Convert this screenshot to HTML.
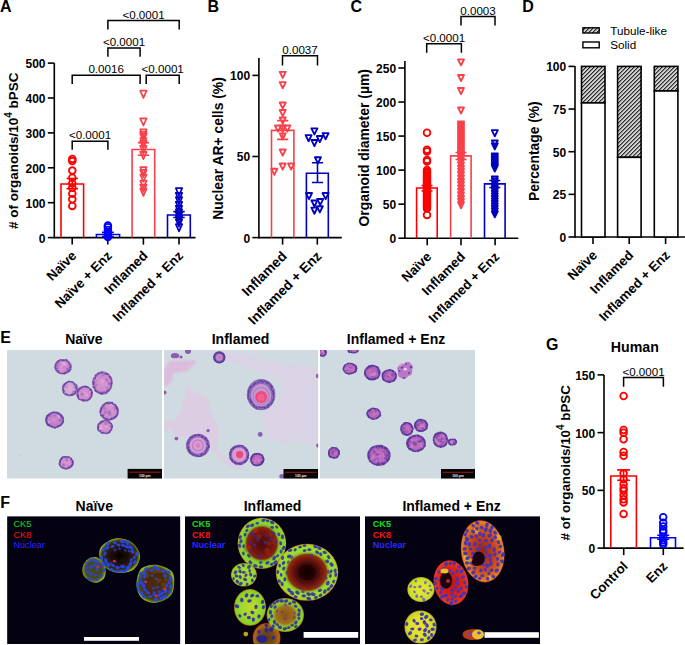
<!DOCTYPE html>
<html><head><meta charset="utf-8"><style>
html,body{margin:0;padding:0;background:#fff;}
svg{display:block;font-family:"Liberation Sans", sans-serif;}
</style></head><body>
<svg width="685" height="645" viewBox="0 0 685 645">
<rect width="685" height="645" fill="#fff"/>
<text x="0.00" y="11.80" font-size="16" font-weight="bold" text-anchor="start" fill="#000" >A</text>
<text x="207.60" y="11.80" font-size="16" font-weight="bold" text-anchor="start" fill="#000" >B</text>
<text x="350.60" y="11.80" font-size="16" font-weight="bold" text-anchor="start" fill="#000" >C</text>
<text x="522.30" y="11.80" font-size="16" font-weight="bold" text-anchor="start" fill="#000" >D</text>
<text x="0.20" y="343.10" font-size="16" font-weight="bold" text-anchor="start" fill="#000" >E</text>
<text x="0.20" y="507.90" font-size="16" font-weight="bold" text-anchor="start" fill="#000" >F</text>
<text x="546.00" y="350.20" font-size="16" font-weight="bold" text-anchor="start" fill="#000" >G</text>
<line x1="54.30" y1="63.10" x2="54.30" y2="238.40" stroke="#000" stroke-width="1.6"/>
<line x1="47.80" y1="237.60" x2="54.30" y2="237.60" stroke="#000" stroke-width="1.6"/>
<text x="45.50" y="242.50" font-size="12" font-weight="bold" text-anchor="end" fill="#000" >0</text>
<line x1="47.80" y1="202.70" x2="54.30" y2="202.70" stroke="#000" stroke-width="1.6"/>
<text x="45.50" y="207.60" font-size="12" font-weight="bold" text-anchor="end" fill="#000" >100</text>
<line x1="47.80" y1="167.80" x2="54.30" y2="167.80" stroke="#000" stroke-width="1.6"/>
<text x="45.50" y="172.70" font-size="12" font-weight="bold" text-anchor="end" fill="#000" >200</text>
<line x1="47.80" y1="132.90" x2="54.30" y2="132.90" stroke="#000" stroke-width="1.6"/>
<text x="45.50" y="137.80" font-size="12" font-weight="bold" text-anchor="end" fill="#000" >300</text>
<line x1="47.80" y1="98.00" x2="54.30" y2="98.00" stroke="#000" stroke-width="1.6"/>
<text x="45.50" y="102.90" font-size="12" font-weight="bold" text-anchor="end" fill="#000" >400</text>
<line x1="47.80" y1="63.10" x2="54.30" y2="63.10" stroke="#000" stroke-width="1.6"/>
<text x="45.50" y="68.00" font-size="12" font-weight="bold" text-anchor="end" fill="#000" >500</text>
<line x1="54.30" y1="237.60" x2="195.50" y2="237.60" stroke="#000" stroke-width="1.6"/>
<line x1="72.20" y1="237.60" x2="72.20" y2="244.60" stroke="#000" stroke-width="1.6"/>
<line x1="107.80" y1="237.60" x2="107.80" y2="244.60" stroke="#000" stroke-width="1.6"/>
<line x1="143.40" y1="237.60" x2="143.40" y2="244.60" stroke="#000" stroke-width="1.6"/>
<line x1="179.00" y1="237.60" x2="179.00" y2="244.60" stroke="#000" stroke-width="1.6"/>
<text x="17.90" y="150.80" font-size="13.45" font-weight="bold" text-anchor="middle" transform="rotate(-90 17.90 150.80)"># of organoids/10<tspan font-size="10" dy="-6.2">4</tspan><tspan dy="6.2"> bPSC</tspan></text>
<path d="M61.00 237.60V184.00H83.60V237.60" fill="none" stroke="#ff0000" stroke-width="1.6"/>
<path d="M96.40 237.60V234.50H119.60V237.60" fill="none" stroke="#0000ff" stroke-width="1.6"/>
<path d="M132.10 237.60V149.50H154.70V237.60" fill="none" stroke="#f8414a" stroke-width="1.6"/>
<path d="M167.50 237.60V215.00H190.30V237.60" fill="none" stroke="#0000bf" stroke-width="1.6"/>
<circle cx="72.30" cy="158.90" r="3.35" fill="none" stroke="#ff0000" stroke-width="1.8"/>
<circle cx="72.30" cy="161.10" r="3.35" fill="none" stroke="#ff0000" stroke-width="1.8"/>
<circle cx="72.30" cy="170.60" r="3.35" fill="none" stroke="#ff0000" stroke-width="1.8"/>
<circle cx="72.30" cy="177.70" r="3.35" fill="none" stroke="#ff0000" stroke-width="1.8"/>
<circle cx="72.30" cy="183.20" r="3.35" fill="none" stroke="#ff0000" stroke-width="1.8"/>
<circle cx="72.30" cy="187.80" r="3.35" fill="none" stroke="#ff0000" stroke-width="1.8"/>
<circle cx="72.30" cy="193.80" r="3.35" fill="none" stroke="#ff0000" stroke-width="1.8"/>
<circle cx="72.30" cy="199.30" r="3.35" fill="none" stroke="#ff0000" stroke-width="1.8"/>
<circle cx="72.30" cy="205.90" r="3.35" fill="none" stroke="#ff0000" stroke-width="1.8"/>
<path d="M66.60 178.50H78.00M72.30 178.50V188.60M66.60 188.60H78.00" fill="none" stroke="#ff0000" stroke-width="1.6"/>
<circle cx="107.90" cy="225.50" r="3.35" fill="none" stroke="#0000ff" stroke-width="1.8"/>
<circle cx="107.90" cy="227.30" r="3.35" fill="none" stroke="#0000ff" stroke-width="1.8"/>
<circle cx="107.90" cy="230.00" r="3.35" fill="none" stroke="#0000ff" stroke-width="1.8"/>
<circle cx="107.90" cy="232.70" r="3.35" fill="none" stroke="#0000ff" stroke-width="1.8"/>
<circle cx="107.90" cy="235.00" r="3.35" fill="none" stroke="#0000ff" stroke-width="1.8"/>
<circle cx="107.90" cy="236.90" r="3.35" fill="none" stroke="#0000ff" stroke-width="1.8"/>
<path d="M102.00 232.40H113.80M107.90 232.40V236.50M102.00 236.50H113.80" fill="none" stroke="#0000ff" stroke-width="1.6"/>
<path d="M140.20 90.70H146.60L143.40 97.90Z" fill="none" stroke="#f8414a" stroke-width="1.7" stroke-linejoin="round"/>
<path d="M140.20 118.30H146.60L143.40 125.50Z" fill="none" stroke="#f8414a" stroke-width="1.7" stroke-linejoin="round"/>
<path d="M140.20 129.30H146.60L143.40 136.50Z" fill="none" stroke="#f8414a" stroke-width="1.7" stroke-linejoin="round"/>
<path d="M140.20 131.90H146.60L143.40 139.10Z" fill="none" stroke="#f8414a" stroke-width="1.7" stroke-linejoin="round"/>
<path d="M140.20 133.70H146.60L143.40 140.90Z" fill="none" stroke="#f8414a" stroke-width="1.7" stroke-linejoin="round"/>
<path d="M140.20 138.00H146.60L143.40 145.20Z" fill="none" stroke="#f8414a" stroke-width="1.7" stroke-linejoin="round"/>
<path d="M140.20 140.90H146.60L143.40 148.10Z" fill="none" stroke="#f8414a" stroke-width="1.7" stroke-linejoin="round"/>
<path d="M140.20 145.90H146.60L143.40 153.10Z" fill="none" stroke="#f8414a" stroke-width="1.7" stroke-linejoin="round"/>
<path d="M140.20 151.90H146.60L143.40 159.10Z" fill="none" stroke="#f8414a" stroke-width="1.7" stroke-linejoin="round"/>
<path d="M140.20 167.20H146.60L143.40 174.40Z" fill="none" stroke="#f8414a" stroke-width="1.7" stroke-linejoin="round"/>
<path d="M140.20 169.90H146.60L143.40 177.10Z" fill="none" stroke="#f8414a" stroke-width="1.7" stroke-linejoin="round"/>
<path d="M140.20 174.50H146.60L143.40 181.70Z" fill="none" stroke="#f8414a" stroke-width="1.7" stroke-linejoin="round"/>
<path d="M140.20 180.70H146.60L143.40 187.90Z" fill="none" stroke="#f8414a" stroke-width="1.7" stroke-linejoin="round"/>
<path d="M140.20 184.60H146.60L143.40 191.80Z" fill="none" stroke="#f8414a" stroke-width="1.7" stroke-linejoin="round"/>
<path d="M140.20 188.60H146.60L143.40 195.80Z" fill="none" stroke="#f8414a" stroke-width="1.7" stroke-linejoin="round"/>
<path d="M137.80 142.60H149.00M143.40 142.60V155.30M137.80 155.30H149.00" fill="none" stroke="#f8414a" stroke-width="1.6"/>
<path d="M175.80 188.20H182.20L179.00 195.40Z" fill="none" stroke="#0000bf" stroke-width="1.7" stroke-linejoin="round"/>
<path d="M175.80 192.90H182.20L179.00 200.10Z" fill="none" stroke="#0000bf" stroke-width="1.7" stroke-linejoin="round"/>
<path d="M175.80 197.20H182.20L179.00 204.40Z" fill="none" stroke="#0000bf" stroke-width="1.7" stroke-linejoin="round"/>
<path d="M175.80 201.90H182.20L179.00 209.10Z" fill="none" stroke="#0000bf" stroke-width="1.7" stroke-linejoin="round"/>
<path d="M175.80 205.90H182.20L179.00 213.10Z" fill="none" stroke="#0000bf" stroke-width="1.7" stroke-linejoin="round"/>
<path d="M175.80 209.40H182.20L179.00 216.60Z" fill="none" stroke="#0000bf" stroke-width="1.7" stroke-linejoin="round"/>
<path d="M175.80 212.40H182.20L179.00 219.60Z" fill="none" stroke="#0000bf" stroke-width="1.7" stroke-linejoin="round"/>
<path d="M175.80 215.90H182.20L179.00 223.10Z" fill="none" stroke="#0000bf" stroke-width="1.7" stroke-linejoin="round"/>
<path d="M175.80 219.40H182.20L179.00 226.60Z" fill="none" stroke="#0000bf" stroke-width="1.7" stroke-linejoin="round"/>
<path d="M175.80 224.20H182.20L179.00 231.40Z" fill="none" stroke="#0000bf" stroke-width="1.7" stroke-linejoin="round"/>
<path d="M173.30 211.60H184.70M179.00 211.60V217.50M173.30 217.50H184.70" fill="none" stroke="#0000bf" stroke-width="1.6"/>
<path d="M72.20 149.80V141.30H107.90V149.80" fill="none" stroke="#000" stroke-width="1.5"/>
<text x="90.05" y="139.40" font-size="11.6" font-weight="normal" text-anchor="middle" fill="#000" >&lt;0.0001</text>
<path d="M72.20 84.00V75.20H140.10V84.00" fill="none" stroke="#000" stroke-width="1.5"/>
<text x="106.15" y="73.30" font-size="11.6" font-weight="normal" text-anchor="middle" fill="#000" >0.0016</text>
<path d="M146.20 84.00V75.20H179.20V84.00" fill="none" stroke="#000" stroke-width="1.5"/>
<text x="162.70" y="73.30" font-size="11.6" font-weight="normal" text-anchor="middle" fill="#000" >&lt;0.0001</text>
<path d="M107.90 56.80V48.10H140.10V56.80" fill="none" stroke="#000" stroke-width="1.5"/>
<text x="124.00" y="46.20" font-size="11.6" font-weight="normal" text-anchor="middle" fill="#000" >&lt;0.0001</text>
<path d="M107.90 29.50V20.40H179.20V29.50" fill="none" stroke="#000" stroke-width="1.5"/>
<text x="143.55" y="18.50" font-size="11.6" font-weight="normal" text-anchor="middle" fill="#000" >&lt;0.0001</text>
<text x="77.20" y="256.50" font-size="13.3" font-weight="bold" text-anchor="end" transform="rotate(-45 77.20 256.50)">Naïve</text>
<text x="112.80" y="256.50" font-size="13.3" font-weight="bold" text-anchor="end" transform="rotate(-45 112.80 256.50)">Naïve + Enz</text>
<text x="148.40" y="256.50" font-size="13.3" font-weight="bold" text-anchor="end" transform="rotate(-45 148.40 256.50)">Inflamed</text>
<text x="184.00" y="256.50" font-size="13.3" font-weight="bold" text-anchor="end" transform="rotate(-45 184.00 256.50)">Inflamed + Enz</text>
<line x1="258.90" y1="58.10" x2="258.90" y2="238.40" stroke="#000" stroke-width="1.6"/>
<line x1="252.40" y1="237.60" x2="258.90" y2="237.60" stroke="#000" stroke-width="1.6"/>
<text x="250.10" y="242.50" font-size="12" font-weight="bold" text-anchor="end" fill="#000" >0</text>
<line x1="252.40" y1="156.50" x2="258.90" y2="156.50" stroke="#000" stroke-width="1.6"/>
<text x="250.10" y="161.40" font-size="12" font-weight="bold" text-anchor="end" fill="#000" >50</text>
<line x1="252.40" y1="75.40" x2="258.90" y2="75.40" stroke="#000" stroke-width="1.6"/>
<text x="250.10" y="80.30" font-size="12" font-weight="bold" text-anchor="end" fill="#000" >100</text>
<line x1="258.90" y1="237.60" x2="341.80" y2="237.60" stroke="#000" stroke-width="1.6"/>
<line x1="282.60" y1="237.60" x2="282.60" y2="244.60" stroke="#000" stroke-width="1.6"/>
<line x1="317.30" y1="237.60" x2="317.30" y2="244.60" stroke="#000" stroke-width="1.6"/>
<text x="222.50" y="148.50" font-size="13.9" font-weight="bold" text-anchor="middle" transform="rotate(-90 222.50 148.50)">Nuclear AR+ cells (%)</text>
<path d="M271.50 237.60V130.40H293.90V237.60" fill="none" stroke="#f8414a" stroke-width="1.6"/>
<path d="M306.40 237.60V173.30H328.30V237.60" fill="none" stroke="#0000bf" stroke-width="1.6"/>
<path d="M277.10 120.60H288.30M282.70 120.60V139.40M277.10 139.40H288.30" fill="none" stroke="#f8414a" stroke-width="1.6"/>
<path d="M311.90 162.70H323.10M317.50 162.70V182.50M311.90 182.50H323.10" fill="none" stroke="#0000bf" stroke-width="1.6"/>
<path d="M279.70 71.85H285.70L282.70 77.95Z" fill="none" stroke="#f8414a" stroke-width="1.9" stroke-linejoin="round"/>
<path d="M279.70 82.15H285.70L282.70 88.25Z" fill="none" stroke="#f8414a" stroke-width="1.9" stroke-linejoin="round"/>
<path d="M279.70 102.55H285.70L282.70 108.65Z" fill="none" stroke="#f8414a" stroke-width="1.9" stroke-linejoin="round"/>
<path d="M279.70 110.05H285.70L282.70 116.15Z" fill="none" stroke="#f8414a" stroke-width="1.9" stroke-linejoin="round"/>
<path d="M279.70 117.55H285.70L282.70 123.65Z" fill="none" stroke="#f8414a" stroke-width="1.9" stroke-linejoin="round"/>
<path d="M275.00 125.55H281.00L278.00 131.65Z" fill="none" stroke="#f8414a" stroke-width="1.9" stroke-linejoin="round"/>
<path d="M279.70 125.55H285.70L282.70 131.65Z" fill="none" stroke="#f8414a" stroke-width="1.9" stroke-linejoin="round"/>
<path d="M284.30 125.55H290.30L287.30 131.65Z" fill="none" stroke="#f8414a" stroke-width="1.9" stroke-linejoin="round"/>
<path d="M279.70 133.35H285.70L282.70 139.45Z" fill="none" stroke="#f8414a" stroke-width="1.9" stroke-linejoin="round"/>
<path d="M279.70 149.55H285.70L282.70 155.65Z" fill="none" stroke="#f8414a" stroke-width="1.9" stroke-linejoin="round"/>
<path d="M279.70 163.55H285.70L282.70 169.65Z" fill="none" stroke="#f8414a" stroke-width="1.9" stroke-linejoin="round"/>
<path d="M288.10 163.55H294.10L291.10 169.65Z" fill="none" stroke="#f8414a" stroke-width="1.9" stroke-linejoin="round"/>
<path d="M271.30 168.75H277.30L274.30 174.85Z" fill="none" stroke="#f8414a" stroke-width="1.9" stroke-linejoin="round"/>
<path d="M311.40 128.35H317.40L314.40 134.45Z" fill="none" stroke="#0000bf" stroke-width="1.9" stroke-linejoin="round"/>
<path d="M305.60 135.15H311.60L308.60 141.25Z" fill="none" stroke="#0000bf" stroke-width="1.9" stroke-linejoin="round"/>
<path d="M311.40 139.95H317.40L314.40 146.05Z" fill="none" stroke="#0000bf" stroke-width="1.9" stroke-linejoin="round"/>
<path d="M316.80 136.05H322.80L319.80 142.15Z" fill="none" stroke="#0000bf" stroke-width="1.9" stroke-linejoin="round"/>
<path d="M322.60 133.15H328.60L325.60 139.25Z" fill="none" stroke="#0000bf" stroke-width="1.9" stroke-linejoin="round"/>
<path d="M314.90 157.25H320.90L317.90 163.35Z" fill="none" stroke="#0000bf" stroke-width="1.9" stroke-linejoin="round"/>
<path d="M306.00 193.05H312.00L309.00 199.15Z" fill="none" stroke="#0000bf" stroke-width="1.9" stroke-linejoin="round"/>
<path d="M322.60 193.05H328.60L325.60 199.15Z" fill="none" stroke="#0000bf" stroke-width="1.9" stroke-linejoin="round"/>
<path d="M311.40 200.45H317.40L314.40 206.55Z" fill="none" stroke="#0000bf" stroke-width="1.9" stroke-linejoin="round"/>
<path d="M317.20 198.95H323.20L320.20 205.05Z" fill="none" stroke="#0000bf" stroke-width="1.9" stroke-linejoin="round"/>
<path d="M311.40 207.65H317.40L314.40 213.75Z" fill="none" stroke="#0000bf" stroke-width="1.9" stroke-linejoin="round"/>
<path d="M316.80 206.25H322.80L319.80 212.35Z" fill="none" stroke="#0000bf" stroke-width="1.9" stroke-linejoin="round"/>
<path d="M282.50 65.50V55.80H317.50V65.50" fill="none" stroke="#000" stroke-width="1.5"/>
<text x="300.00" y="53.90" font-size="11.6" font-weight="normal" text-anchor="middle" fill="#000" >0.0037</text>
<text x="287.60" y="257.00" font-size="13.8" font-weight="bold" text-anchor="end" transform="rotate(-45 287.60 257.00)">Inflamed</text>
<text x="322.30" y="257.00" font-size="13.8" font-weight="bold" text-anchor="end" transform="rotate(-45 322.30 257.00)">Inflamed + Enz</text>
<line x1="404.90" y1="60.90" x2="404.90" y2="239.00" stroke="#000" stroke-width="1.6"/>
<line x1="398.40" y1="238.20" x2="404.90" y2="238.20" stroke="#000" stroke-width="1.6"/>
<text x="396.10" y="243.10" font-size="12" font-weight="bold" text-anchor="end" fill="#000" >0</text>
<line x1="398.40" y1="204.16" x2="404.90" y2="204.16" stroke="#000" stroke-width="1.6"/>
<text x="396.10" y="209.06" font-size="12" font-weight="bold" text-anchor="end" fill="#000" >50</text>
<line x1="398.40" y1="170.12" x2="404.90" y2="170.12" stroke="#000" stroke-width="1.6"/>
<text x="396.10" y="175.02" font-size="12" font-weight="bold" text-anchor="end" fill="#000" >100</text>
<line x1="398.40" y1="136.08" x2="404.90" y2="136.08" stroke="#000" stroke-width="1.6"/>
<text x="396.10" y="140.98" font-size="12" font-weight="bold" text-anchor="end" fill="#000" >150</text>
<line x1="398.40" y1="102.04" x2="404.90" y2="102.04" stroke="#000" stroke-width="1.6"/>
<text x="396.10" y="106.94" font-size="12" font-weight="bold" text-anchor="end" fill="#000" >200</text>
<line x1="398.40" y1="68.00" x2="404.90" y2="68.00" stroke="#000" stroke-width="1.6"/>
<text x="396.10" y="72.90" font-size="12" font-weight="bold" text-anchor="end" fill="#000" >250</text>
<line x1="404.90" y1="238.20" x2="518.30" y2="238.20" stroke="#000" stroke-width="1.6"/>
<line x1="427.20" y1="238.20" x2="427.20" y2="245.20" stroke="#000" stroke-width="1.6"/>
<line x1="461.00" y1="238.20" x2="461.00" y2="245.20" stroke="#000" stroke-width="1.6"/>
<line x1="495.10" y1="238.20" x2="495.10" y2="245.20" stroke="#000" stroke-width="1.6"/>
<text x="369.50" y="147.80" font-size="13.95" font-weight="bold" text-anchor="middle" transform="rotate(-90 369.50 147.80)">Organoid diameter (µm)</text>
<path d="M416.60 238.20V188.00H437.20V238.20" fill="none" stroke="#ff0000" stroke-width="1.6"/>
<path d="M450.60 238.20V155.90H471.10V238.20" fill="none" stroke="#f8414a" stroke-width="1.6"/>
<path d="M484.50 238.20V183.90H505.10V238.20" fill="none" stroke="#0000bf" stroke-width="1.6"/>
<circle cx="427.00" cy="132.80" r="3.35" fill="none" stroke="#ff0000" stroke-width="1.8"/>
<circle cx="427.00" cy="149.80" r="3.35" fill="none" stroke="#ff0000" stroke-width="1.8"/>
<circle cx="427.00" cy="151.40" r="3.35" fill="none" stroke="#ff0000" stroke-width="1.8"/>
<circle cx="427.00" cy="159.90" r="3.35" fill="none" stroke="#ff0000" stroke-width="1.8"/>
<circle cx="427.00" cy="161.40" r="3.35" fill="none" stroke="#ff0000" stroke-width="1.8"/>
<circle cx="427.00" cy="170.00" r="3.35" fill="none" stroke="#ff0000" stroke-width="1.8"/>
<circle cx="427.00" cy="171.42" r="3.35" fill="none" stroke="#ff0000" stroke-width="1.8"/>
<circle cx="427.00" cy="172.84" r="3.35" fill="none" stroke="#ff0000" stroke-width="1.8"/>
<circle cx="427.00" cy="174.27" r="3.35" fill="none" stroke="#ff0000" stroke-width="1.8"/>
<circle cx="427.00" cy="175.69" r="3.35" fill="none" stroke="#ff0000" stroke-width="1.8"/>
<circle cx="427.00" cy="177.11" r="3.35" fill="none" stroke="#ff0000" stroke-width="1.8"/>
<circle cx="427.00" cy="178.53" r="3.35" fill="none" stroke="#ff0000" stroke-width="1.8"/>
<circle cx="427.00" cy="179.96" r="3.35" fill="none" stroke="#ff0000" stroke-width="1.8"/>
<circle cx="427.00" cy="181.38" r="3.35" fill="none" stroke="#ff0000" stroke-width="1.8"/>
<circle cx="427.00" cy="182.80" r="3.35" fill="none" stroke="#ff0000" stroke-width="1.8"/>
<circle cx="427.00" cy="184.22" r="3.35" fill="none" stroke="#ff0000" stroke-width="1.8"/>
<circle cx="427.00" cy="185.64" r="3.35" fill="none" stroke="#ff0000" stroke-width="1.8"/>
<circle cx="427.00" cy="187.07" r="3.35" fill="none" stroke="#ff0000" stroke-width="1.8"/>
<circle cx="427.00" cy="188.49" r="3.35" fill="none" stroke="#ff0000" stroke-width="1.8"/>
<circle cx="427.00" cy="189.91" r="3.35" fill="none" stroke="#ff0000" stroke-width="1.8"/>
<circle cx="427.00" cy="191.33" r="3.35" fill="none" stroke="#ff0000" stroke-width="1.8"/>
<circle cx="427.00" cy="192.76" r="3.35" fill="none" stroke="#ff0000" stroke-width="1.8"/>
<circle cx="427.00" cy="194.18" r="3.35" fill="none" stroke="#ff0000" stroke-width="1.8"/>
<circle cx="427.00" cy="195.60" r="3.35" fill="none" stroke="#ff0000" stroke-width="1.8"/>
<circle cx="427.00" cy="197.02" r="3.35" fill="none" stroke="#ff0000" stroke-width="1.8"/>
<circle cx="427.00" cy="198.44" r="3.35" fill="none" stroke="#ff0000" stroke-width="1.8"/>
<circle cx="427.00" cy="199.87" r="3.35" fill="none" stroke="#ff0000" stroke-width="1.8"/>
<circle cx="427.00" cy="201.29" r="3.35" fill="none" stroke="#ff0000" stroke-width="1.8"/>
<circle cx="427.00" cy="202.71" r="3.35" fill="none" stroke="#ff0000" stroke-width="1.8"/>
<circle cx="427.00" cy="204.13" r="3.35" fill="none" stroke="#ff0000" stroke-width="1.8"/>
<circle cx="427.00" cy="205.56" r="3.35" fill="none" stroke="#ff0000" stroke-width="1.8"/>
<circle cx="427.00" cy="206.98" r="3.35" fill="none" stroke="#ff0000" stroke-width="1.8"/>
<circle cx="427.00" cy="208.40" r="3.35" fill="none" stroke="#ff0000" stroke-width="1.8"/>
<circle cx="427.00" cy="214.90" r="3.35" fill="none" stroke="#ff0000" stroke-width="1.8"/>
<path d="M421.50 185.50H432.50M427.00 185.50V191.00M421.50 191.00H432.50" fill="none" stroke="#ff0000" stroke-width="1.6"/>
<path d="M458.00 59.35H464.00L461.00 65.45Z" fill="none" stroke="#f8414a" stroke-width="1.9" stroke-linejoin="round"/>
<path d="M458.00 74.95H464.00L461.00 81.05Z" fill="none" stroke="#f8414a" stroke-width="1.9" stroke-linejoin="round"/>
<path d="M458.00 87.95H464.00L461.00 94.05Z" fill="none" stroke="#f8414a" stroke-width="1.9" stroke-linejoin="round"/>
<path d="M458.00 107.45H464.00L461.00 113.55Z" fill="none" stroke="#f8414a" stroke-width="1.9" stroke-linejoin="round"/>
<path d="M458.00 121.45H464.00L461.00 127.55Z" fill="none" stroke="#f8414a" stroke-width="1.9" stroke-linejoin="round"/>
<path d="M458.00 123.05H464.00L461.00 129.15Z" fill="none" stroke="#f8414a" stroke-width="1.9" stroke-linejoin="round"/>
<path d="M458.00 124.65H464.00L461.00 130.75Z" fill="none" stroke="#f8414a" stroke-width="1.9" stroke-linejoin="round"/>
<path d="M458.00 126.25H464.00L461.00 132.35Z" fill="none" stroke="#f8414a" stroke-width="1.9" stroke-linejoin="round"/>
<path d="M458.00 127.85H464.00L461.00 133.95Z" fill="none" stroke="#f8414a" stroke-width="1.9" stroke-linejoin="round"/>
<path d="M458.00 129.45H464.00L461.00 135.55Z" fill="none" stroke="#f8414a" stroke-width="1.9" stroke-linejoin="round"/>
<path d="M458.00 131.05H464.00L461.00 137.15Z" fill="none" stroke="#f8414a" stroke-width="1.9" stroke-linejoin="round"/>
<path d="M458.00 132.65H464.00L461.00 138.75Z" fill="none" stroke="#f8414a" stroke-width="1.9" stroke-linejoin="round"/>
<path d="M458.00 134.25H464.00L461.00 140.35Z" fill="none" stroke="#f8414a" stroke-width="1.9" stroke-linejoin="round"/>
<path d="M458.00 135.85H464.00L461.00 141.95Z" fill="none" stroke="#f8414a" stroke-width="1.9" stroke-linejoin="round"/>
<path d="M458.00 137.45H464.00L461.00 143.55Z" fill="none" stroke="#f8414a" stroke-width="1.9" stroke-linejoin="round"/>
<path d="M458.00 139.05H464.00L461.00 145.15Z" fill="none" stroke="#f8414a" stroke-width="1.9" stroke-linejoin="round"/>
<path d="M458.00 140.65H464.00L461.00 146.75Z" fill="none" stroke="#f8414a" stroke-width="1.9" stroke-linejoin="round"/>
<path d="M458.00 142.25H464.00L461.00 148.35Z" fill="none" stroke="#f8414a" stroke-width="1.9" stroke-linejoin="round"/>
<path d="M458.00 143.85H464.00L461.00 149.95Z" fill="none" stroke="#f8414a" stroke-width="1.9" stroke-linejoin="round"/>
<path d="M458.00 145.45H464.00L461.00 151.55Z" fill="none" stroke="#f8414a" stroke-width="1.9" stroke-linejoin="round"/>
<path d="M458.00 147.05H464.00L461.00 153.15Z" fill="none" stroke="#f8414a" stroke-width="1.9" stroke-linejoin="round"/>
<path d="M458.00 148.65H464.00L461.00 154.75Z" fill="none" stroke="#f8414a" stroke-width="1.9" stroke-linejoin="round"/>
<path d="M458.00 150.25H464.00L461.00 156.35Z" fill="none" stroke="#f8414a" stroke-width="1.9" stroke-linejoin="round"/>
<path d="M458.00 151.85H464.00L461.00 157.95Z" fill="none" stroke="#f8414a" stroke-width="1.9" stroke-linejoin="round"/>
<path d="M458.00 153.45H464.00L461.00 159.55Z" fill="none" stroke="#f8414a" stroke-width="1.9" stroke-linejoin="round"/>
<path d="M458.00 155.05H464.00L461.00 161.15Z" fill="none" stroke="#f8414a" stroke-width="1.9" stroke-linejoin="round"/>
<path d="M458.00 156.65H464.00L461.00 162.75Z" fill="none" stroke="#f8414a" stroke-width="1.9" stroke-linejoin="round"/>
<path d="M458.00 158.95H464.00L461.00 165.05Z" fill="none" stroke="#f8414a" stroke-width="1.9" stroke-linejoin="round"/>
<path d="M458.00 162.45H464.00L461.00 168.55Z" fill="none" stroke="#f8414a" stroke-width="1.9" stroke-linejoin="round"/>
<path d="M458.00 165.95H464.00L461.00 172.05Z" fill="none" stroke="#f8414a" stroke-width="1.9" stroke-linejoin="round"/>
<path d="M458.00 168.95H464.00L461.00 175.05Z" fill="none" stroke="#f8414a" stroke-width="1.9" stroke-linejoin="round"/>
<path d="M458.00 171.95H464.00L461.00 178.05Z" fill="none" stroke="#f8414a" stroke-width="1.9" stroke-linejoin="round"/>
<path d="M458.00 175.45H464.00L461.00 181.55Z" fill="none" stroke="#f8414a" stroke-width="1.9" stroke-linejoin="round"/>
<path d="M458.00 178.95H464.00L461.00 185.05Z" fill="none" stroke="#f8414a" stroke-width="1.9" stroke-linejoin="round"/>
<path d="M458.00 181.95H464.00L461.00 188.05Z" fill="none" stroke="#f8414a" stroke-width="1.9" stroke-linejoin="round"/>
<path d="M458.00 185.45H464.00L461.00 191.55Z" fill="none" stroke="#f8414a" stroke-width="1.9" stroke-linejoin="round"/>
<path d="M458.00 188.95H464.00L461.00 195.05Z" fill="none" stroke="#f8414a" stroke-width="1.9" stroke-linejoin="round"/>
<path d="M458.00 192.45H464.00L461.00 198.55Z" fill="none" stroke="#f8414a" stroke-width="1.9" stroke-linejoin="round"/>
<path d="M458.00 195.95H464.00L461.00 202.05Z" fill="none" stroke="#f8414a" stroke-width="1.9" stroke-linejoin="round"/>
<path d="M458.00 198.95H464.00L461.00 205.05Z" fill="none" stroke="#f8414a" stroke-width="1.9" stroke-linejoin="round"/>
<path d="M458.00 202.15H464.00L461.00 208.25Z" fill="none" stroke="#f8414a" stroke-width="1.9" stroke-linejoin="round"/>
<path d="M455.50 152.50H466.50M461.00 152.50V159.50M455.50 159.50H466.50" fill="none" stroke="#f8414a" stroke-width="1.6"/>
<path d="M491.80 130.15H497.80L494.80 136.25Z" fill="none" stroke="#0000bf" stroke-width="1.9" stroke-linejoin="round"/>
<path d="M491.80 140.45H497.80L494.80 146.55Z" fill="none" stroke="#0000bf" stroke-width="1.9" stroke-linejoin="round"/>
<path d="M491.80 143.35H497.80L494.80 149.45Z" fill="none" stroke="#0000bf" stroke-width="1.9" stroke-linejoin="round"/>
<path d="M491.80 153.45H497.80L494.80 159.55Z" fill="none" stroke="#0000bf" stroke-width="1.9" stroke-linejoin="round"/>
<path d="M491.80 154.95H497.80L494.80 161.05Z" fill="none" stroke="#0000bf" stroke-width="1.9" stroke-linejoin="round"/>
<path d="M491.80 156.45H497.80L494.80 162.55Z" fill="none" stroke="#0000bf" stroke-width="1.9" stroke-linejoin="round"/>
<path d="M491.80 157.95H497.80L494.80 164.05Z" fill="none" stroke="#0000bf" stroke-width="1.9" stroke-linejoin="round"/>
<path d="M491.80 159.45H497.80L494.80 165.55Z" fill="none" stroke="#0000bf" stroke-width="1.9" stroke-linejoin="round"/>
<path d="M491.80 160.95H497.80L494.80 167.05Z" fill="none" stroke="#0000bf" stroke-width="1.9" stroke-linejoin="round"/>
<path d="M491.80 162.45H497.80L494.80 168.55Z" fill="none" stroke="#0000bf" stroke-width="1.9" stroke-linejoin="round"/>
<path d="M491.80 163.95H497.80L494.80 170.05Z" fill="none" stroke="#0000bf" stroke-width="1.9" stroke-linejoin="round"/>
<path d="M491.80 165.45H497.80L494.80 171.55Z" fill="none" stroke="#0000bf" stroke-width="1.9" stroke-linejoin="round"/>
<path d="M491.80 176.45H497.80L494.80 182.55Z" fill="none" stroke="#0000bf" stroke-width="1.9" stroke-linejoin="round"/>
<path d="M491.80 178.45H497.80L494.80 184.55Z" fill="none" stroke="#0000bf" stroke-width="1.9" stroke-linejoin="round"/>
<path d="M491.80 180.95H497.80L494.80 187.05Z" fill="none" stroke="#0000bf" stroke-width="1.9" stroke-linejoin="round"/>
<path d="M491.80 183.45H497.80L494.80 189.55Z" fill="none" stroke="#0000bf" stroke-width="1.9" stroke-linejoin="round"/>
<path d="M491.80 185.95H497.80L494.80 192.05Z" fill="none" stroke="#0000bf" stroke-width="1.9" stroke-linejoin="round"/>
<path d="M491.80 188.45H497.80L494.80 194.55Z" fill="none" stroke="#0000bf" stroke-width="1.9" stroke-linejoin="round"/>
<path d="M491.80 190.95H497.80L494.80 197.05Z" fill="none" stroke="#0000bf" stroke-width="1.9" stroke-linejoin="round"/>
<path d="M491.80 193.45H497.80L494.80 199.55Z" fill="none" stroke="#0000bf" stroke-width="1.9" stroke-linejoin="round"/>
<path d="M491.80 195.95H497.80L494.80 202.05Z" fill="none" stroke="#0000bf" stroke-width="1.9" stroke-linejoin="round"/>
<path d="M491.80 198.45H497.80L494.80 204.55Z" fill="none" stroke="#0000bf" stroke-width="1.9" stroke-linejoin="round"/>
<path d="M491.80 200.95H497.80L494.80 207.05Z" fill="none" stroke="#0000bf" stroke-width="1.9" stroke-linejoin="round"/>
<path d="M491.80 203.45H497.80L494.80 209.55Z" fill="none" stroke="#0000bf" stroke-width="1.9" stroke-linejoin="round"/>
<path d="M491.80 205.95H497.80L494.80 212.05Z" fill="none" stroke="#0000bf" stroke-width="1.9" stroke-linejoin="round"/>
<path d="M491.80 208.45H497.80L494.80 214.55Z" fill="none" stroke="#0000bf" stroke-width="1.9" stroke-linejoin="round"/>
<path d="M491.80 211.25H497.80L494.80 217.35Z" fill="none" stroke="#0000bf" stroke-width="1.9" stroke-linejoin="round"/>
<path d="M489.30 180.50H500.30M494.80 180.50V187.50M489.30 187.50H500.30" fill="none" stroke="#0000bf" stroke-width="1.6"/>
<path d="M426.70 52.80V43.80H461.40V52.80" fill="none" stroke="#000" stroke-width="1.5"/>
<text x="444.05" y="41.90" font-size="11.6" font-weight="normal" text-anchor="middle" fill="#000" >&lt;0.0001</text>
<path d="M461.00 25.50V16.50H495.00V25.50" fill="none" stroke="#000" stroke-width="1.5"/>
<text x="478.00" y="14.60" font-size="11.6" font-weight="normal" text-anchor="middle" fill="#000" >0.0003</text>
<text x="432.20" y="257.60" font-size="13.3" font-weight="bold" text-anchor="end" transform="rotate(-45 432.20 257.60)">Naïve</text>
<text x="466.00" y="257.60" font-size="13.3" font-weight="bold" text-anchor="end" transform="rotate(-45 466.00 257.60)">Inflamed</text>
<text x="500.10" y="257.60" font-size="13.3" font-weight="bold" text-anchor="end" transform="rotate(-45 500.10 257.60)">Inflamed + Enz</text>
<line x1="575.00" y1="66.00" x2="575.00" y2="237.80" stroke="#000" stroke-width="1.6"/>
<line x1="568.50" y1="237.00" x2="575.00" y2="237.00" stroke="#000" stroke-width="1.6"/>
<text x="566.20" y="241.90" font-size="12" font-weight="bold" text-anchor="end" fill="#000" >0</text>
<line x1="568.50" y1="194.35" x2="575.00" y2="194.35" stroke="#000" stroke-width="1.6"/>
<text x="566.20" y="199.25" font-size="12" font-weight="bold" text-anchor="end" fill="#000" >25</text>
<line x1="568.50" y1="151.70" x2="575.00" y2="151.70" stroke="#000" stroke-width="1.6"/>
<text x="566.20" y="156.60" font-size="12" font-weight="bold" text-anchor="end" fill="#000" >50</text>
<line x1="568.50" y1="109.05" x2="575.00" y2="109.05" stroke="#000" stroke-width="1.6"/>
<text x="566.20" y="113.95" font-size="12" font-weight="bold" text-anchor="end" fill="#000" >75</text>
<line x1="568.50" y1="66.40" x2="575.00" y2="66.40" stroke="#000" stroke-width="1.6"/>
<text x="566.20" y="71.30" font-size="12" font-weight="bold" text-anchor="end" fill="#000" >100</text>
<line x1="575.00" y1="237.00" x2="685.50" y2="237.00" stroke="#000" stroke-width="1.6"/>
<line x1="593.00" y1="237.00" x2="593.00" y2="244.00" stroke="#000" stroke-width="1.6"/>
<line x1="629.20" y1="237.00" x2="629.20" y2="244.00" stroke="#000" stroke-width="1.6"/>
<line x1="665.60" y1="237.00" x2="665.60" y2="244.00" stroke="#000" stroke-width="1.6"/>
<text x="539.00" y="151.20" font-size="13.8" font-weight="bold" text-anchor="middle" transform="rotate(-90 539.00 151.20)">Percentage (%)</text>
<defs><pattern id="hatch" patternUnits="userSpaceOnUse" width="2.83" height="4" patternTransform="rotate(45)"><rect width="2.83" height="4" fill="#fff"/><line x1="0.7" y1="0" x2="0.7" y2="4" stroke="#000" stroke-width="1.15"/></pattern></defs>
<rect x="581.5" y="66.40" width="23.50" height="36.51" fill="url(#hatch)" stroke="#000" stroke-width="1.6"/>
<rect x="581.5" y="102.91" width="23.50" height="134.09" fill="#fff" stroke="#000" stroke-width="1.6"/>
<rect x="617.6" y="66.40" width="23.50" height="90.93" fill="url(#hatch)" stroke="#000" stroke-width="1.6"/>
<rect x="617.6" y="157.33" width="23.50" height="79.67" fill="#fff" stroke="#000" stroke-width="1.6"/>
<rect x="654.3" y="66.40" width="23.60" height="24.57" fill="url(#hatch)" stroke="#000" stroke-width="1.6"/>
<rect x="654.3" y="90.97" width="23.60" height="146.03" fill="#fff" stroke="#000" stroke-width="1.6"/>
<rect x="582.9" y="27.8" width="16.3" height="5.2" fill="url(#hatch)" stroke="#000" stroke-width="1.4"/>
<rect x="582.9" y="42.0" width="16.3" height="5.8" fill="#fff" stroke="#000" stroke-width="1.4"/>
<text x="610.20" y="34.80" font-size="11.7" font-weight="normal" text-anchor="start" fill="#000" >Tubule-like</text>
<text x="610.20" y="49.10" font-size="11.7" font-weight="normal" text-anchor="start" fill="#000" >Solid</text>
<text x="598.00" y="256.00" font-size="13.3" font-weight="bold" text-anchor="end" transform="rotate(-45 598.00 256.00)">Naïve</text>
<text x="634.20" y="256.00" font-size="13.3" font-weight="bold" text-anchor="end" transform="rotate(-45 634.20 256.00)">Inflamed</text>
<text x="670.60" y="256.00" font-size="13.3" font-weight="bold" text-anchor="end" transform="rotate(-45 670.60 256.00)">Inflamed + Enz</text>
<line x1="604.00" y1="375.10" x2="604.00" y2="548.90" stroke="#000" stroke-width="1.6"/>
<line x1="597.50" y1="548.10" x2="604.00" y2="548.10" stroke="#000" stroke-width="1.6"/>
<text x="595.20" y="553.00" font-size="12" font-weight="bold" text-anchor="end" fill="#000" >0</text>
<line x1="597.50" y1="490.37" x2="604.00" y2="490.37" stroke="#000" stroke-width="1.6"/>
<text x="595.20" y="495.26" font-size="12" font-weight="bold" text-anchor="end" fill="#000" >50</text>
<line x1="597.50" y1="432.63" x2="604.00" y2="432.63" stroke="#000" stroke-width="1.6"/>
<text x="595.20" y="437.53" font-size="12" font-weight="bold" text-anchor="end" fill="#000" >100</text>
<line x1="597.50" y1="374.89" x2="604.00" y2="374.89" stroke="#000" stroke-width="1.6"/>
<text x="595.20" y="379.79" font-size="12" font-weight="bold" text-anchor="end" fill="#000" >150</text>
<line x1="604.00" y1="548.10" x2="683.60" y2="548.10" stroke="#000" stroke-width="1.6"/>
<line x1="623.70" y1="548.10" x2="623.70" y2="555.10" stroke="#000" stroke-width="1.6"/>
<line x1="663.30" y1="548.10" x2="663.30" y2="555.10" stroke="#000" stroke-width="1.6"/>
<text x="570.00" y="462.80" font-size="13.35" font-weight="bold" text-anchor="middle" transform="rotate(-90 570.00 462.80)"># of organoids/10<tspan font-size="10" dy="-6.2">4</tspan><tspan dy="6.2"> bPSC</tspan></text>
<text x="634.80" y="352.20" font-size="14.2" font-weight="bold" text-anchor="middle" fill="#000" >Human</text>
<path d="M610.80 548.10V476.00H636.40V548.10" fill="none" stroke="#ff0000" stroke-width="1.6"/>
<path d="M650.50 548.10V537.70H675.50V548.10" fill="none" stroke="#0000ff" stroke-width="1.6"/>
<circle cx="623.60" cy="396.00" r="3.35" fill="none" stroke="#ff0000" stroke-width="1.8"/>
<circle cx="623.60" cy="430.00" r="3.35" fill="none" stroke="#ff0000" stroke-width="1.8"/>
<circle cx="623.60" cy="432.80" r="3.35" fill="none" stroke="#ff0000" stroke-width="1.8"/>
<circle cx="623.60" cy="439.30" r="3.35" fill="none" stroke="#ff0000" stroke-width="1.8"/>
<circle cx="623.60" cy="451.90" r="3.35" fill="none" stroke="#ff0000" stroke-width="1.8"/>
<circle cx="623.60" cy="455.80" r="3.35" fill="none" stroke="#ff0000" stroke-width="1.8"/>
<circle cx="623.60" cy="473.60" r="3.35" fill="none" stroke="#ff0000" stroke-width="1.8"/>
<circle cx="623.60" cy="479.20" r="3.35" fill="none" stroke="#ff0000" stroke-width="1.8"/>
<circle cx="623.60" cy="484.20" r="3.35" fill="none" stroke="#ff0000" stroke-width="1.8"/>
<circle cx="623.60" cy="488.20" r="3.35" fill="none" stroke="#ff0000" stroke-width="1.8"/>
<circle cx="623.60" cy="490.80" r="3.35" fill="none" stroke="#ff0000" stroke-width="1.8"/>
<circle cx="623.60" cy="495.30" r="3.35" fill="none" stroke="#ff0000" stroke-width="1.8"/>
<circle cx="623.60" cy="499.30" r="3.35" fill="none" stroke="#ff0000" stroke-width="1.8"/>
<circle cx="623.60" cy="502.40" r="3.35" fill="none" stroke="#ff0000" stroke-width="1.8"/>
<circle cx="623.60" cy="513.90" r="3.35" fill="none" stroke="#ff0000" stroke-width="1.8"/>
<path d="M617.20 469.90H630.00M623.60 469.90V480.20M617.20 480.20H630.00" fill="none" stroke="#ff0000" stroke-width="1.6"/>
<circle cx="663.20" cy="517.20" r="3.35" fill="none" stroke="#0000ff" stroke-width="1.8"/>
<circle cx="663.20" cy="522.80" r="3.35" fill="none" stroke="#0000ff" stroke-width="1.8"/>
<circle cx="663.20" cy="526.50" r="3.35" fill="none" stroke="#0000ff" stroke-width="1.8"/>
<circle cx="663.20" cy="530.30" r="3.35" fill="none" stroke="#0000ff" stroke-width="1.8"/>
<circle cx="663.20" cy="532.20" r="3.35" fill="none" stroke="#0000ff" stroke-width="1.8"/>
<circle cx="663.20" cy="536.80" r="3.35" fill="none" stroke="#0000ff" stroke-width="1.8"/>
<circle cx="663.20" cy="540.00" r="3.35" fill="none" stroke="#0000ff" stroke-width="1.8"/>
<circle cx="663.20" cy="542.40" r="3.35" fill="none" stroke="#0000ff" stroke-width="1.8"/>
<circle cx="663.20" cy="544.30" r="3.35" fill="none" stroke="#0000ff" stroke-width="1.8"/>
<path d="M657.20 535.20H669.20M663.20 535.20V539.20M657.20 539.20H669.20" fill="none" stroke="#0000ff" stroke-width="1.6"/>
<path d="M623.60 386.70V377.60H663.40V386.70" fill="none" stroke="#000" stroke-width="1.5"/>
<text x="643.50" y="375.70" font-size="11.6" font-weight="normal" text-anchor="middle" fill="#000" >&lt;0.0001</text>
<text x="628.70" y="567.00" font-size="13.3" font-weight="bold" text-anchor="end" transform="rotate(-45 628.70 567.00)">Control</text>
<text x="668.30" y="567.00" font-size="13.3" font-weight="bold" text-anchor="end" transform="rotate(-45 668.30 567.00)">Enz</text>
<text x="83.85" y="343.80" font-size="14" font-weight="bold" text-anchor="middle" fill="#000" >Naïve</text>
<text x="240.50" y="343.80" font-size="14" font-weight="bold" text-anchor="middle" fill="#000" >Inflamed</text>
<text x="396.00" y="343.80" font-size="14" font-weight="bold" text-anchor="middle" fill="#000" >Inflamed + Enz</text>
<text x="94.25" y="510.80" font-size="14" font-weight="bold" text-anchor="middle" fill="#000" >Naïve</text>
<text x="272.50" y="510.80" font-size="14" font-weight="bold" text-anchor="middle" fill="#000" >Inflamed</text>
<text x="451.60" y="510.80" font-size="14" font-weight="bold" text-anchor="middle" fill="#000" >Inflamed + Enz</text>
<defs>
<radialGradient id="heP" cx="50%" cy="50%" r="50%"><stop offset="0" stop-color="#d896d2"/><stop offset="0.7" stop-color="#cc8ccc"/><stop offset="1" stop-color="#a876c0"/></radialGradient>
<radialGradient id="heP2" cx="50%" cy="50%" r="50%"><stop offset="0" stop-color="#d28ccf"/><stop offset="0.65" stop-color="#bd7ec8"/><stop offset="1" stop-color="#8c63b6"/></radialGradient>
<radialGradient id="heD" cx="50%" cy="50%" r="50%"><stop offset="0" stop-color="#cc74c4"/><stop offset="0.6" stop-color="#b866bc"/><stop offset="1" stop-color="#7c52ae"/></radialGradient>
<radialGradient id="heL" cx="50%" cy="50%" r="50%"><stop offset="0" stop-color="#dcb0dc"/><stop offset="0.7" stop-color="#d0a2d4"/><stop offset="1" stop-color="#a888c4"/></radialGradient>
<filter id="blur1" x="-10%" y="-10%" width="120%" height="120%"><feGaussianBlur stdDeviation="0.45"/></filter>
<filter id="blur2" x="-10%" y="-10%" width="120%" height="120%"><feGaussianBlur stdDeviation="0.6"/></filter>
<filter id="blurM" x="-10%" y="-10%" width="120%" height="120%"><feGaussianBlur stdDeviation="1.0"/></filter>
<clipPath id="cE1"><rect x="7" y="350" width="155" height="128.7"/></clipPath>
<clipPath id="cE2"><rect x="164" y="350" width="154.2" height="128.7"/></clipPath>
<clipPath id="cE3"><rect x="320" y="350" width="155" height="128.7"/></clipPath>
<clipPath id="cF1"><rect x="7.1" y="516.2" width="173.3" height="127.8"/></clipPath>
<clipPath id="cF2"><rect x="185" y="516.2" width="175.1" height="127.8"/></clipPath>
<clipPath id="cF3"><rect x="365" y="516.2" width="175" height="127.8"/></clipPath>
</defs>
<g clip-path="url(#cE1)">
<rect x="7" y="350" width="155" height="128.7" fill="#cfdbe1"/>
<g filter="url(#blur1)">
<ellipse cx="63.00" cy="366.70" rx="8.90" ry="7.80" fill="url(#heP)"/>
<circle cx="57.91" cy="368.08" r="1.34" fill="#8c60b0" opacity="0.5"/>
<circle cx="64.90" cy="364.55" r="1.37" fill="#eab8e4" opacity="0.5"/>
<circle cx="60.68" cy="364.93" r="1.16" fill="#8c60b0" opacity="0.5"/>
<circle cx="68.39" cy="369.73" r="1.56" fill="#7a52a8" opacity="0.5"/>
<circle cx="59.30" cy="364.48" r="1.58" fill="#8c60b0" opacity="0.5"/>
<circle cx="60.89" cy="365.06" r="1.80" fill="#e6aade" opacity="0.5"/>
<circle cx="64.24" cy="367.16" r="1.52" fill="#b27ac6" opacity="0.5"/>
<circle cx="63.71" cy="363.19" r="1.81" fill="#eab8e4" opacity="0.5"/>
<circle cx="57.34" cy="366.10" r="0.81" fill="#8c60b0" opacity="0.5"/>
<circle cx="67.96" cy="369.27" r="2.00" fill="#8c60b0" opacity="0.5"/>
<circle cx="69.52" cy="366.54" r="1.10" fill="#7a52a8" opacity="0.5"/>
<ellipse cx="70.75" cy="366.98" rx="1.01" ry="0.91" transform="rotate(92 70.75 366.98)" fill="#5e409e" opacity="0.66"/>
<ellipse cx="70.37" cy="367.81" rx="1.03" ry="0.67" transform="rotate(100 70.37 367.81)" fill="#5e409e" opacity="0.81"/>
<ellipse cx="70.56" cy="369.65" rx="1.02" ry="0.83" transform="rotate(114 70.56 369.65)" fill="#5e409e" opacity="0.82"/>
<ellipse cx="69.06" cy="371.04" rx="1.12" ry="0.96" transform="rotate(129 69.06 371.04)" fill="#5e409e" opacity="0.72"/>
<ellipse cx="67.43" cy="371.60" rx="1.26" ry="1.07" transform="rotate(142 67.43 371.60)" fill="#5e409e" opacity="0.67"/>
<ellipse cx="65.61" cy="372.52" rx="1.30" ry="0.87" transform="rotate(159 65.61 372.52)" fill="#5e409e" opacity="0.81"/>
<ellipse cx="64.73" cy="373.33" rx="1.64" ry="1.00" transform="rotate(167 64.73 373.33)" fill="#5e409e" opacity="0.74"/>
<ellipse cx="62.70" cy="373.37" rx="1.64" ry="0.66" transform="rotate(182 62.70 373.37)" fill="#5e409e" opacity="0.86"/>
<ellipse cx="60.18" cy="373.13" rx="1.65" ry="0.67" transform="rotate(201 60.18 373.13)" fill="#5e409e" opacity="0.68"/>
<ellipse cx="58.54" cy="372.38" rx="1.37" ry="0.68" transform="rotate(215 58.54 372.38)" fill="#5e409e" opacity="0.67"/>
<ellipse cx="58.15" cy="371.29" rx="1.39" ry="1.03" transform="rotate(223 58.15 371.29)" fill="#5e409e" opacity="0.73"/>
<ellipse cx="57.12" cy="370.61" rx="1.41" ry="0.67" transform="rotate(233 57.12 370.61)" fill="#5e409e" opacity="0.73"/>
<ellipse cx="56.11" cy="368.76" rx="1.38" ry="1.03" transform="rotate(251 56.11 368.76)" fill="#5e409e" opacity="0.67"/>
<ellipse cx="55.17" cy="367.63" rx="1.20" ry="0.76" transform="rotate(262 55.17 367.63)" fill="#5e409e" opacity="0.79"/>
<ellipse cx="55.77" cy="365.73" rx="1.41" ry="0.90" transform="rotate(279 55.77 365.73)" fill="#5e409e" opacity="0.82"/>
<ellipse cx="55.70" cy="364.50" rx="1.04" ry="0.68" transform="rotate(289 55.70 364.50)" fill="#5e409e" opacity="0.66"/>
<ellipse cx="56.79" cy="363.11" rx="1.48" ry="0.83" transform="rotate(303 56.79 363.11)" fill="#5e409e" opacity="0.74"/>
<ellipse cx="58.07" cy="361.48" rx="1.33" ry="1.07" transform="rotate(320 58.07 361.48)" fill="#5e409e" opacity="0.89"/>
<ellipse cx="58.75" cy="361.06" rx="1.42" ry="0.93" transform="rotate(327 58.75 361.06)" fill="#5e409e" opacity="0.65"/>
<ellipse cx="60.27" cy="359.87" rx="1.48" ry="0.69" transform="rotate(341 60.27 359.87)" fill="#5e409e" opacity="0.74"/>
<ellipse cx="62.29" cy="360.44" rx="1.18" ry="0.89" transform="rotate(354 62.29 360.44)" fill="#5e409e" opacity="0.89"/>
<ellipse cx="63.79" cy="360.35" rx="1.29" ry="0.81" transform="rotate(366 63.79 360.35)" fill="#5e409e" opacity="0.83"/>
<ellipse cx="66.31" cy="360.03" rx="1.38" ry="1.07" transform="rotate(384 66.31 360.03)" fill="#5e409e" opacity="0.76"/>
<ellipse cx="67.34" cy="361.33" rx="1.01" ry="0.92" transform="rotate(395 67.34 361.33)" fill="#5e409e" opacity="0.65"/>
<ellipse cx="68.40" cy="362.13" rx="1.08" ry="0.69" transform="rotate(406 68.40 362.13)" fill="#5e409e" opacity="0.75"/>
<ellipse cx="69.34" cy="363.76" rx="1.61" ry="0.98" transform="rotate(422 69.34 363.76)" fill="#5e409e" opacity="0.66"/>
<ellipse cx="70.45" cy="365.65" rx="1.05" ry="0.87" transform="rotate(441 70.45 365.65)" fill="#5e409e" opacity="0.65"/>
<ellipse cx="69.80" cy="388.70" rx="8.00" ry="7.70" fill="url(#heL)"/>
<circle cx="73.68" cy="384.02" r="1.84" fill="#e6aade" opacity="0.5"/>
<circle cx="65.26" cy="386.55" r="1.26" fill="#8c60b0" opacity="0.5"/>
<circle cx="71.52" cy="388.83" r="1.57" fill="#e6aade" opacity="0.5"/>
<circle cx="75.80" cy="388.46" r="1.20" fill="#7a52a8" opacity="0.5"/>
<circle cx="74.68" cy="386.64" r="1.33" fill="#8c60b0" opacity="0.5"/>
<circle cx="70.78" cy="387.18" r="0.84" fill="#eab8e4" opacity="0.5"/>
<circle cx="66.23" cy="386.16" r="1.95" fill="#b27ac6" opacity="0.5"/>
<circle cx="74.09" cy="392.24" r="1.90" fill="#7a52a8" opacity="0.5"/>
<circle cx="69.78" cy="389.35" r="0.97" fill="#dc9ad6" opacity="0.5"/>
<circle cx="66.28" cy="385.84" r="1.59" fill="#dc9ad6" opacity="0.5"/>
<ellipse cx="77.20" cy="388.63" rx="1.21" ry="0.95" transform="rotate(89 77.20 388.63)" fill="#5e409e" opacity="0.68"/>
<ellipse cx="76.89" cy="390.37" rx="1.59" ry="1.05" transform="rotate(104 76.89 390.37)" fill="#5e409e" opacity="0.73"/>
<ellipse cx="75.68" cy="391.91" rx="1.08" ry="0.88" transform="rotate(120 75.68 391.91)" fill="#5e409e" opacity="0.86"/>
<ellipse cx="74.76" cy="393.72" rx="1.62" ry="0.78" transform="rotate(136 74.76 393.72)" fill="#5e409e" opacity="0.68"/>
<ellipse cx="73.44" cy="394.12" rx="1.13" ry="0.84" transform="rotate(147 73.44 394.12)" fill="#5e409e" opacity="0.80"/>
<ellipse cx="71.89" cy="394.88" rx="1.54" ry="1.09" transform="rotate(162 71.89 394.88)" fill="#5e409e" opacity="0.75"/>
<ellipse cx="70.64" cy="394.84" rx="1.57" ry="0.68" transform="rotate(172 70.64 394.84)" fill="#5e409e" opacity="0.82"/>
<ellipse cx="68.46" cy="395.06" rx="1.51" ry="0.67" transform="rotate(191 68.46 395.06)" fill="#5e409e" opacity="0.67"/>
<ellipse cx="67.11" cy="394.32" rx="1.54" ry="0.76" transform="rotate(205 67.11 394.32)" fill="#5e409e" opacity="0.67"/>
<ellipse cx="65.68" cy="394.27" rx="1.28" ry="0.94" transform="rotate(215 65.68 394.27)" fill="#5e409e" opacity="0.81"/>
<ellipse cx="63.55" cy="392.64" rx="1.44" ry="0.75" transform="rotate(237 63.55 392.64)" fill="#5e409e" opacity="0.76"/>
<ellipse cx="63.97" cy="391.26" rx="1.30" ry="0.97" transform="rotate(245 63.97 391.26)" fill="#5e409e" opacity="0.68"/>
<ellipse cx="63.10" cy="389.75" rx="1.45" ry="0.89" transform="rotate(261 63.10 389.75)" fill="#5e409e" opacity="0.80"/>
<ellipse cx="63.05" cy="387.61" rx="1.51" ry="1.06" transform="rotate(280 63.05 387.61)" fill="#5e409e" opacity="0.65"/>
<ellipse cx="63.30" cy="385.71" rx="1.08" ry="0.86" transform="rotate(296 63.30 385.71)" fill="#5e409e" opacity="0.80"/>
<ellipse cx="64.56" cy="384.50" rx="1.37" ry="1.05" transform="rotate(310 64.56 384.50)" fill="#5e409e" opacity="0.85"/>
<ellipse cx="65.78" cy="383.28" rx="1.42" ry="0.75" transform="rotate(324 65.78 383.28)" fill="#5e409e" opacity="0.82"/>
<ellipse cx="67.10" cy="382.36" rx="1.46" ry="0.75" transform="rotate(338 67.10 382.36)" fill="#5e409e" opacity="0.87"/>
<ellipse cx="68.96" cy="381.53" rx="1.34" ry="1.01" transform="rotate(354 68.96 381.53)" fill="#5e409e" opacity="0.72"/>
<ellipse cx="70.74" cy="381.68" rx="1.22" ry="0.70" transform="rotate(367 70.74 381.68)" fill="#5e409e" opacity="0.75"/>
<ellipse cx="72.10" cy="382.07" rx="1.31" ry="0.67" transform="rotate(378 72.10 382.07)" fill="#5e409e" opacity="0.85"/>
<ellipse cx="73.27" cy="382.52" rx="1.10" ry="0.81" transform="rotate(388 73.27 382.52)" fill="#5e409e" opacity="0.84"/>
<ellipse cx="74.32" cy="384.12" rx="1.33" ry="0.98" transform="rotate(403 74.32 384.12)" fill="#5e409e" opacity="0.86"/>
<ellipse cx="76.44" cy="385.43" rx="1.32" ry="1.08" transform="rotate(423 76.44 385.43)" fill="#5e409e" opacity="0.65"/>
<ellipse cx="76.49" cy="386.74" rx="1.18" ry="0.98" transform="rotate(433 76.49 386.74)" fill="#5e409e" opacity="0.80"/>
<ellipse cx="84.50" cy="393.70" rx="8.50" ry="7.90" fill="url(#heP)"/>
<circle cx="78.32" cy="392.87" r="1.11" fill="#eab8e4" opacity="0.5"/>
<circle cx="81.35" cy="388.26" r="1.05" fill="#eab8e4" opacity="0.5"/>
<circle cx="88.46" cy="388.69" r="1.13" fill="#eab8e4" opacity="0.5"/>
<circle cx="80.14" cy="393.76" r="1.40" fill="#e6aade" opacity="0.5"/>
<circle cx="83.61" cy="393.05" r="1.42" fill="#e6aade" opacity="0.5"/>
<circle cx="79.56" cy="397.01" r="0.95" fill="#eab8e4" opacity="0.5"/>
<circle cx="86.81" cy="395.13" r="1.35" fill="#eab8e4" opacity="0.5"/>
<circle cx="89.84" cy="391.00" r="1.12" fill="#8c60b0" opacity="0.5"/>
<circle cx="82.11" cy="394.08" r="1.88" fill="#8c60b0" opacity="0.5"/>
<circle cx="90.50" cy="391.32" r="1.18" fill="#eab8e4" opacity="0.5"/>
<circle cx="86.42" cy="398.34" r="0.96" fill="#dc9ad6" opacity="0.5"/>
<ellipse cx="91.32" cy="393.98" rx="1.12" ry="0.76" transform="rotate(93 91.32 393.98)" fill="#5e409e" opacity="0.82"/>
<ellipse cx="91.57" cy="395.06" rx="1.40" ry="0.71" transform="rotate(102 91.57 395.06)" fill="#5e409e" opacity="0.83"/>
<ellipse cx="91.31" cy="396.41" rx="1.16" ry="0.75" transform="rotate(113 91.31 396.41)" fill="#5e409e" opacity="0.77"/>
<ellipse cx="90.10" cy="397.98" rx="1.26" ry="0.89" transform="rotate(129 90.10 397.98)" fill="#5e409e" opacity="0.67"/>
<ellipse cx="89.29" cy="399.12" rx="1.41" ry="0.89" transform="rotate(141 89.29 399.12)" fill="#5e409e" opacity="0.86"/>
<ellipse cx="87.47" cy="400.42" rx="1.14" ry="0.99" transform="rotate(158 87.47 400.42)" fill="#5e409e" opacity="0.85"/>
<ellipse cx="85.29" cy="400.33" rx="1.20" ry="1.07" transform="rotate(174 85.29 400.33)" fill="#5e409e" opacity="0.69"/>
<ellipse cx="83.42" cy="400.93" rx="1.08" ry="0.77" transform="rotate(188 83.42 400.93)" fill="#5e409e" opacity="0.83"/>
<ellipse cx="82.77" cy="399.92" rx="1.54" ry="0.85" transform="rotate(194 82.77 399.92)" fill="#5e409e" opacity="0.84"/>
<ellipse cx="81.24" cy="399.75" rx="1.44" ry="0.67" transform="rotate(207 81.24 399.75)" fill="#5e409e" opacity="0.68"/>
<ellipse cx="78.92" cy="398.88" rx="1.63" ry="0.71" transform="rotate(225 78.92 398.88)" fill="#5e409e" opacity="0.77"/>
<ellipse cx="78.16" cy="397.24" rx="1.44" ry="0.74" transform="rotate(239 78.16 397.24)" fill="#5e409e" opacity="0.65"/>
<ellipse cx="78.23" cy="396.25" rx="1.35" ry="0.89" transform="rotate(246 78.23 396.25)" fill="#5e409e" opacity="0.78"/>
<ellipse cx="77.59" cy="394.82" rx="1.12" ry="1.03" transform="rotate(260 77.59 394.82)" fill="#5e409e" opacity="0.90"/>
<ellipse cx="77.70" cy="392.52" rx="1.03" ry="1.08" transform="rotate(281 77.70 392.52)" fill="#5e409e" opacity="0.75"/>
<ellipse cx="77.85" cy="391.15" rx="1.30" ry="0.89" transform="rotate(292 77.85 391.15)" fill="#5e409e" opacity="0.75"/>
<ellipse cx="78.87" cy="390.13" rx="1.45" ry="1.03" transform="rotate(304 78.87 390.13)" fill="#5e409e" opacity="0.68"/>
<ellipse cx="79.19" cy="388.55" rx="1.26" ry="0.75" transform="rotate(316 79.19 388.55)" fill="#5e409e" opacity="0.67"/>
<ellipse cx="81.10" cy="388.21" rx="1.58" ry="1.01" transform="rotate(330 81.10 388.21)" fill="#5e409e" opacity="0.82"/>
<ellipse cx="82.75" cy="386.87" rx="1.26" ry="0.92" transform="rotate(347 82.75 386.87)" fill="#5e409e" opacity="0.77"/>
<ellipse cx="84.65" cy="386.49" rx="1.16" ry="1.06" transform="rotate(361 84.65 386.49)" fill="#5e409e" opacity="0.83"/>
<ellipse cx="86.19" cy="386.65" rx="1.26" ry="1.05" transform="rotate(373 86.19 386.65)" fill="#5e409e" opacity="0.87"/>
<ellipse cx="87.77" cy="387.21" rx="1.50" ry="0.84" transform="rotate(385 87.77 387.21)" fill="#5e409e" opacity="0.83"/>
<ellipse cx="88.40" cy="388.06" rx="1.30" ry="0.66" transform="rotate(393 88.40 388.06)" fill="#5e409e" opacity="0.73"/>
<ellipse cx="90.38" cy="389.31" rx="1.14" ry="1.08" transform="rotate(411 90.38 389.31)" fill="#5e409e" opacity="0.81"/>
<ellipse cx="91.19" cy="390.37" rx="1.37" ry="0.89" transform="rotate(422 91.19 390.37)" fill="#5e409e" opacity="0.74"/>
<ellipse cx="91.98" cy="392.63" rx="1.45" ry="1.00" transform="rotate(441 91.98 392.63)" fill="#5e409e" opacity="0.89"/>
<ellipse cx="102.40" cy="383.00" rx="10.30" ry="11.80" fill="url(#heP)"/>
<circle cx="108.80" cy="384.06" r="1.08" fill="#7a52a8" opacity="0.5"/>
<circle cx="96.91" cy="385.33" r="1.58" fill="#b27ac6" opacity="0.5"/>
<circle cx="106.58" cy="383.32" r="1.89" fill="#dc9ad6" opacity="0.5"/>
<circle cx="96.82" cy="380.92" r="1.48" fill="#eab8e4" opacity="0.5"/>
<circle cx="108.98" cy="382.77" r="0.89" fill="#7a52a8" opacity="0.5"/>
<circle cx="96.53" cy="378.27" r="1.26" fill="#e6aade" opacity="0.5"/>
<circle cx="107.14" cy="380.79" r="1.83" fill="#b27ac6" opacity="0.5"/>
<circle cx="96.26" cy="381.10" r="1.93" fill="#8c60b0" opacity="0.5"/>
<circle cx="97.15" cy="386.27" r="1.17" fill="#eab8e4" opacity="0.5"/>
<circle cx="96.78" cy="381.75" r="1.47" fill="#dc9ad6" opacity="0.5"/>
<circle cx="100.94" cy="390.81" r="0.83" fill="#dc9ad6" opacity="0.5"/>
<circle cx="103.29" cy="375.85" r="0.99" fill="#7a52a8" opacity="0.5"/>
<circle cx="102.55" cy="377.11" r="1.70" fill="#dc9ad6" opacity="0.5"/>
<circle cx="110.19" cy="385.91" r="0.89" fill="#dc9ad6" opacity="0.5"/>
<circle cx="106.88" cy="379.54" r="1.10" fill="#8c60b0" opacity="0.5"/>
<circle cx="102.46" cy="380.99" r="1.92" fill="#e6aade" opacity="0.5"/>
<circle cx="101.44" cy="376.63" r="1.52" fill="#b27ac6" opacity="0.5"/>
<circle cx="107.28" cy="387.94" r="0.94" fill="#8c60b0" opacity="0.5"/>
<circle cx="105.56" cy="378.68" r="0.95" fill="#b27ac6" opacity="0.5"/>
<circle cx="96.10" cy="385.71" r="1.52" fill="#8c60b0" opacity="0.5"/>
<ellipse cx="111.62" cy="383.24" rx="1.23" ry="0.99" transform="rotate(91 111.62 383.24)" fill="#5e409e" opacity="0.85"/>
<ellipse cx="111.00" cy="384.15" rx="1.08" ry="0.87" transform="rotate(97 111.00 384.15)" fill="#5e409e" opacity="0.77"/>
<ellipse cx="110.92" cy="386.22" rx="1.55" ry="0.78" transform="rotate(108 110.92 386.22)" fill="#5e409e" opacity="0.79"/>
<ellipse cx="110.24" cy="388.62" rx="1.12" ry="0.78" transform="rotate(122 110.24 388.62)" fill="#5e409e" opacity="0.69"/>
<ellipse cx="108.83" cy="390.15" rx="1.42" ry="0.75" transform="rotate(134 108.83 390.15)" fill="#5e409e" opacity="0.81"/>
<ellipse cx="107.57" cy="390.37" rx="1.16" ry="0.67" transform="rotate(141 107.57 390.37)" fill="#5e409e" opacity="0.64"/>
<ellipse cx="107.05" cy="391.35" rx="1.49" ry="1.06" transform="rotate(147 107.05 391.35)" fill="#5e409e" opacity="0.67"/>
<ellipse cx="106.08" cy="393.22" rx="1.31" ry="0.82" transform="rotate(158 106.08 393.22)" fill="#5e409e" opacity="0.72"/>
<ellipse cx="103.87" cy="392.51" rx="1.56" ry="1.01" transform="rotate(170 103.87 392.51)" fill="#5e409e" opacity="0.75"/>
<ellipse cx="101.91" cy="393.81" rx="1.50" ry="0.86" transform="rotate(183 101.91 393.81)" fill="#5e409e" opacity="0.83"/>
<ellipse cx="101.08" cy="392.57" rx="1.09" ry="1.03" transform="rotate(189 101.08 392.57)" fill="#5e409e" opacity="0.79"/>
<ellipse cx="99.50" cy="393.17" rx="1.54" ry="0.74" transform="rotate(198 99.50 393.17)" fill="#5e409e" opacity="0.81"/>
<ellipse cx="97.85" cy="391.77" rx="1.20" ry="0.90" transform="rotate(211 97.85 391.77)" fill="#5e409e" opacity="0.75"/>
<ellipse cx="96.27" cy="391.19" rx="1.30" ry="1.02" transform="rotate(221 96.27 391.19)" fill="#5e409e" opacity="0.63"/>
<ellipse cx="95.27" cy="390.29" rx="1.39" ry="0.97" transform="rotate(228 95.27 390.29)" fill="#5e409e" opacity="0.76"/>
<ellipse cx="94.68" cy="387.62" rx="1.57" ry="0.76" transform="rotate(242 94.68 387.62)" fill="#5e409e" opacity="0.81"/>
<ellipse cx="93.52" cy="387.02" rx="1.20" ry="0.85" transform="rotate(248 93.52 387.02)" fill="#5e409e" opacity="0.79"/>
<ellipse cx="93.23" cy="384.16" rx="1.17" ry="0.89" transform="rotate(264 93.23 384.16)" fill="#5e409e" opacity="0.90"/>
<ellipse cx="93.84" cy="383.07" rx="1.63" ry="0.98" transform="rotate(270 93.84 383.07)" fill="#5e409e" opacity="0.77"/>
<ellipse cx="93.02" cy="381.84" rx="1.01" ry="0.96" transform="rotate(276 93.02 381.84)" fill="#5e409e" opacity="0.79"/>
<ellipse cx="93.82" cy="378.88" rx="1.23" ry="0.83" transform="rotate(293 93.82 378.88)" fill="#5e409e" opacity="0.67"/>
<ellipse cx="95.10" cy="378.01" rx="1.05" ry="0.86" transform="rotate(301 95.10 378.01)" fill="#5e409e" opacity="0.86"/>
<ellipse cx="96.13" cy="376.33" rx="1.03" ry="0.73" transform="rotate(313 96.13 376.33)" fill="#5e409e" opacity="0.71"/>
<ellipse cx="95.79" cy="375.26" rx="1.27" ry="0.92" transform="rotate(316 95.79 375.26)" fill="#5e409e" opacity="0.71"/>
<ellipse cx="98.09" cy="374.31" rx="1.17" ry="0.71" transform="rotate(330 98.09 374.31)" fill="#5e409e" opacity="0.71"/>
<ellipse cx="98.61" cy="373.42" rx="1.05" ry="1.02" transform="rotate(336 98.61 373.42)" fill="#5e409e" opacity="0.74"/>
<ellipse cx="101.15" cy="372.85" rx="1.59" ry="0.81" transform="rotate(352 101.15 372.85)" fill="#5e409e" opacity="0.75"/>
<ellipse cx="102.17" cy="372.23" rx="1.21" ry="0.72" transform="rotate(359 102.17 372.23)" fill="#5e409e" opacity="0.76"/>
<ellipse cx="104.25" cy="373.68" rx="1.40" ry="0.68" transform="rotate(373 104.25 373.68)" fill="#5e409e" opacity="0.83"/>
<ellipse cx="106.02" cy="373.88" rx="0.99" ry="0.83" transform="rotate(384 106.02 373.88)" fill="#5e409e" opacity="0.65"/>
<ellipse cx="106.86" cy="374.02" rx="1.01" ry="0.82" transform="rotate(390 106.86 374.02)" fill="#5e409e" opacity="0.63"/>
<ellipse cx="108.08" cy="374.18" rx="1.59" ry="0.77" transform="rotate(396 108.08 374.18)" fill="#5e409e" opacity="0.67"/>
<ellipse cx="109.59" cy="376.38" rx="1.20" ry="0.83" transform="rotate(411 109.59 376.38)" fill="#5e409e" opacity="0.77"/>
<ellipse cx="110.46" cy="377.21" rx="1.30" ry="0.98" transform="rotate(418 110.46 377.21)" fill="#5e409e" opacity="0.71"/>
<ellipse cx="111.19" cy="378.69" rx="1.59" ry="0.99" transform="rotate(427 111.19 378.69)" fill="#5e409e" opacity="0.63"/>
<ellipse cx="111.65" cy="381.10" rx="1.20" ry="0.75" transform="rotate(440 111.65 381.10)" fill="#5e409e" opacity="0.73"/>
<ellipse cx="109.20" cy="411.20" rx="9.80" ry="9.60" fill="url(#heP)"/>
<circle cx="104.04" cy="408.07" r="1.51" fill="#8c60b0" opacity="0.5"/>
<circle cx="109.75" cy="414.46" r="1.28" fill="#dc9ad6" opacity="0.5"/>
<circle cx="115.63" cy="407.24" r="1.46" fill="#7a52a8" opacity="0.5"/>
<circle cx="111.42" cy="406.35" r="1.38" fill="#dc9ad6" opacity="0.5"/>
<circle cx="102.93" cy="415.51" r="1.46" fill="#7a52a8" opacity="0.5"/>
<circle cx="114.45" cy="409.78" r="1.28" fill="#b27ac6" opacity="0.5"/>
<circle cx="109.78" cy="413.96" r="1.97" fill="#8c60b0" opacity="0.5"/>
<circle cx="111.11" cy="404.71" r="1.59" fill="#e6aade" opacity="0.5"/>
<circle cx="109.26" cy="412.00" r="1.89" fill="#8c60b0" opacity="0.5"/>
<circle cx="105.50" cy="412.38" r="1.53" fill="#8c60b0" opacity="0.5"/>
<circle cx="110.91" cy="413.74" r="0.97" fill="#dc9ad6" opacity="0.5"/>
<circle cx="115.11" cy="407.43" r="1.56" fill="#b27ac6" opacity="0.5"/>
<circle cx="113.24" cy="411.03" r="0.86" fill="#eab8e4" opacity="0.5"/>
<circle cx="106.22" cy="409.79" r="1.79" fill="#b27ac6" opacity="0.5"/>
<circle cx="113.24" cy="405.47" r="1.22" fill="#e6aade" opacity="0.5"/>
<ellipse cx="117.76" cy="411.35" rx="1.58" ry="0.97" transform="rotate(91 117.76 411.35)" fill="#5e409e" opacity="0.65"/>
<ellipse cx="117.55" cy="413.17" rx="1.32" ry="0.67" transform="rotate(104 117.55 413.17)" fill="#5e409e" opacity="0.68"/>
<ellipse cx="117.46" cy="414.10" rx="1.51" ry="0.85" transform="rotate(110 117.46 414.10)" fill="#5e409e" opacity="0.64"/>
<ellipse cx="116.35" cy="415.74" rx="1.61" ry="1.08" transform="rotate(123 116.35 415.74)" fill="#5e409e" opacity="0.72"/>
<ellipse cx="115.37" cy="417.07" rx="1.65" ry="0.95" transform="rotate(134 115.37 417.07)" fill="#5e409e" opacity="0.65"/>
<ellipse cx="114.11" cy="417.43" rx="1.43" ry="0.96" transform="rotate(142 114.11 417.43)" fill="#5e409e" opacity="0.83"/>
<ellipse cx="111.92" cy="418.58" rx="1.28" ry="1.04" transform="rotate(160 111.92 418.58)" fill="#5e409e" opacity="0.82"/>
<ellipse cx="110.84" cy="419.11" rx="1.06" ry="1.00" transform="rotate(169 110.84 419.11)" fill="#5e409e" opacity="0.86"/>
<ellipse cx="108.71" cy="419.83" rx="1.59" ry="0.73" transform="rotate(183 108.71 419.83)" fill="#5e409e" opacity="0.80"/>
<ellipse cx="106.87" cy="419.58" rx="1.62" ry="0.99" transform="rotate(195 106.87 419.58)" fill="#5e409e" opacity="0.78"/>
<ellipse cx="106.60" cy="418.71" rx="1.24" ry="0.71" transform="rotate(199 106.60 418.71)" fill="#5e409e" opacity="0.71"/>
<ellipse cx="104.75" cy="418.27" rx="1.41" ry="0.86" transform="rotate(212 104.75 418.27)" fill="#5e409e" opacity="0.73"/>
<ellipse cx="103.46" cy="417.59" rx="1.08" ry="0.94" transform="rotate(221 103.46 417.59)" fill="#5e409e" opacity="0.68"/>
<ellipse cx="102.86" cy="415.80" rx="1.30" ry="0.97" transform="rotate(233 102.86 415.80)" fill="#5e409e" opacity="0.66"/>
<ellipse cx="100.99" cy="415.26" rx="1.28" ry="1.00" transform="rotate(243 100.99 415.26)" fill="#5e409e" opacity="0.72"/>
<ellipse cx="100.18" cy="412.49" rx="1.08" ry="0.75" transform="rotate(262 100.18 412.49)" fill="#5e409e" opacity="0.67"/>
<ellipse cx="100.70" cy="410.95" rx="1.60" ry="0.93" transform="rotate(272 100.70 410.95)" fill="#5e409e" opacity="0.83"/>
<ellipse cx="101.11" cy="409.48" rx="1.51" ry="0.77" transform="rotate(282 101.11 409.48)" fill="#5e409e" opacity="0.90"/>
<ellipse cx="101.64" cy="408.09" rx="1.11" ry="0.79" transform="rotate(293 101.64 408.09)" fill="#5e409e" opacity="0.75"/>
<ellipse cx="102.49" cy="406.72" rx="1.21" ry="0.79" transform="rotate(304 102.49 406.72)" fill="#5e409e" opacity="0.66"/>
<ellipse cx="103.61" cy="405.34" rx="1.35" ry="0.79" transform="rotate(317 103.61 405.34)" fill="#5e409e" opacity="0.69"/>
<ellipse cx="104.58" cy="404.16" rx="1.37" ry="0.75" transform="rotate(327 104.58 404.16)" fill="#5e409e" opacity="0.88"/>
<ellipse cx="106.49" cy="402.99" rx="1.61" ry="0.91" transform="rotate(342 106.49 402.99)" fill="#5e409e" opacity="0.64"/>
<ellipse cx="107.68" cy="402.60" rx="1.08" ry="0.87" transform="rotate(350 107.68 402.60)" fill="#5e409e" opacity="0.74"/>
<ellipse cx="108.99" cy="403.40" rx="1.57" ry="0.78" transform="rotate(358 108.99 403.40)" fill="#5e409e" opacity="0.87"/>
<ellipse cx="110.86" cy="402.69" rx="1.15" ry="0.91" transform="rotate(371 110.86 402.69)" fill="#5e409e" opacity="0.78"/>
<ellipse cx="112.08" cy="402.75" rx="1.10" ry="0.99" transform="rotate(378 112.08 402.75)" fill="#5e409e" opacity="0.87"/>
<ellipse cx="113.49" cy="404.54" rx="1.61" ry="0.66" transform="rotate(392 113.49 404.54)" fill="#5e409e" opacity="0.81"/>
<ellipse cx="115.34" cy="404.92" rx="1.23" ry="0.73" transform="rotate(404 115.34 404.92)" fill="#5e409e" opacity="0.79"/>
<ellipse cx="116.46" cy="406.94" rx="1.26" ry="1.00" transform="rotate(419 116.46 406.94)" fill="#5e409e" opacity="0.88"/>
<ellipse cx="116.84" cy="408.78" rx="1.49" ry="1.03" transform="rotate(432 116.84 408.78)" fill="#5e409e" opacity="0.87"/>
<ellipse cx="117.78" cy="409.69" rx="1.49" ry="0.73" transform="rotate(440 117.78 409.69)" fill="#5e409e" opacity="0.74"/>
<ellipse cx="105.00" cy="427.00" rx="7.90" ry="7.20" fill="url(#heP)"/>
<circle cx="109.49" cy="427.86" r="1.48" fill="#e6aade" opacity="0.5"/>
<circle cx="107.10" cy="430.68" r="1.09" fill="#dc9ad6" opacity="0.5"/>
<circle cx="106.33" cy="426.45" r="1.67" fill="#e6aade" opacity="0.5"/>
<circle cx="105.94" cy="423.44" r="1.52" fill="#8c60b0" opacity="0.5"/>
<circle cx="101.02" cy="427.69" r="1.90" fill="#eab8e4" opacity="0.5"/>
<circle cx="101.30" cy="425.55" r="1.38" fill="#dc9ad6" opacity="0.5"/>
<circle cx="110.78" cy="426.82" r="1.29" fill="#7a52a8" opacity="0.5"/>
<circle cx="100.65" cy="428.75" r="1.20" fill="#eab8e4" opacity="0.5"/>
<circle cx="100.94" cy="426.52" r="1.18" fill="#e6aade" opacity="0.5"/>
<ellipse cx="112.10" cy="426.54" rx="1.58" ry="0.98" transform="rotate(86 112.10 426.54)" fill="#5e409e" opacity="0.79"/>
<ellipse cx="111.36" cy="428.81" rx="1.38" ry="0.69" transform="rotate(107 111.36 428.81)" fill="#5e409e" opacity="0.66"/>
<ellipse cx="110.98" cy="430.09" rx="1.25" ry="0.68" transform="rotate(120 110.98 430.09)" fill="#5e409e" opacity="0.82"/>
<ellipse cx="109.64" cy="431.26" rx="1.19" ry="0.83" transform="rotate(135 109.64 431.26)" fill="#5e409e" opacity="0.69"/>
<ellipse cx="109.09" cy="432.54" rx="1.63" ry="0.95" transform="rotate(146 109.09 432.54)" fill="#5e409e" opacity="0.86"/>
<ellipse cx="106.95" cy="433.33" rx="1.14" ry="0.99" transform="rotate(164 106.95 433.33)" fill="#5e409e" opacity="0.78"/>
<ellipse cx="104.59" cy="432.85" rx="1.51" ry="0.71" transform="rotate(184 104.59 432.85)" fill="#5e409e" opacity="0.78"/>
<ellipse cx="102.93" cy="432.44" rx="1.15" ry="0.79" transform="rotate(199 102.93 432.44)" fill="#5e409e" opacity="0.72"/>
<ellipse cx="101.80" cy="432.99" rx="1.53" ry="0.83" transform="rotate(206 101.80 432.99)" fill="#5e409e" opacity="0.73"/>
<ellipse cx="100.43" cy="431.05" rx="1.01" ry="1.06" transform="rotate(226 100.43 431.05)" fill="#5e409e" opacity="0.71"/>
<ellipse cx="98.63" cy="430.35" rx="1.64" ry="0.87" transform="rotate(240 98.63 430.35)" fill="#5e409e" opacity="0.69"/>
<ellipse cx="97.98" cy="428.94" rx="1.58" ry="0.75" transform="rotate(253 97.98 428.94)" fill="#5e409e" opacity="0.86"/>
<ellipse cx="98.16" cy="427.15" rx="1.10" ry="1.05" transform="rotate(269 98.16 427.15)" fill="#5e409e" opacity="0.90"/>
<ellipse cx="98.14" cy="425.64" rx="1.12" ry="1.05" transform="rotate(282 98.14 425.64)" fill="#5e409e" opacity="0.64"/>
<ellipse cx="98.62" cy="424.12" rx="1.20" ry="1.06" transform="rotate(296 98.62 424.12)" fill="#5e409e" opacity="0.86"/>
<ellipse cx="100.58" cy="422.69" rx="1.45" ry="1.07" transform="rotate(317 100.58 422.69)" fill="#5e409e" opacity="0.75"/>
<ellipse cx="101.34" cy="422.03" rx="1.19" ry="0.97" transform="rotate(326 101.34 422.03)" fill="#5e409e" opacity="0.68"/>
<ellipse cx="102.97" cy="421.29" rx="1.43" ry="1.01" transform="rotate(342 102.97 421.29)" fill="#5e409e" opacity="0.73"/>
<ellipse cx="105.19" cy="420.35" rx="1.38" ry="0.76" transform="rotate(361 105.19 420.35)" fill="#5e409e" opacity="0.71"/>
<ellipse cx="107.29" cy="420.91" rx="1.17" ry="0.94" transform="rotate(379 107.29 420.91)" fill="#5e409e" opacity="0.65"/>
<ellipse cx="108.85" cy="421.88" rx="1.34" ry="0.89" transform="rotate(394 108.85 421.88)" fill="#5e409e" opacity="0.64"/>
<ellipse cx="109.76" cy="422.79" rx="1.16" ry="1.01" transform="rotate(406 109.76 422.79)" fill="#5e409e" opacity="0.65"/>
<ellipse cx="111.07" cy="423.55" rx="1.15" ry="0.78" transform="rotate(418 111.07 423.55)" fill="#5e409e" opacity="0.78"/>
<ellipse cx="111.96" cy="424.95" rx="1.64" ry="0.67" transform="rotate(432 111.96 424.95)" fill="#5e409e" opacity="0.75"/>
<ellipse cx="54.60" cy="419.90" rx="9.60" ry="8.40" fill="url(#heP2)"/>
<circle cx="54.62" cy="415.73" r="0.87" fill="#8c60b0" opacity="0.5"/>
<circle cx="60.83" cy="422.22" r="1.18" fill="#dc9ad6" opacity="0.5"/>
<circle cx="53.23" cy="420.02" r="1.41" fill="#dc9ad6" opacity="0.5"/>
<circle cx="58.18" cy="415.31" r="1.69" fill="#eab8e4" opacity="0.5"/>
<circle cx="48.80" cy="418.88" r="0.93" fill="#b27ac6" opacity="0.5"/>
<circle cx="48.83" cy="422.06" r="1.73" fill="#eab8e4" opacity="0.5"/>
<circle cx="56.15" cy="414.08" r="1.11" fill="#b27ac6" opacity="0.5"/>
<circle cx="47.78" cy="418.20" r="1.40" fill="#eab8e4" opacity="0.5"/>
<circle cx="60.39" cy="421.04" r="0.86" fill="#7a52a8" opacity="0.5"/>
<circle cx="47.77" cy="421.91" r="0.98" fill="#dc9ad6" opacity="0.5"/>
<circle cx="59.98" cy="420.43" r="1.40" fill="#8c60b0" opacity="0.5"/>
<circle cx="53.41" cy="413.77" r="0.89" fill="#e6aade" opacity="0.5"/>
<circle cx="59.44" cy="417.11" r="1.50" fill="#eab8e4" opacity="0.5"/>
<ellipse cx="63.11" cy="420.16" rx="1.03" ry="0.85" transform="rotate(92 63.11 420.16)" fill="#5e409e" opacity="0.82"/>
<ellipse cx="62.96" cy="421.91" rx="1.51" ry="1.00" transform="rotate(105 62.96 421.91)" fill="#5e409e" opacity="0.76"/>
<ellipse cx="62.11" cy="423.13" rx="1.24" ry="0.77" transform="rotate(116 62.11 423.13)" fill="#5e409e" opacity="0.76"/>
<ellipse cx="61.22" cy="424.54" rx="1.29" ry="0.80" transform="rotate(129 61.22 424.54)" fill="#5e409e" opacity="0.76"/>
<ellipse cx="59.97" cy="425.80" rx="1.62" ry="0.72" transform="rotate(141 59.97 425.80)" fill="#5e409e" opacity="0.83"/>
<ellipse cx="58.17" cy="426.03" rx="1.48" ry="0.89" transform="rotate(153 58.17 426.03)" fill="#5e409e" opacity="0.90"/>
<ellipse cx="57.42" cy="426.66" rx="1.34" ry="0.70" transform="rotate(160 57.42 426.66)" fill="#5e409e" opacity="0.78"/>
<ellipse cx="55.12" cy="427.71" rx="1.63" ry="0.96" transform="rotate(177 55.12 427.71)" fill="#5e409e" opacity="0.82"/>
<ellipse cx="52.59" cy="427.13" rx="1.19" ry="0.71" transform="rotate(194 52.59 427.13)" fill="#5e409e" opacity="0.86"/>
<ellipse cx="51.81" cy="426.27" rx="1.14" ry="0.80" transform="rotate(201 51.81 426.27)" fill="#5e409e" opacity="0.89"/>
<ellipse cx="49.69" cy="425.40" rx="1.10" ry="0.92" transform="rotate(218 49.69 425.40)" fill="#5e409e" opacity="0.90"/>
<ellipse cx="48.26" cy="424.77" rx="1.59" ry="1.05" transform="rotate(229 48.26 424.77)" fill="#5e409e" opacity="0.88"/>
<ellipse cx="47.27" cy="424.22" rx="1.61" ry="0.75" transform="rotate(236 47.27 424.22)" fill="#5e409e" opacity="0.73"/>
<ellipse cx="47.00" cy="422.69" rx="1.15" ry="1.01" transform="rotate(247 47.00 422.69)" fill="#5e409e" opacity="0.85"/>
<ellipse cx="46.43" cy="420.70" rx="1.38" ry="0.99" transform="rotate(264 46.43 420.70)" fill="#5e409e" opacity="0.76"/>
<ellipse cx="46.13" cy="419.11" rx="1.11" ry="0.87" transform="rotate(276 46.13 419.11)" fill="#5e409e" opacity="0.78"/>
<ellipse cx="47.23" cy="417.82" rx="1.17" ry="1.08" transform="rotate(288 47.23 417.82)" fill="#5e409e" opacity="0.80"/>
<ellipse cx="47.18" cy="415.97" rx="1.33" ry="0.91" transform="rotate(301 47.18 415.97)" fill="#5e409e" opacity="0.81"/>
<ellipse cx="48.69" cy="415.42" rx="1.03" ry="0.98" transform="rotate(311 48.69 415.42)" fill="#5e409e" opacity="0.84"/>
<ellipse cx="49.73" cy="414.34" rx="1.54" ry="0.71" transform="rotate(323 49.73 414.34)" fill="#5e409e" opacity="0.90"/>
<ellipse cx="51.95" cy="413.03" rx="1.55" ry="0.83" transform="rotate(341 51.95 413.03)" fill="#5e409e" opacity="0.70"/>
<ellipse cx="53.73" cy="412.43" rx="1.19" ry="0.93" transform="rotate(354 53.73 412.43)" fill="#5e409e" opacity="0.76"/>
<ellipse cx="54.63" cy="412.58" rx="1.07" ry="0.75" transform="rotate(360 54.63 412.58)" fill="#5e409e" opacity="0.74"/>
<ellipse cx="56.87" cy="412.63" rx="1.33" ry="0.90" transform="rotate(375 56.87 412.63)" fill="#5e409e" opacity="0.71"/>
<ellipse cx="58.38" cy="413.54" rx="1.57" ry="1.03" transform="rotate(387 58.38 413.54)" fill="#5e409e" opacity="0.77"/>
<ellipse cx="59.64" cy="414.62" rx="1.33" ry="0.82" transform="rotate(400 59.64 414.62)" fill="#5e409e" opacity="0.66"/>
<ellipse cx="61.26" cy="415.28" rx="1.08" ry="1.03" transform="rotate(412 61.26 415.28)" fill="#5e409e" opacity="0.83"/>
<ellipse cx="61.57" cy="417.05" rx="1.49" ry="0.99" transform="rotate(425 61.57 417.05)" fill="#5e409e" opacity="0.81"/>
<ellipse cx="63.07" cy="417.72" rx="1.36" ry="0.82" transform="rotate(434 63.07 417.72)" fill="#5e409e" opacity="0.66"/>
<ellipse cx="66.20" cy="462.70" rx="7.60" ry="6.80" fill="url(#heP)"/>
<circle cx="66.78" cy="459.41" r="1.11" fill="#7a52a8" opacity="0.5"/>
<circle cx="66.84" cy="460.91" r="0.87" fill="#8c60b0" opacity="0.5"/>
<circle cx="63.61" cy="464.79" r="1.64" fill="#8c60b0" opacity="0.5"/>
<circle cx="67.24" cy="467.85" r="1.37" fill="#b27ac6" opacity="0.5"/>
<circle cx="68.68" cy="466.54" r="1.42" fill="#b27ac6" opacity="0.5"/>
<circle cx="65.94" cy="457.52" r="1.37" fill="#b27ac6" opacity="0.5"/>
<circle cx="65.95" cy="467.72" r="1.64" fill="#dc9ad6" opacity="0.5"/>
<circle cx="69.96" cy="463.19" r="1.89" fill="#dc9ad6" opacity="0.5"/>
<ellipse cx="72.56" cy="463.08" rx="1.24" ry="1.03" transform="rotate(94 72.56 463.08)" fill="#5e409e" opacity="0.71"/>
<ellipse cx="72.89" cy="464.61" rx="1.04" ry="0.68" transform="rotate(108 72.89 464.61)" fill="#5e409e" opacity="0.72"/>
<ellipse cx="71.73" cy="465.57" rx="1.53" ry="1.05" transform="rotate(120 71.73 465.57)" fill="#5e409e" opacity="0.80"/>
<ellipse cx="70.68" cy="466.84" rx="1.58" ry="0.67" transform="rotate(136 70.68 466.84)" fill="#5e409e" opacity="0.82"/>
<ellipse cx="69.28" cy="467.47" rx="1.02" ry="0.90" transform="rotate(150 69.28 467.47)" fill="#5e409e" opacity="0.80"/>
<ellipse cx="67.87" cy="468.00" rx="1.30" ry="0.86" transform="rotate(164 67.87 468.00)" fill="#5e409e" opacity="0.89"/>
<ellipse cx="65.85" cy="468.90" rx="1.44" ry="0.78" transform="rotate(183 65.85 468.90)" fill="#5e409e" opacity="0.76"/>
<ellipse cx="64.18" cy="467.85" rx="1.39" ry="0.78" transform="rotate(199 64.18 467.85)" fill="#5e409e" opacity="0.70"/>
<ellipse cx="62.62" cy="467.70" rx="1.60" ry="1.09" transform="rotate(213 62.62 467.70)" fill="#5e409e" opacity="0.63"/>
<ellipse cx="60.75" cy="466.61" rx="1.50" ry="0.69" transform="rotate(231 60.75 466.61)" fill="#5e409e" opacity="0.85"/>
<ellipse cx="59.79" cy="464.78" rx="1.52" ry="0.78" transform="rotate(250 59.79 464.78)" fill="#5e409e" opacity="0.66"/>
<ellipse cx="59.42" cy="464.02" rx="1.13" ry="0.83" transform="rotate(258 59.42 464.02)" fill="#5e409e" opacity="0.67"/>
<ellipse cx="59.97" cy="462.21" rx="1.21" ry="0.96" transform="rotate(275 59.97 462.21)" fill="#5e409e" opacity="0.85"/>
<ellipse cx="60.14" cy="460.55" rx="1.23" ry="0.95" transform="rotate(292 60.14 460.55)" fill="#5e409e" opacity="0.76"/>
<ellipse cx="61.28" cy="458.95" rx="1.46" ry="1.06" transform="rotate(310 61.28 458.95)" fill="#5e409e" opacity="0.83"/>
<ellipse cx="62.45" cy="457.27" rx="1.53" ry="1.05" transform="rotate(328 62.45 457.27)" fill="#5e409e" opacity="0.71"/>
<ellipse cx="64.33" cy="457.01" rx="1.44" ry="0.68" transform="rotate(344 64.33 457.01)" fill="#5e409e" opacity="0.80"/>
<ellipse cx="65.66" cy="456.82" rx="1.22" ry="0.83" transform="rotate(355 65.66 456.82)" fill="#5e409e" opacity="0.83"/>
<ellipse cx="67.68" cy="457.18" rx="1.41" ry="0.82" transform="rotate(374 67.68 457.18)" fill="#5e409e" opacity="0.81"/>
<ellipse cx="69.10" cy="457.01" rx="1.13" ry="0.91" transform="rotate(384 69.10 457.01)" fill="#5e409e" opacity="0.66"/>
<ellipse cx="71.18" cy="458.61" rx="1.07" ry="0.99" transform="rotate(407 71.18 458.61)" fill="#5e409e" opacity="0.70"/>
<ellipse cx="71.39" cy="459.52" rx="1.40" ry="0.79" transform="rotate(416 71.39 459.52)" fill="#5e409e" opacity="0.81"/>
<ellipse cx="72.65" cy="461.54" rx="1.45" ry="1.01" transform="rotate(439 72.65 461.54)" fill="#5e409e" opacity="0.88"/>
<circle cx="20" cy="455" r="0.8" fill="#d8b0d8"/>
</g>
<rect x="127.6" y="468.9" width="34.40" height="9.80" fill="#050505"/>
<rect x="129.10" y="471.70" width="31.40" height="1.0" fill="#a01818"/>
<text x="144.80" y="476.90" font-size="3.4" font-weight="bold" fill="#eee" text-anchor="middle">100 µm</text>
</g>
<g clip-path="url(#cE2)">
<rect x="164" y="350" width="154.2" height="128.7" fill="#cfdbe1"/>
<g filter="url(#blurM)">
<path d="M204 352 L240 353 L262 359 L290 364 L318.2 368 L318.2 447 L300 440 L282 444.5 L266 437.6 L261.5 415 L268 410 L276 404 L281 396 L282.5 386 L277 378 L262 373 L246 367 L226 361 L208 356Z" fill="#d9d3e5"/>
<path d="M187 380 L190.5 389.5 L203.5 396 L207 398.5 L213.5 419.5 L219.5 430 L216 446.7 L222.8 455.7 L229.6 460.3 L244 467.5 L236 469.5 L225 463 L214 452 L208 441 L197 437 L186 436.5 L177.6 437.6 L171 429 L167 431 L164 431 L164 422 L175 420 L180.1 412 L185 394.7Z" fill="#dccde2"/>
<path d="M164 370.5 L169 361.2 L182 360.5 L195 360.3 L196.5 362.5 L187 371.4 L173.3 373 L171.4 382.3 L164 387.5Z" fill="#dcbcdc"/>
</g>
<g filter="url(#blur1)">
<ellipse cx="261.1" cy="394.6" rx="14.3" ry="15.7" fill="#9068b8"/>
<ellipse cx="261.1" cy="395.3" rx="10.2" ry="11.2" fill="#c498cf"/>
<ellipse cx="261.1" cy="396" rx="8" ry="8.6" fill="none" stroke="#b07cc0" stroke-width="1.4" opacity="0.8"/>
<circle cx="261.2" cy="397.1" r="6" fill="#ec4c82"/>
<circle cx="261.2" cy="397.6" r="3.5" fill="#f46a96" opacity="0.7"/>
<ellipse cx="197.9" cy="445.5" rx="12" ry="11.7" fill="#8d67b8"/>
<ellipse cx="197.9" cy="445.5" rx="8.4" ry="8.2" fill="#d39ed6"/>
<ellipse cx="197.9" cy="445.5" rx="5.5" ry="5.3" fill="none" stroke="#c27bc8" stroke-width="1.3"/>
<circle cx="197.9" cy="445.5" r="2.2" fill="#e27ab8"/>
<ellipse cx="239.1" cy="454.8" rx="10.2" ry="10.4" fill="#8d67b8"/>
<ellipse cx="239.1" cy="454.8" rx="7.2" ry="7.4" fill="#d59cd2"/>
<circle cx="239.6" cy="454.6" r="3.6" fill="#ec4a80"/>
<ellipse cx="273.07" cy="394.11" rx="1.00" ry="0.80" transform="rotate(88 273.07 394.11)" fill="#553a96" opacity="0.85"/>
<ellipse cx="273.81" cy="396.22" rx="0.96" ry="0.65" transform="rotate(97 273.81 396.22)" fill="#553a96" opacity="0.85"/>
<ellipse cx="273.50" cy="399.52" rx="0.98" ry="0.71" transform="rotate(110 273.50 399.52)" fill="#553a96" opacity="0.85"/>
<ellipse cx="273.08" cy="400.27" rx="1.06" ry="0.87" transform="rotate(113 273.08 400.27)" fill="#553a96" opacity="0.85"/>
<ellipse cx="272.04" cy="402.61" rx="0.97" ry="0.62" transform="rotate(124 272.04 402.61)" fill="#553a96" opacity="0.85"/>
<ellipse cx="271.52" cy="403.46" rx="1.16" ry="0.67" transform="rotate(128 271.52 403.46)" fill="#553a96" opacity="0.85"/>
<ellipse cx="269.30" cy="404.60" rx="0.96" ry="0.77" transform="rotate(138 269.30 404.60)" fill="#553a96" opacity="0.85"/>
<ellipse cx="267.87" cy="405.31" rx="1.01" ry="0.86" transform="rotate(145 267.87 405.31)" fill="#553a96" opacity="0.85"/>
<ellipse cx="267.51" cy="407.16" rx="1.12" ry="0.87" transform="rotate(151 267.51 407.16)" fill="#553a96" opacity="0.85"/>
<ellipse cx="264.82" cy="407.48" rx="0.96" ry="0.87" transform="rotate(162 264.82 407.48)" fill="#553a96" opacity="0.85"/>
<ellipse cx="264.46" cy="407.91" rx="1.01" ry="0.72" transform="rotate(164 264.46 407.91)" fill="#553a96" opacity="0.85"/>
<ellipse cx="262.59" cy="407.23" rx="0.98" ry="0.77" transform="rotate(173 262.59 407.23)" fill="#553a96" opacity="0.85"/>
<ellipse cx="260.60" cy="407.48" rx="0.90" ry="0.83" transform="rotate(182 260.60 407.48)" fill="#553a96" opacity="0.85"/>
<ellipse cx="258.89" cy="406.93" rx="1.03" ry="0.64" transform="rotate(191 258.89 406.93)" fill="#553a96" opacity="0.85"/>
<ellipse cx="256.53" cy="408.46" rx="1.06" ry="0.61" transform="rotate(200 256.53 408.46)" fill="#553a96" opacity="0.85"/>
<ellipse cx="256.09" cy="407.24" rx="1.12" ry="0.66" transform="rotate(204 256.09 407.24)" fill="#553a96" opacity="0.85"/>
<ellipse cx="253.85" cy="406.57" rx="1.00" ry="0.66" transform="rotate(214 253.85 406.57)" fill="#553a96" opacity="0.85"/>
<ellipse cx="253.70" cy="404.89" rx="1.22" ry="0.77" transform="rotate(218 253.70 404.89)" fill="#553a96" opacity="0.85"/>
<ellipse cx="252.02" cy="402.41" rx="1.24" ry="0.88" transform="rotate(232 252.02 402.41)" fill="#553a96" opacity="0.85"/>
<ellipse cx="250.51" cy="402.48" rx="1.01" ry="0.61" transform="rotate(236 250.51 402.48)" fill="#553a96" opacity="0.85"/>
<ellipse cx="250.73" cy="400.23" rx="1.09" ry="0.87" transform="rotate(244 250.73 400.23)" fill="#553a96" opacity="0.85"/>
<ellipse cx="249.91" cy="399.85" rx="1.21" ry="0.68" transform="rotate(247 249.91 399.85)" fill="#553a96" opacity="0.85"/>
<ellipse cx="248.19" cy="398.09" rx="1.10" ry="0.69" transform="rotate(256 248.19 398.09)" fill="#553a96" opacity="0.85"/>
<ellipse cx="248.35" cy="395.47" rx="1.22" ry="0.83" transform="rotate(266 248.35 395.47)" fill="#553a96" opacity="0.85"/>
<ellipse cx="248.81" cy="392.75" rx="1.24" ry="0.72" transform="rotate(278 248.81 392.75)" fill="#553a96" opacity="0.85"/>
<ellipse cx="248.85" cy="390.96" rx="0.90" ry="0.64" transform="rotate(285 248.85 390.96)" fill="#553a96" opacity="0.85"/>
<ellipse cx="248.81" cy="390.34" rx="1.10" ry="0.68" transform="rotate(288 248.81 390.34)" fill="#553a96" opacity="0.85"/>
<ellipse cx="250.25" cy="387.36" rx="1.08" ry="0.69" transform="rotate(301 250.25 387.36)" fill="#553a96" opacity="0.85"/>
<ellipse cx="250.11" cy="387.50" rx="1.14" ry="0.68" transform="rotate(300 250.11 387.50)" fill="#553a96" opacity="0.85"/>
<ellipse cx="251.99" cy="386.36" rx="0.92" ry="0.64" transform="rotate(309 251.99 386.36)" fill="#553a96" opacity="0.85"/>
<ellipse cx="253.17" cy="384.93" rx="1.04" ry="0.65" transform="rotate(318 253.17 384.93)" fill="#553a96" opacity="0.85"/>
<ellipse cx="254.55" cy="383.82" rx="0.91" ry="0.72" transform="rotate(326 254.55 383.82)" fill="#553a96" opacity="0.85"/>
<ellipse cx="255.46" cy="383.43" rx="1.28" ry="0.85" transform="rotate(331 255.46 383.43)" fill="#553a96" opacity="0.85"/>
<ellipse cx="258.16" cy="382.41" rx="0.97" ry="0.62" transform="rotate(345 258.16 382.41)" fill="#553a96" opacity="0.85"/>
<ellipse cx="259.18" cy="380.93" rx="1.03" ry="0.74" transform="rotate(351 259.18 380.93)" fill="#553a96" opacity="0.85"/>
<ellipse cx="261.56" cy="380.95" rx="1.21" ry="0.87" transform="rotate(362 261.56 380.95)" fill="#553a96" opacity="0.85"/>
<ellipse cx="262.83" cy="382.03" rx="1.06" ry="0.88" transform="rotate(369 262.83 382.03)" fill="#553a96" opacity="0.85"/>
<ellipse cx="264.88" cy="380.95" rx="1.11" ry="0.60" transform="rotate(377 264.88 380.95)" fill="#553a96" opacity="0.85"/>
<ellipse cx="266.12" cy="381.71" rx="1.26" ry="0.62" transform="rotate(383 266.12 381.71)" fill="#553a96" opacity="0.85"/>
<ellipse cx="267.12" cy="383.04" rx="1.08" ry="0.81" transform="rotate(390 267.12 383.04)" fill="#553a96" opacity="0.85"/>
<ellipse cx="268.90" cy="382.67" rx="1.27" ry="0.64" transform="rotate(396 268.90 382.67)" fill="#553a96" opacity="0.85"/>
<ellipse cx="270.44" cy="384.78" rx="1.07" ry="0.74" transform="rotate(406 270.44 384.78)" fill="#553a96" opacity="0.85"/>
<ellipse cx="271.27" cy="386.72" rx="1.05" ry="0.76" transform="rotate(415 271.27 386.72)" fill="#553a96" opacity="0.85"/>
<ellipse cx="272.00" cy="386.27" rx="1.11" ry="0.74" transform="rotate(415 272.00 386.27)" fill="#553a96" opacity="0.85"/>
<ellipse cx="271.55" cy="389.26" rx="0.92" ry="0.70" transform="rotate(425 271.55 389.26)" fill="#553a96" opacity="0.85"/>
<ellipse cx="272.79" cy="391.16" rx="1.00" ry="0.79" transform="rotate(435 272.79 391.16)" fill="#553a96" opacity="0.85"/>
<ellipse cx="273.27" cy="392.12" rx="1.12" ry="0.62" transform="rotate(439 273.27 392.12)" fill="#553a96" opacity="0.85"/>
<ellipse cx="208.73" cy="446.29" rx="1.26" ry="0.63" transform="rotate(94 208.73 446.29)" fill="#553a96" opacity="0.85"/>
<ellipse cx="208.97" cy="446.80" rx="1.22" ry="0.64" transform="rotate(97 208.97 446.80)" fill="#553a96" opacity="0.85"/>
<ellipse cx="207.30" cy="448.12" rx="1.00" ry="0.68" transform="rotate(106 207.30 448.12)" fill="#553a96" opacity="0.85"/>
<ellipse cx="206.56" cy="449.67" rx="1.04" ry="0.76" transform="rotate(116 206.56 449.67)" fill="#553a96" opacity="0.85"/>
<ellipse cx="205.79" cy="451.41" rx="0.91" ry="0.73" transform="rotate(128 205.79 451.41)" fill="#553a96" opacity="0.85"/>
<ellipse cx="205.32" cy="453.70" rx="1.00" ry="0.63" transform="rotate(139 205.32 453.70)" fill="#553a96" opacity="0.85"/>
<ellipse cx="203.69" cy="454.47" rx="1.25" ry="0.62" transform="rotate(148 203.69 454.47)" fill="#553a96" opacity="0.85"/>
<ellipse cx="201.52" cy="454.27" rx="1.25" ry="0.89" transform="rotate(158 201.52 454.27)" fill="#553a96" opacity="0.85"/>
<ellipse cx="201.01" cy="455.97" rx="1.22" ry="0.65" transform="rotate(164 201.01 455.97)" fill="#553a96" opacity="0.85"/>
<ellipse cx="198.67" cy="456.36" rx="1.28" ry="0.67" transform="rotate(176 198.67 456.36)" fill="#553a96" opacity="0.85"/>
<ellipse cx="196.94" cy="455.50" rx="1.15" ry="0.61" transform="rotate(185 196.94 455.50)" fill="#553a96" opacity="0.85"/>
<ellipse cx="194.57" cy="455.09" rx="1.10" ry="0.63" transform="rotate(199 194.57 455.09)" fill="#553a96" opacity="0.85"/>
<ellipse cx="192.95" cy="454.52" rx="1.03" ry="0.89" transform="rotate(208 192.95 454.52)" fill="#553a96" opacity="0.85"/>
<ellipse cx="191.01" cy="453.28" rx="1.30" ry="0.71" transform="rotate(221 191.01 453.28)" fill="#553a96" opacity="0.85"/>
<ellipse cx="189.75" cy="452.38" rx="1.24" ry="0.88" transform="rotate(229 189.75 452.38)" fill="#553a96" opacity="0.85"/>
<ellipse cx="189.52" cy="450.73" rx="0.98" ry="0.83" transform="rotate(237 189.52 450.73)" fill="#553a96" opacity="0.85"/>
<ellipse cx="188.51" cy="450.24" rx="0.92" ry="0.68" transform="rotate(243 188.51 450.24)" fill="#553a96" opacity="0.85"/>
<ellipse cx="188.16" cy="448.37" rx="1.15" ry="0.69" transform="rotate(253 188.16 448.37)" fill="#553a96" opacity="0.85"/>
<ellipse cx="188.31" cy="447.04" rx="0.98" ry="0.82" transform="rotate(261 188.31 447.04)" fill="#553a96" opacity="0.85"/>
<ellipse cx="187.12" cy="443.97" rx="0.98" ry="0.62" transform="rotate(278 187.12 443.97)" fill="#553a96" opacity="0.85"/>
<ellipse cx="187.91" cy="443.35" rx="1.15" ry="0.68" transform="rotate(282 187.91 443.35)" fill="#553a96" opacity="0.85"/>
<ellipse cx="188.74" cy="442.08" rx="0.94" ry="0.75" transform="rotate(291 188.74 442.08)" fill="#553a96" opacity="0.85"/>
<ellipse cx="189.18" cy="439.92" rx="0.95" ry="0.64" transform="rotate(303 189.18 439.92)" fill="#553a96" opacity="0.85"/>
<ellipse cx="190.30" cy="437.48" rx="0.93" ry="0.79" transform="rotate(317 190.30 437.48)" fill="#553a96" opacity="0.85"/>
<ellipse cx="191.35" cy="437.62" rx="0.98" ry="0.72" transform="rotate(321 191.35 437.62)" fill="#553a96" opacity="0.85"/>
<ellipse cx="192.67" cy="436.43" rx="1.05" ry="0.70" transform="rotate(331 192.67 436.43)" fill="#553a96" opacity="0.85"/>
<ellipse cx="194.90" cy="435.48" rx="1.01" ry="0.80" transform="rotate(344 194.90 435.48)" fill="#553a96" opacity="0.85"/>
<ellipse cx="195.73" cy="435.36" rx="0.91" ry="0.71" transform="rotate(348 195.73 435.36)" fill="#553a96" opacity="0.85"/>
<ellipse cx="198.53" cy="434.74" rx="1.06" ry="0.68" transform="rotate(363 198.53 434.74)" fill="#553a96" opacity="0.85"/>
<ellipse cx="199.54" cy="434.82" rx="1.21" ry="0.63" transform="rotate(369 199.54 434.82)" fill="#553a96" opacity="0.85"/>
<ellipse cx="202.00" cy="436.22" rx="0.98" ry="0.84" transform="rotate(383 202.00 436.22)" fill="#553a96" opacity="0.85"/>
<ellipse cx="202.31" cy="437.13" rx="1.14" ry="0.81" transform="rotate(387 202.31 437.13)" fill="#553a96" opacity="0.85"/>
<ellipse cx="205.77" cy="438.05" rx="1.25" ry="0.80" transform="rotate(406 205.77 438.05)" fill="#553a96" opacity="0.85"/>
<ellipse cx="205.12" cy="439.15" rx="0.97" ry="0.75" transform="rotate(408 205.12 439.15)" fill="#553a96" opacity="0.85"/>
<ellipse cx="207.22" cy="440.38" rx="0.92" ry="0.67" transform="rotate(421 207.22 440.38)" fill="#553a96" opacity="0.85"/>
<ellipse cx="207.89" cy="441.19" rx="1.07" ry="0.67" transform="rotate(426 207.89 441.19)" fill="#553a96" opacity="0.85"/>
<ellipse cx="207.55" cy="443.95" rx="0.92" ry="0.90" transform="rotate(441 207.55 443.95)" fill="#553a96" opacity="0.85"/>
<ellipse cx="248.39" cy="455.04" rx="1.27" ry="0.76" transform="rotate(91 248.39 455.04)" fill="#553a96" opacity="0.85"/>
<ellipse cx="247.78" cy="456.68" rx="1.23" ry="0.75" transform="rotate(102 247.78 456.68)" fill="#553a96" opacity="0.85"/>
<ellipse cx="247.90" cy="457.85" rx="0.90" ry="0.89" transform="rotate(109 247.90 457.85)" fill="#553a96" opacity="0.85"/>
<ellipse cx="246.65" cy="460.30" rx="1.26" ry="0.80" transform="rotate(126 246.65 460.30)" fill="#553a96" opacity="0.85"/>
<ellipse cx="244.86" cy="461.63" rx="1.25" ry="0.73" transform="rotate(139 244.86 461.63)" fill="#553a96" opacity="0.85"/>
<ellipse cx="244.32" cy="461.88" rx="1.05" ry="0.85" transform="rotate(143 244.32 461.88)" fill="#553a96" opacity="0.85"/>
<ellipse cx="241.81" cy="462.82" rx="1.07" ry="0.77" transform="rotate(161 241.81 462.82)" fill="#553a96" opacity="0.85"/>
<ellipse cx="240.21" cy="464.18" rx="0.94" ry="0.90" transform="rotate(173 240.21 464.18)" fill="#553a96" opacity="0.85"/>
<ellipse cx="239.02" cy="463.22" rx="1.00" ry="0.80" transform="rotate(181 239.02 463.22)" fill="#553a96" opacity="0.85"/>
<ellipse cx="237.41" cy="463.40" rx="1.04" ry="0.67" transform="rotate(191 237.41 463.40)" fill="#553a96" opacity="0.85"/>
<ellipse cx="235.60" cy="463.06" rx="1.30" ry="0.78" transform="rotate(203 235.60 463.06)" fill="#553a96" opacity="0.85"/>
<ellipse cx="234.85" cy="462.08" rx="0.96" ry="0.87" transform="rotate(211 234.85 462.08)" fill="#553a96" opacity="0.85"/>
<ellipse cx="232.52" cy="460.88" rx="0.96" ry="0.77" transform="rotate(228 232.52 460.88)" fill="#553a96" opacity="0.85"/>
<ellipse cx="231.85" cy="460.32" rx="1.29" ry="0.81" transform="rotate(233 231.85 460.32)" fill="#553a96" opacity="0.85"/>
<ellipse cx="230.71" cy="458.97" rx="0.99" ry="0.84" transform="rotate(244 230.71 458.97)" fill="#553a96" opacity="0.85"/>
<ellipse cx="230.19" cy="457.21" rx="1.05" ry="0.69" transform="rotate(255 230.19 457.21)" fill="#553a96" opacity="0.85"/>
<ellipse cx="230.36" cy="454.63" rx="1.10" ry="0.87" transform="rotate(271 230.36 454.63)" fill="#553a96" opacity="0.85"/>
<ellipse cx="230.04" cy="452.90" rx="1.21" ry="0.72" transform="rotate(282 230.04 452.90)" fill="#553a96" opacity="0.85"/>
<ellipse cx="231.18" cy="451.75" rx="1.11" ry="0.80" transform="rotate(291 231.18 451.75)" fill="#553a96" opacity="0.85"/>
<ellipse cx="231.18" cy="449.56" rx="0.98" ry="0.90" transform="rotate(303 231.18 449.56)" fill="#553a96" opacity="0.85"/>
<ellipse cx="233.25" cy="448.72" rx="1.29" ry="0.88" transform="rotate(316 233.25 448.72)" fill="#553a96" opacity="0.85"/>
<ellipse cx="233.59" cy="447.47" rx="1.01" ry="0.78" transform="rotate(323 233.59 447.47)" fill="#553a96" opacity="0.85"/>
<ellipse cx="235.59" cy="447.15" rx="1.22" ry="0.72" transform="rotate(335 235.59 447.15)" fill="#553a96" opacity="0.85"/>
<ellipse cx="237.62" cy="446.12" rx="0.95" ry="0.69" transform="rotate(350 237.62 446.12)" fill="#553a96" opacity="0.85"/>
<ellipse cx="239.14" cy="446.24" rx="1.05" ry="0.70" transform="rotate(360 239.14 446.24)" fill="#553a96" opacity="0.85"/>
<ellipse cx="241.33" cy="445.78" rx="1.19" ry="0.61" transform="rotate(374 241.33 445.78)" fill="#553a96" opacity="0.85"/>
<ellipse cx="242.54" cy="445.75" rx="1.11" ry="0.76" transform="rotate(381 242.54 445.75)" fill="#553a96" opacity="0.85"/>
<ellipse cx="244.19" cy="447.62" rx="1.14" ry="0.63" transform="rotate(396 244.19 447.62)" fill="#553a96" opacity="0.85"/>
<ellipse cx="245.41" cy="448.74" rx="1.00" ry="0.89" transform="rotate(407 245.41 448.74)" fill="#553a96" opacity="0.85"/>
<ellipse cx="247.04" cy="449.75" rx="0.98" ry="0.83" transform="rotate(418 247.04 449.75)" fill="#553a96" opacity="0.85"/>
<ellipse cx="246.63" cy="450.96" rx="0.95" ry="0.83" transform="rotate(423 246.63 450.96)" fill="#553a96" opacity="0.85"/>
<ellipse cx="248.25" cy="452.70" rx="0.99" ry="0.78" transform="rotate(437 248.25 452.70)" fill="#553a96" opacity="0.85"/>
<ellipse cx="257.20" cy="459.50" rx="7.20" ry="6.80" fill="url(#heD)"/>
<circle cx="259.18" cy="454.56" r="1.83" fill="#c070c0" opacity="0.5"/>
<circle cx="254.68" cy="461.18" r="0.92" fill="#c070c0" opacity="0.5"/>
<circle cx="255.02" cy="461.06" r="1.19" fill="#d890d4" opacity="0.5"/>
<circle cx="255.06" cy="463.99" r="1.57" fill="#d890d4" opacity="0.5"/>
<circle cx="261.92" cy="461.16" r="1.27" fill="#6a44a0" opacity="0.5"/>
<circle cx="259.05" cy="460.52" r="1.57" fill="#d890d4" opacity="0.5"/>
<circle cx="262.71" cy="460.24" r="1.50" fill="#6a44a0" opacity="0.5"/>
<circle cx="262.14" cy="459.66" r="1.20" fill="#d890d4" opacity="0.5"/>
<circle cx="253.32" cy="455.81" r="1.01" fill="#6a44a0" opacity="0.5"/>
<ellipse cx="263.64" cy="459.09" rx="0.98" ry="0.90" transform="rotate(86 263.64 459.09)" fill="#4e3494" opacity="0.86"/>
<ellipse cx="263.09" cy="461.35" rx="1.44" ry="0.89" transform="rotate(108 263.09 461.35)" fill="#4e3494" opacity="0.90"/>
<ellipse cx="262.18" cy="462.85" rx="1.40" ry="0.88" transform="rotate(125 262.18 462.85)" fill="#4e3494" opacity="0.87"/>
<ellipse cx="261.68" cy="463.89" rx="1.29" ry="0.65" transform="rotate(136 261.68 463.89)" fill="#4e3494" opacity="0.91"/>
<ellipse cx="260.34" cy="464.42" rx="0.98" ry="0.98" transform="rotate(149 260.34 464.42)" fill="#4e3494" opacity="0.71"/>
<ellipse cx="258.67" cy="465.16" rx="1.44" ry="0.97" transform="rotate(166 258.67 465.16)" fill="#4e3494" opacity="0.72"/>
<ellipse cx="256.57" cy="465.38" rx="1.16" ry="0.92" transform="rotate(186 256.57 465.38)" fill="#4e3494" opacity="0.81"/>
<ellipse cx="255.10" cy="465.12" rx="1.41" ry="0.91" transform="rotate(199 255.10 465.12)" fill="#4e3494" opacity="0.76"/>
<ellipse cx="253.83" cy="464.85" rx="1.29" ry="0.75" transform="rotate(211 253.83 464.85)" fill="#4e3494" opacity="0.89"/>
<ellipse cx="252.26" cy="463.07" rx="1.25" ry="0.78" transform="rotate(233 252.26 463.07)" fill="#4e3494" opacity="0.88"/>
<ellipse cx="251.42" cy="462.25" rx="1.14" ry="0.64" transform="rotate(243 251.42 462.25)" fill="#4e3494" opacity="0.80"/>
<ellipse cx="251.13" cy="460.17" rx="1.15" ry="0.62" transform="rotate(263 251.13 460.17)" fill="#4e3494" opacity="0.93"/>
<ellipse cx="251.29" cy="458.46" rx="1.05" ry="0.69" transform="rotate(281 251.29 458.46)" fill="#4e3494" opacity="0.92"/>
<ellipse cx="251.60" cy="457.63" rx="1.15" ry="0.81" transform="rotate(289 251.60 457.63)" fill="#4e3494" opacity="0.78"/>
<ellipse cx="252.36" cy="456.23" rx="1.27" ry="0.87" transform="rotate(306 252.36 456.23)" fill="#4e3494" opacity="0.81"/>
<ellipse cx="253.00" cy="454.50" rx="1.11" ry="0.66" transform="rotate(322 253.00 454.50)" fill="#4e3494" opacity="0.80"/>
<ellipse cx="255.11" cy="453.98" rx="1.48" ry="0.74" transform="rotate(340 255.11 453.98)" fill="#4e3494" opacity="0.75"/>
<ellipse cx="256.56" cy="453.94" rx="1.49" ry="0.94" transform="rotate(354 256.56 453.94)" fill="#4e3494" opacity="0.88"/>
<ellipse cx="258.26" cy="453.99" rx="1.01" ry="0.67" transform="rotate(370 258.26 453.99)" fill="#4e3494" opacity="0.95"/>
<ellipse cx="259.89" cy="454.34" rx="0.97" ry="0.92" transform="rotate(386 259.89 454.34)" fill="#4e3494" opacity="0.89"/>
<ellipse cx="261.79" cy="455.02" rx="1.49" ry="0.64" transform="rotate(404 261.79 455.02)" fill="#4e3494" opacity="0.77"/>
<ellipse cx="262.70" cy="455.96" rx="1.30" ry="0.71" transform="rotate(416 262.70 455.96)" fill="#4e3494" opacity="0.82"/>
<ellipse cx="262.76" cy="457.81" rx="0.92" ry="0.92" transform="rotate(432 262.76 457.81)" fill="#4e3494" opacity="0.93"/>
<circle cx="219.3" cy="357.4" r="6.2" fill="#7a58b0"/>
<circle cx="219.3" cy="357.4" r="3.4" fill="#c08ccc"/>
<circle cx="219.3" cy="357.4" r="1.5" fill="#d870b0"/>
<circle cx="224.50" cy="357.40" r="0.9" fill="#4a3090" opacity="0.8"/>
<circle cx="224.10" cy="359.39" r="0.9" fill="#4a3090" opacity="0.8"/>
<circle cx="222.98" cy="361.08" r="0.9" fill="#4a3090" opacity="0.8"/>
<circle cx="221.29" cy="362.20" r="0.9" fill="#4a3090" opacity="0.8"/>
<circle cx="219.30" cy="362.60" r="0.9" fill="#4a3090" opacity="0.8"/>
<circle cx="217.31" cy="362.20" r="0.9" fill="#4a3090" opacity="0.8"/>
<circle cx="215.62" cy="361.08" r="0.9" fill="#4a3090" opacity="0.8"/>
<circle cx="214.50" cy="359.39" r="0.9" fill="#4a3090" opacity="0.8"/>
<circle cx="214.10" cy="357.40" r="0.9" fill="#4a3090" opacity="0.8"/>
<circle cx="214.50" cy="355.41" r="0.9" fill="#4a3090" opacity="0.8"/>
<circle cx="215.62" cy="353.72" r="0.9" fill="#4a3090" opacity="0.8"/>
<circle cx="217.31" cy="352.60" r="0.9" fill="#4a3090" opacity="0.8"/>
<circle cx="219.30" cy="352.20" r="0.9" fill="#4a3090" opacity="0.8"/>
<circle cx="221.29" cy="352.60" r="0.9" fill="#4a3090" opacity="0.8"/>
<circle cx="222.98" cy="353.72" r="0.9" fill="#4a3090" opacity="0.8"/>
<circle cx="224.10" cy="355.41" r="0.9" fill="#4a3090" opacity="0.8"/>
<ellipse cx="175" cy="355.7" rx="4.2" ry="2.6" fill="#8a5cb4"/>
<circle cx="260.2" cy="434.4" r="2.4" fill="#8a5cb4"/>
<circle cx="208.1" cy="430.6" r="1.7" fill="#8a5cb4"/>
<circle cx="176.4" cy="438.6" r="1.9" fill="#8a5cb4"/>
<circle cx="281.7" cy="476.4" r="2.4" fill="#8a5cb4"/>
<circle cx="181" cy="357" r="1.6" fill="#8a5cb4"/>
<circle cx="188" cy="351" r="3" fill="#8a5cb4"/>
<circle cx="318" cy="376" r="2.2" fill="#8a5cb4"/>
<circle cx="318" cy="445.5" r="2" fill="#8a5cb4"/>
<circle cx="164.5" cy="392.5" r="2" fill="#8a5cb4"/>
</g>
<rect x="283.5" y="469" width="34.70" height="9.70" fill="#050505"/>
<rect x="285.00" y="471.80" width="31.70" height="1.0" fill="#a01818"/>
<text x="300.85" y="476.90" font-size="3.4" font-weight="bold" fill="#eee" text-anchor="middle">100 µm</text>
</g>
<g clip-path="url(#cE3)">
<rect x="320" y="350" width="155" height="128.7" fill="#cfdbe1"/>
<g filter="url(#blur1)">
<ellipse cx="350.00" cy="368.60" rx="7.40" ry="5.90" fill="url(#heD)"/>
<circle cx="352.13" cy="371.01" r="1.83" fill="#c070c0" opacity="0.5"/>
<circle cx="346.63" cy="366.39" r="1.44" fill="#7a4cac" opacity="0.5"/>
<circle cx="346.96" cy="364.78" r="1.17" fill="#d890d4" opacity="0.5"/>
<circle cx="345.31" cy="370.44" r="1.08" fill="#c070c0" opacity="0.5"/>
<circle cx="346.55" cy="369.44" r="1.93" fill="#7a4cac" opacity="0.5"/>
<circle cx="345.55" cy="368.47" r="1.86" fill="#d890d4" opacity="0.5"/>
<circle cx="353.91" cy="370.20" r="1.93" fill="#c070c0" opacity="0.5"/>
<circle cx="349.13" cy="367.54" r="0.92" fill="#6a44a0" opacity="0.5"/>
<circle cx="348.12" cy="367.95" r="1.17" fill="#d890d4" opacity="0.5"/>
<circle cx="351.02" cy="367.76" r="0.97" fill="#6a44a0" opacity="0.5"/>
<ellipse cx="356.07" cy="368.53" rx="1.44" ry="0.99" transform="rotate(89 356.07 368.53)" fill="#4e3494" opacity="0.94"/>
<ellipse cx="356.05" cy="370.45" rx="1.16" ry="0.87" transform="rotate(111 356.05 370.45)" fill="#4e3494" opacity="0.69"/>
<ellipse cx="355.30" cy="371.68" rx="1.46" ry="0.95" transform="rotate(126 355.30 371.68)" fill="#4e3494" opacity="0.69"/>
<ellipse cx="354.09" cy="372.23" rx="1.32" ry="0.61" transform="rotate(138 354.09 372.23)" fill="#4e3494" opacity="0.93"/>
<ellipse cx="351.84" cy="373.16" rx="1.44" ry="0.70" transform="rotate(162 351.84 373.16)" fill="#4e3494" opacity="0.73"/>
<ellipse cx="350.67" cy="373.41" rx="1.22" ry="0.95" transform="rotate(174 350.67 373.41)" fill="#4e3494" opacity="0.71"/>
<ellipse cx="348.58" cy="373.85" rx="1.27" ry="0.92" transform="rotate(192 348.58 373.85)" fill="#4e3494" opacity="0.95"/>
<ellipse cx="346.51" cy="373.30" rx="1.09" ry="0.67" transform="rotate(211 346.51 373.30)" fill="#4e3494" opacity="0.88"/>
<ellipse cx="345.23" cy="372.54" rx="0.97" ry="0.72" transform="rotate(224 345.23 372.54)" fill="#4e3494" opacity="0.75"/>
<ellipse cx="344.08" cy="370.43" rx="0.99" ry="0.67" transform="rotate(249 344.08 370.43)" fill="#4e3494" opacity="0.84"/>
<ellipse cx="343.32" cy="369.10" rx="1.30" ry="0.63" transform="rotate(265 343.32 369.10)" fill="#4e3494" opacity="0.77"/>
<ellipse cx="344.01" cy="367.52" rx="1.14" ry="0.69" transform="rotate(283 344.01 367.52)" fill="#4e3494" opacity="0.76"/>
<ellipse cx="344.18" cy="366.62" rx="1.44" ry="0.70" transform="rotate(293 344.18 366.62)" fill="#4e3494" opacity="0.68"/>
<ellipse cx="345.02" cy="365.07" rx="1.21" ry="0.74" transform="rotate(312 345.02 365.07)" fill="#4e3494" opacity="0.85"/>
<ellipse cx="347.21" cy="364.05" rx="1.02" ry="0.68" transform="rotate(334 347.21 364.05)" fill="#4e3494" opacity="0.79"/>
<ellipse cx="348.17" cy="363.32" rx="1.01" ry="0.87" transform="rotate(345 348.17 363.32)" fill="#4e3494" opacity="0.84"/>
<ellipse cx="350.59" cy="363.43" rx="1.24" ry="0.61" transform="rotate(365 350.59 363.43)" fill="#4e3494" opacity="0.75"/>
<ellipse cx="351.93" cy="363.70" rx="1.34" ry="0.68" transform="rotate(377 351.93 363.70)" fill="#4e3494" opacity="0.67"/>
<ellipse cx="353.56" cy="364.73" rx="1.31" ry="0.80" transform="rotate(396 353.56 364.73)" fill="#4e3494" opacity="0.79"/>
<ellipse cx="355.09" cy="365.38" rx="0.98" ry="0.87" transform="rotate(412 355.09 365.38)" fill="#4e3494" opacity="0.68"/>
<ellipse cx="356.33" cy="366.66" rx="1.50" ry="0.77" transform="rotate(429 356.33 366.66)" fill="#4e3494" opacity="0.86"/>
<ellipse cx="372.30" cy="372.60" rx="8.30" ry="7.90" fill="url(#heD)"/>
<circle cx="373.03" cy="378.86" r="1.26" fill="#7a4cac" opacity="0.5"/>
<circle cx="371.12" cy="377.34" r="1.37" fill="#6a44a0" opacity="0.5"/>
<circle cx="372.63" cy="371.92" r="0.84" fill="#5a3c98" opacity="0.5"/>
<circle cx="376.45" cy="371.43" r="0.97" fill="#7a4cac" opacity="0.5"/>
<circle cx="374.01" cy="378.29" r="1.92" fill="#7a4cac" opacity="0.5"/>
<circle cx="368.80" cy="377.71" r="1.76" fill="#7a4cac" opacity="0.5"/>
<circle cx="371.72" cy="373.78" r="0.96" fill="#7a4cac" opacity="0.5"/>
<circle cx="369.58" cy="367.26" r="1.24" fill="#5a3c98" opacity="0.5"/>
<circle cx="371.37" cy="366.59" r="1.93" fill="#7a4cac" opacity="0.5"/>
<circle cx="374.87" cy="373.78" r="1.61" fill="#d890d4" opacity="0.5"/>
<circle cx="374.99" cy="375.10" r="0.95" fill="#c070c0" opacity="0.5"/>
<circle cx="367.49" cy="371.82" r="1.33" fill="#c070c0" opacity="0.5"/>
<circle cx="373.42" cy="369.55" r="0.90" fill="#6a44a0" opacity="0.5"/>
<circle cx="372.61" cy="374.32" r="1.97" fill="#d890d4" opacity="0.5"/>
<circle cx="377.30" cy="370.51" r="0.99" fill="#7a4cac" opacity="0.5"/>
<circle cx="369.88" cy="376.77" r="1.38" fill="#d890d4" opacity="0.5"/>
<ellipse cx="379.62" cy="373.04" rx="1.11" ry="1.00" transform="rotate(94 379.62 373.04)" fill="#4e3494" opacity="0.80"/>
<ellipse cx="379.02" cy="373.68" rx="1.18" ry="0.87" transform="rotate(100 379.02 373.68)" fill="#4e3494" opacity="0.79"/>
<ellipse cx="378.69" cy="375.90" rx="1.07" ry="0.62" transform="rotate(118 378.69 375.90)" fill="#4e3494" opacity="0.78"/>
<ellipse cx="377.83" cy="377.77" rx="0.91" ry="0.77" transform="rotate(134 377.83 377.77)" fill="#4e3494" opacity="0.94"/>
<ellipse cx="376.01" cy="377.92" rx="0.91" ry="0.74" transform="rotate(146 376.01 377.92)" fill="#4e3494" opacity="0.71"/>
<ellipse cx="374.29" cy="379.02" rx="1.41" ry="0.82" transform="rotate(164 374.29 379.02)" fill="#4e3494" opacity="0.86"/>
<ellipse cx="373.50" cy="379.65" rx="1.00" ry="0.66" transform="rotate(171 373.50 379.65)" fill="#4e3494" opacity="0.83"/>
<ellipse cx="371.31" cy="379.33" rx="1.25" ry="0.70" transform="rotate(188 371.31 379.33)" fill="#4e3494" opacity="0.94"/>
<ellipse cx="369.68" cy="379.21" rx="1.27" ry="0.96" transform="rotate(201 369.68 379.21)" fill="#4e3494" opacity="0.85"/>
<ellipse cx="368.19" cy="378.33" rx="1.45" ry="0.91" transform="rotate(214 368.19 378.33)" fill="#4e3494" opacity="0.93"/>
<ellipse cx="366.99" cy="377.35" rx="1.14" ry="0.88" transform="rotate(227 366.99 377.35)" fill="#4e3494" opacity="0.76"/>
<ellipse cx="365.69" cy="375.72" rx="0.90" ry="0.79" transform="rotate(244 365.69 375.72)" fill="#4e3494" opacity="0.70"/>
<ellipse cx="364.88" cy="374.05" rx="1.29" ry="0.87" transform="rotate(258 364.88 374.05)" fill="#4e3494" opacity="0.85"/>
<ellipse cx="365.08" cy="372.71" rx="1.41" ry="0.83" transform="rotate(269 365.08 372.71)" fill="#4e3494" opacity="0.68"/>
<ellipse cx="365.08" cy="371.12" rx="0.94" ry="0.66" transform="rotate(282 365.08 371.12)" fill="#4e3494" opacity="0.67"/>
<ellipse cx="366.39" cy="369.60" rx="1.07" ry="0.62" transform="rotate(298 366.39 369.60)" fill="#4e3494" opacity="0.83"/>
<ellipse cx="367.22" cy="368.46" rx="1.02" ry="0.85" transform="rotate(311 367.22 368.46)" fill="#4e3494" opacity="0.69"/>
<ellipse cx="368.36" cy="367.43" rx="0.94" ry="0.94" transform="rotate(324 368.36 367.43)" fill="#4e3494" opacity="0.71"/>
<ellipse cx="369.47" cy="366.08" rx="1.20" ry="0.97" transform="rotate(338 369.47 366.08)" fill="#4e3494" opacity="0.85"/>
<ellipse cx="371.65" cy="365.81" rx="1.08" ry="0.87" transform="rotate(355 371.65 365.81)" fill="#4e3494" opacity="0.70"/>
<ellipse cx="372.90" cy="365.50" rx="1.06" ry="0.72" transform="rotate(365 372.90 365.50)" fill="#4e3494" opacity="0.92"/>
<ellipse cx="374.43" cy="366.06" rx="1.33" ry="0.62" transform="rotate(377 374.43 366.06)" fill="#4e3494" opacity="0.90"/>
<ellipse cx="376.94" cy="367.11" rx="1.18" ry="0.86" transform="rotate(399 376.94 367.11)" fill="#4e3494" opacity="0.86"/>
<ellipse cx="378.00" cy="367.63" rx="1.42" ry="0.99" transform="rotate(408 378.00 367.63)" fill="#4e3494" opacity="0.71"/>
<ellipse cx="378.35" cy="369.29" rx="1.13" ry="0.70" transform="rotate(420 378.35 369.29)" fill="#4e3494" opacity="0.84"/>
<ellipse cx="379.11" cy="371.30" rx="1.32" ry="0.86" transform="rotate(439 379.11 371.30)" fill="#4e3494" opacity="0.88"/>
<ellipse cx="389.30" cy="376.00" rx="7.70" ry="6.80" fill="url(#heD)"/>
<circle cx="387.32" cy="372.86" r="1.72" fill="#5a3c98" opacity="0.5"/>
<circle cx="390.57" cy="371.04" r="1.12" fill="#c070c0" opacity="0.5"/>
<circle cx="383.38" cy="376.21" r="1.26" fill="#7a4cac" opacity="0.5"/>
<circle cx="388.74" cy="376.66" r="1.40" fill="#7a4cac" opacity="0.5"/>
<circle cx="392.23" cy="375.66" r="1.73" fill="#c070c0" opacity="0.5"/>
<circle cx="387.79" cy="372.33" r="1.36" fill="#d890d4" opacity="0.5"/>
<circle cx="388.93" cy="375.17" r="1.62" fill="#d890d4" opacity="0.5"/>
<circle cx="392.61" cy="374.89" r="1.89" fill="#6a44a0" opacity="0.5"/>
<circle cx="387.79" cy="381.14" r="1.16" fill="#c070c0" opacity="0.5"/>
<circle cx="387.87" cy="376.29" r="1.14" fill="#6a44a0" opacity="0.5"/>
<circle cx="385.04" cy="375.46" r="0.92" fill="#6a44a0" opacity="0.5"/>
<circle cx="388.92" cy="374.83" r="1.10" fill="#c070c0" opacity="0.5"/>
<circle cx="390.77" cy="379.94" r="1.32" fill="#7a4cac" opacity="0.5"/>
<ellipse cx="395.83" cy="375.91" rx="1.48" ry="0.72" transform="rotate(89 395.83 375.91)" fill="#4e3494" opacity="0.91"/>
<ellipse cx="395.67" cy="377.93" rx="1.03" ry="0.97" transform="rotate(109 395.67 377.93)" fill="#4e3494" opacity="0.89"/>
<ellipse cx="394.41" cy="379.17" rx="1.16" ry="0.79" transform="rotate(125 394.41 379.17)" fill="#4e3494" opacity="0.78"/>
<ellipse cx="393.99" cy="380.62" rx="1.45" ry="0.80" transform="rotate(138 393.99 380.62)" fill="#4e3494" opacity="0.94"/>
<ellipse cx="392.26" cy="381.22" rx="0.91" ry="0.63" transform="rotate(153 392.26 381.22)" fill="#4e3494" opacity="0.72"/>
<ellipse cx="390.16" cy="381.98" rx="1.01" ry="0.99" transform="rotate(173 390.16 381.98)" fill="#4e3494" opacity="0.89"/>
<ellipse cx="388.71" cy="382.31" rx="1.06" ry="0.92" transform="rotate(185 388.71 382.31)" fill="#4e3494" opacity="0.68"/>
<ellipse cx="387.64" cy="381.30" rx="1.49" ry="0.98" transform="rotate(196 387.64 381.30)" fill="#4e3494" opacity="0.72"/>
<ellipse cx="385.42" cy="381.29" rx="1.23" ry="0.60" transform="rotate(213 385.42 381.29)" fill="#4e3494" opacity="0.80"/>
<ellipse cx="383.71" cy="379.87" rx="1.50" ry="0.80" transform="rotate(232 383.71 379.87)" fill="#4e3494" opacity="0.89"/>
<ellipse cx="382.96" cy="378.71" rx="1.04" ry="0.95" transform="rotate(244 382.96 378.71)" fill="#4e3494" opacity="0.78"/>
<ellipse cx="382.67" cy="377.20" rx="1.05" ry="0.83" transform="rotate(258 382.67 377.20)" fill="#4e3494" opacity="0.78"/>
<ellipse cx="382.39" cy="375.28" rx="1.34" ry="0.85" transform="rotate(277 382.39 375.28)" fill="#4e3494" opacity="0.72"/>
<ellipse cx="382.81" cy="373.78" rx="1.49" ry="0.95" transform="rotate(291 382.81 373.78)" fill="#4e3494" opacity="0.93"/>
<ellipse cx="384.33" cy="372.27" rx="0.91" ry="0.93" transform="rotate(310 384.33 372.27)" fill="#4e3494" opacity="0.87"/>
<ellipse cx="385.36" cy="370.94" rx="1.42" ry="0.68" transform="rotate(325 385.36 370.94)" fill="#4e3494" opacity="0.67"/>
<ellipse cx="386.75" cy="370.77" rx="1.02" ry="0.87" transform="rotate(337 386.75 370.77)" fill="#4e3494" opacity="0.72"/>
<ellipse cx="388.80" cy="370.38" rx="0.91" ry="0.95" transform="rotate(355 388.80 370.38)" fill="#4e3494" opacity="0.84"/>
<ellipse cx="390.26" cy="369.92" rx="1.28" ry="0.82" transform="rotate(368 390.26 369.92)" fill="#4e3494" opacity="0.85"/>
<ellipse cx="392.55" cy="370.82" rx="1.38" ry="0.97" transform="rotate(389 392.55 370.82)" fill="#4e3494" opacity="0.92"/>
<ellipse cx="393.34" cy="371.61" rx="1.04" ry="0.84" transform="rotate(399 393.34 371.61)" fill="#4e3494" opacity="0.84"/>
<ellipse cx="395.24" cy="373.36" rx="1.03" ry="0.72" transform="rotate(423 395.24 373.36)" fill="#4e3494" opacity="0.84"/>
<ellipse cx="395.70" cy="374.00" rx="1.34" ry="0.83" transform="rotate(431 395.70 374.00)" fill="#4e3494" opacity="0.78"/>
<ellipse cx="373.80" cy="413.70" rx="7.30" ry="6.00" fill="url(#heD)"/>
<circle cx="375.63" cy="411.32" r="1.11" fill="#5a3c98" opacity="0.5"/>
<circle cx="371.72" cy="412.22" r="1.16" fill="#5a3c98" opacity="0.5"/>
<circle cx="378.66" cy="412.56" r="0.87" fill="#5a3c98" opacity="0.5"/>
<circle cx="369.21" cy="411.53" r="0.88" fill="#5a3c98" opacity="0.5"/>
<circle cx="378.68" cy="413.13" r="1.70" fill="#d890d4" opacity="0.5"/>
<circle cx="371.22" cy="412.55" r="1.29" fill="#c070c0" opacity="0.5"/>
<circle cx="374.31" cy="414.34" r="1.19" fill="#c070c0" opacity="0.5"/>
<circle cx="372.96" cy="409.07" r="1.71" fill="#d890d4" opacity="0.5"/>
<circle cx="370.65" cy="417.61" r="1.00" fill="#d890d4" opacity="0.5"/>
<circle cx="369.91" cy="410.48" r="1.15" fill="#5a3c98" opacity="0.5"/>
<ellipse cx="380.06" cy="413.95" rx="0.99" ry="0.84" transform="rotate(93 380.06 413.95)" fill="#4e3494" opacity="0.80"/>
<ellipse cx="380.34" cy="415.39" rx="1.24" ry="0.98" transform="rotate(107 380.34 415.39)" fill="#4e3494" opacity="0.77"/>
<ellipse cx="378.55" cy="416.60" rx="1.08" ry="0.88" transform="rotate(127 378.55 416.60)" fill="#4e3494" opacity="0.86"/>
<ellipse cx="377.42" cy="417.86" rx="1.06" ry="0.74" transform="rotate(144 377.42 417.86)" fill="#4e3494" opacity="0.82"/>
<ellipse cx="376.51" cy="418.31" rx="1.29" ry="0.66" transform="rotate(154 376.51 418.31)" fill="#4e3494" opacity="0.75"/>
<ellipse cx="373.90" cy="419.28" rx="1.05" ry="0.67" transform="rotate(179 373.90 419.28)" fill="#4e3494" opacity="0.70"/>
<ellipse cx="372.75" cy="419.10" rx="1.34" ry="0.71" transform="rotate(189 372.75 419.10)" fill="#4e3494" opacity="0.80"/>
<ellipse cx="370.71" cy="417.80" rx="1.39" ry="0.94" transform="rotate(212 370.71 417.80)" fill="#4e3494" opacity="0.73"/>
<ellipse cx="368.85" cy="417.23" rx="1.10" ry="0.95" transform="rotate(229 368.85 417.23)" fill="#4e3494" opacity="0.73"/>
<ellipse cx="368.26" cy="415.92" rx="1.17" ry="0.92" transform="rotate(244 368.26 415.92)" fill="#4e3494" opacity="0.83"/>
<ellipse cx="367.01" cy="414.44" rx="1.03" ry="0.69" transform="rotate(262 367.01 414.44)" fill="#4e3494" opacity="0.84"/>
<ellipse cx="367.00" cy="413.18" rx="1.10" ry="0.78" transform="rotate(275 367.00 413.18)" fill="#4e3494" opacity="0.79"/>
<ellipse cx="367.86" cy="411.02" rx="1.31" ry="0.67" transform="rotate(299 367.86 411.02)" fill="#4e3494" opacity="0.77"/>
<ellipse cx="369.50" cy="410.19" rx="1.43" ry="0.95" transform="rotate(315 369.50 410.19)" fill="#4e3494" opacity="0.73"/>
<ellipse cx="370.65" cy="409.43" rx="1.33" ry="0.62" transform="rotate(329 370.65 409.43)" fill="#4e3494" opacity="0.86"/>
<ellipse cx="371.86" cy="408.43" rx="1.23" ry="0.83" transform="rotate(343 371.86 408.43)" fill="#4e3494" opacity="0.69"/>
<ellipse cx="373.81" cy="408.60" rx="1.49" ry="0.84" transform="rotate(360 373.81 408.60)" fill="#4e3494" opacity="0.91"/>
<ellipse cx="375.58" cy="409.04" rx="0.91" ry="0.88" transform="rotate(377 375.58 409.04)" fill="#4e3494" opacity="0.72"/>
<ellipse cx="377.68" cy="409.39" rx="1.32" ry="0.73" transform="rotate(396 377.68 409.39)" fill="#4e3494" opacity="0.80"/>
<ellipse cx="378.97" cy="410.58" rx="1.11" ry="0.74" transform="rotate(414 378.97 410.58)" fill="#4e3494" opacity="0.74"/>
<ellipse cx="379.57" cy="412.06" rx="0.91" ry="0.72" transform="rotate(431 379.57 412.06)" fill="#4e3494" opacity="0.83"/>
<ellipse cx="406.90" cy="429.00" rx="6.60" ry="7.00" fill="url(#heD)"/>
<circle cx="406.69" cy="430.87" r="1.36" fill="#6a44a0" opacity="0.5"/>
<circle cx="403.96" cy="428.77" r="1.76" fill="#c070c0" opacity="0.5"/>
<circle cx="402.70" cy="430.63" r="1.30" fill="#7a4cac" opacity="0.5"/>
<circle cx="404.01" cy="431.53" r="1.33" fill="#5a3c98" opacity="0.5"/>
<circle cx="402.21" cy="426.45" r="1.14" fill="#7a4cac" opacity="0.5"/>
<circle cx="405.95" cy="432.36" r="1.54" fill="#6a44a0" opacity="0.5"/>
<circle cx="406.39" cy="431.39" r="1.62" fill="#c070c0" opacity="0.5"/>
<circle cx="405.27" cy="424.49" r="0.91" fill="#5a3c98" opacity="0.5"/>
<circle cx="404.39" cy="428.98" r="1.99" fill="#c070c0" opacity="0.5"/>
<circle cx="411.08" cy="426.45" r="0.93" fill="#6a44a0" opacity="0.5"/>
<circle cx="403.91" cy="428.31" r="1.42" fill="#5a3c98" opacity="0.5"/>
<ellipse cx="412.97" cy="428.80" rx="1.21" ry="1.00" transform="rotate(88 412.97 428.80)" fill="#4e3494" opacity="0.69"/>
<ellipse cx="411.84" cy="431.00" rx="0.99" ry="0.76" transform="rotate(111 411.84 431.00)" fill="#4e3494" opacity="0.85"/>
<ellipse cx="411.96" cy="432.00" rx="1.46" ry="0.77" transform="rotate(119 411.96 432.00)" fill="#4e3494" opacity="0.88"/>
<ellipse cx="410.65" cy="433.72" rx="1.00" ry="0.79" transform="rotate(140 410.65 433.72)" fill="#4e3494" opacity="0.92"/>
<ellipse cx="409.04" cy="434.35" rx="1.17" ry="0.82" transform="rotate(157 409.04 434.35)" fill="#4e3494" opacity="0.76"/>
<ellipse cx="407.66" cy="435.17" rx="0.91" ry="0.69" transform="rotate(173 407.66 435.17)" fill="#4e3494" opacity="0.85"/>
<ellipse cx="406.38" cy="434.64" rx="1.36" ry="0.73" transform="rotate(186 406.38 434.64)" fill="#4e3494" opacity="0.94"/>
<ellipse cx="404.62" cy="434.16" rx="1.28" ry="0.70" transform="rotate(205 404.62 434.16)" fill="#4e3494" opacity="0.90"/>
<ellipse cx="402.82" cy="433.64" rx="0.93" ry="0.61" transform="rotate(223 402.82 433.64)" fill="#4e3494" opacity="0.89"/>
<ellipse cx="402.48" cy="432.41" rx="0.92" ry="0.67" transform="rotate(234 402.48 432.41)" fill="#4e3494" opacity="0.80"/>
<ellipse cx="401.45" cy="430.25" rx="1.06" ry="0.93" transform="rotate(258 401.45 430.25)" fill="#4e3494" opacity="0.72"/>
<ellipse cx="401.05" cy="428.87" rx="1.46" ry="0.62" transform="rotate(271 401.05 428.87)" fill="#4e3494" opacity="0.83"/>
<ellipse cx="401.07" cy="427.31" rx="1.05" ry="0.89" transform="rotate(285 401.07 427.31)" fill="#4e3494" opacity="0.72"/>
<ellipse cx="401.70" cy="425.46" rx="1.04" ry="0.71" transform="rotate(303 401.70 425.46)" fill="#4e3494" opacity="0.93"/>
<ellipse cx="403.52" cy="424.62" rx="1.01" ry="0.69" transform="rotate(321 403.52 424.62)" fill="#4e3494" opacity="0.75"/>
<ellipse cx="404.74" cy="423.15" rx="1.49" ry="0.87" transform="rotate(339 404.74 423.15)" fill="#4e3494" opacity="0.84"/>
<ellipse cx="405.94" cy="422.78" rx="1.20" ry="0.62" transform="rotate(351 405.94 422.78)" fill="#4e3494" opacity="0.81"/>
<ellipse cx="407.61" cy="422.93" rx="0.93" ry="0.61" transform="rotate(367 407.61 422.93)" fill="#4e3494" opacity="0.95"/>
<ellipse cx="409.11" cy="423.56" rx="0.99" ry="0.84" transform="rotate(383 409.11 423.56)" fill="#4e3494" opacity="0.93"/>
<ellipse cx="410.43" cy="424.20" rx="1.20" ry="0.91" transform="rotate(398 410.43 424.20)" fill="#4e3494" opacity="0.83"/>
<ellipse cx="411.36" cy="425.67" rx="1.33" ry="0.63" transform="rotate(415 411.36 425.67)" fill="#4e3494" opacity="0.91"/>
<ellipse cx="412.00" cy="426.96" rx="1.18" ry="0.94" transform="rotate(429 412.00 426.96)" fill="#4e3494" opacity="0.84"/>
<ellipse cx="421.00" cy="425.40" rx="7.10" ry="6.50" fill="url(#heD)"/>
<circle cx="420.87" cy="420.87" r="1.22" fill="#6a44a0" opacity="0.5"/>
<circle cx="423.73" cy="426.52" r="0.85" fill="#c070c0" opacity="0.5"/>
<circle cx="426.23" cy="426.26" r="0.97" fill="#5a3c98" opacity="0.5"/>
<circle cx="420.52" cy="423.51" r="1.52" fill="#d890d4" opacity="0.5"/>
<circle cx="421.95" cy="424.90" r="1.08" fill="#6a44a0" opacity="0.5"/>
<circle cx="422.62" cy="428.56" r="1.04" fill="#5a3c98" opacity="0.5"/>
<circle cx="419.52" cy="423.75" r="1.79" fill="#7a4cac" opacity="0.5"/>
<circle cx="421.94" cy="422.18" r="1.48" fill="#5a3c98" opacity="0.5"/>
<circle cx="417.47" cy="425.24" r="1.17" fill="#5a3c98" opacity="0.5"/>
<circle cx="421.95" cy="425.33" r="1.92" fill="#d890d4" opacity="0.5"/>
<circle cx="416.54" cy="427.55" r="1.15" fill="#5a3c98" opacity="0.5"/>
<ellipse cx="427.34" cy="425.20" rx="1.00" ry="0.92" transform="rotate(88 427.34 425.20)" fill="#4e3494" opacity="0.92"/>
<ellipse cx="426.43" cy="427.23" rx="1.29" ry="0.71" transform="rotate(110 426.43 427.23)" fill="#4e3494" opacity="0.75"/>
<ellipse cx="426.75" cy="428.49" rx="0.96" ry="0.89" transform="rotate(120 426.75 428.49)" fill="#4e3494" opacity="0.85"/>
<ellipse cx="425.18" cy="430.00" rx="1.11" ry="0.70" transform="rotate(140 425.18 430.00)" fill="#4e3494" opacity="0.82"/>
<ellipse cx="423.86" cy="430.32" rx="1.31" ry="0.84" transform="rotate(152 423.86 430.32)" fill="#4e3494" opacity="0.86"/>
<ellipse cx="421.85" cy="431.35" rx="1.43" ry="0.71" transform="rotate(173 421.85 431.35)" fill="#4e3494" opacity="0.73"/>
<ellipse cx="420.17" cy="430.79" rx="1.24" ry="0.70" transform="rotate(188 420.17 430.79)" fill="#4e3494" opacity="0.81"/>
<ellipse cx="418.71" cy="430.92" rx="1.29" ry="0.77" transform="rotate(201 418.71 430.92)" fill="#4e3494" opacity="0.83"/>
<ellipse cx="416.90" cy="430.17" rx="1.13" ry="0.71" transform="rotate(218 416.90 430.17)" fill="#4e3494" opacity="0.86"/>
<ellipse cx="416.03" cy="427.97" rx="1.01" ry="0.80" transform="rotate(241 416.03 427.97)" fill="#4e3494" opacity="0.84"/>
<ellipse cx="415.29" cy="426.90" rx="1.13" ry="0.84" transform="rotate(254 415.29 426.90)" fill="#4e3494" opacity="0.87"/>
<ellipse cx="414.65" cy="425.76" rx="1.28" ry="0.86" transform="rotate(266 414.65 425.76)" fill="#4e3494" opacity="0.80"/>
<ellipse cx="415.53" cy="423.92" rx="1.16" ry="0.97" transform="rotate(286 415.53 423.92)" fill="#4e3494" opacity="0.89"/>
<ellipse cx="415.67" cy="422.61" rx="1.18" ry="0.87" transform="rotate(300 415.67 422.61)" fill="#4e3494" opacity="0.74"/>
<ellipse cx="417.17" cy="421.27" rx="1.33" ry="0.91" transform="rotate(320 417.17 421.27)" fill="#4e3494" opacity="0.82"/>
<ellipse cx="418.38" cy="419.87" rx="1.29" ry="0.98" transform="rotate(337 418.38 419.87)" fill="#4e3494" opacity="0.70"/>
<ellipse cx="420.19" cy="419.62" rx="1.15" ry="0.94" transform="rotate(353 420.19 419.62)" fill="#4e3494" opacity="0.82"/>
<ellipse cx="421.59" cy="419.61" rx="1.12" ry="0.86" transform="rotate(365 421.59 419.61)" fill="#4e3494" opacity="0.77"/>
<ellipse cx="423.78" cy="420.72" rx="1.31" ry="0.70" transform="rotate(389 423.78 420.72)" fill="#4e3494" opacity="0.74"/>
<ellipse cx="425.23" cy="420.87" rx="1.46" ry="0.62" transform="rotate(400 425.23 420.87)" fill="#4e3494" opacity="0.85"/>
<ellipse cx="425.85" cy="422.52" rx="1.25" ry="0.94" transform="rotate(417 425.85 422.52)" fill="#4e3494" opacity="0.71"/>
<ellipse cx="426.50" cy="423.79" rx="1.32" ry="0.94" transform="rotate(432 426.50 423.79)" fill="#4e3494" opacity="0.93"/>
<ellipse cx="416.00" cy="443.30" rx="10.00" ry="8.90" fill="url(#heD)"/>
<circle cx="411.50" cy="447.41" r="1.86" fill="#d890d4" opacity="0.5"/>
<circle cx="410.25" cy="441.49" r="1.61" fill="#6a44a0" opacity="0.5"/>
<circle cx="420.23" cy="442.70" r="1.56" fill="#d890d4" opacity="0.5"/>
<circle cx="415.19" cy="443.45" r="1.82" fill="#5a3c98" opacity="0.5"/>
<circle cx="408.42" cy="444.06" r="1.41" fill="#7a4cac" opacity="0.5"/>
<circle cx="418.71" cy="444.23" r="1.24" fill="#c070c0" opacity="0.5"/>
<circle cx="422.43" cy="447.29" r="0.89" fill="#d890d4" opacity="0.5"/>
<circle cx="411.97" cy="440.39" r="1.27" fill="#d890d4" opacity="0.5"/>
<circle cx="420.89" cy="440.93" r="1.62" fill="#5a3c98" opacity="0.5"/>
<circle cx="417.39" cy="441.70" r="0.86" fill="#6a44a0" opacity="0.5"/>
<circle cx="414.18" cy="444.48" r="1.33" fill="#7a4cac" opacity="0.5"/>
<circle cx="413.72" cy="442.37" r="1.72" fill="#7a4cac" opacity="0.5"/>
<circle cx="411.92" cy="444.62" r="1.26" fill="#d890d4" opacity="0.5"/>
<circle cx="421.81" cy="440.10" r="1.86" fill="#6a44a0" opacity="0.5"/>
<circle cx="413.11" cy="443.58" r="0.94" fill="#7a4cac" opacity="0.5"/>
<circle cx="420.91" cy="439.04" r="1.61" fill="#c070c0" opacity="0.5"/>
<circle cx="417.20" cy="447.93" r="1.98" fill="#c070c0" opacity="0.5"/>
<circle cx="415.66" cy="444.84" r="1.31" fill="#7a4cac" opacity="0.5"/>
<circle cx="421.30" cy="445.71" r="1.36" fill="#d890d4" opacity="0.5"/>
<circle cx="421.77" cy="439.60" r="1.79" fill="#7a4cac" opacity="0.5"/>
<circle cx="418.87" cy="441.71" r="1.16" fill="#5a3c98" opacity="0.5"/>
<circle cx="419.17" cy="441.68" r="1.30" fill="#6a44a0" opacity="0.5"/>
<ellipse cx="424.63" cy="442.88" rx="1.01" ry="0.62" transform="rotate(87 424.63 442.88)" fill="#4e3494" opacity="0.78"/>
<ellipse cx="425.02" cy="445.54" rx="1.39" ry="0.70" transform="rotate(106 425.02 445.54)" fill="#4e3494" opacity="0.91"/>
<ellipse cx="424.05" cy="446.39" rx="1.07" ry="0.67" transform="rotate(113 424.05 446.39)" fill="#4e3494" opacity="0.81"/>
<ellipse cx="422.93" cy="448.17" rx="1.06" ry="0.70" transform="rotate(128 422.93 448.17)" fill="#4e3494" opacity="0.86"/>
<ellipse cx="422.01" cy="449.63" rx="1.03" ry="0.63" transform="rotate(140 422.01 449.63)" fill="#4e3494" opacity="0.81"/>
<ellipse cx="420.71" cy="449.42" rx="1.15" ry="0.94" transform="rotate(146 420.71 449.42)" fill="#4e3494" opacity="0.80"/>
<ellipse cx="419.18" cy="449.94" rx="1.04" ry="0.84" transform="rotate(157 419.18 449.94)" fill="#4e3494" opacity="0.74"/>
<ellipse cx="417.88" cy="450.87" rx="1.21" ry="0.99" transform="rotate(168 417.88 450.87)" fill="#4e3494" opacity="0.90"/>
<ellipse cx="415.11" cy="451.36" rx="1.16" ry="0.69" transform="rotate(186 415.11 451.36)" fill="#4e3494" opacity="0.94"/>
<ellipse cx="413.15" cy="450.99" rx="0.97" ry="0.70" transform="rotate(198 413.15 450.99)" fill="#4e3494" opacity="0.80"/>
<ellipse cx="412.24" cy="449.96" rx="1.31" ry="0.66" transform="rotate(207 412.24 449.96)" fill="#4e3494" opacity="0.75"/>
<ellipse cx="410.88" cy="448.84" rx="1.13" ry="0.83" transform="rotate(219 410.88 448.84)" fill="#4e3494" opacity="0.94"/>
<ellipse cx="409.29" cy="449.00" rx="1.25" ry="0.85" transform="rotate(226 409.29 449.00)" fill="#4e3494" opacity="0.86"/>
<ellipse cx="408.05" cy="446.54" rx="1.28" ry="0.81" transform="rotate(245 408.05 446.54)" fill="#4e3494" opacity="0.89"/>
<ellipse cx="408.25" cy="445.48" rx="0.94" ry="0.88" transform="rotate(252 408.25 445.48)" fill="#4e3494" opacity="0.93"/>
<ellipse cx="406.71" cy="443.74" rx="1.38" ry="0.72" transform="rotate(267 406.71 443.74)" fill="#4e3494" opacity="0.80"/>
<ellipse cx="407.22" cy="442.87" rx="1.37" ry="0.80" transform="rotate(273 407.22 442.87)" fill="#4e3494" opacity="0.67"/>
<ellipse cx="408.23" cy="441.23" rx="1.35" ry="0.82" transform="rotate(287 408.23 441.23)" fill="#4e3494" opacity="0.73"/>
<ellipse cx="408.39" cy="439.59" rx="1.09" ry="0.81" transform="rotate(299 408.39 439.59)" fill="#4e3494" opacity="0.79"/>
<ellipse cx="409.59" cy="438.77" rx="1.27" ry="0.90" transform="rotate(308 409.59 438.77)" fill="#4e3494" opacity="0.86"/>
<ellipse cx="410.42" cy="437.62" rx="1.28" ry="0.67" transform="rotate(319 410.42 437.62)" fill="#4e3494" opacity="0.85"/>
<ellipse cx="412.37" cy="436.71" rx="1.27" ry="0.72" transform="rotate(334 412.37 436.71)" fill="#4e3494" opacity="0.76"/>
<ellipse cx="413.63" cy="436.12" rx="0.95" ry="0.78" transform="rotate(344 413.63 436.12)" fill="#4e3494" opacity="0.68"/>
<ellipse cx="415.08" cy="435.84" rx="0.97" ry="0.81" transform="rotate(354 415.08 435.84)" fill="#4e3494" opacity="0.91"/>
<ellipse cx="417.80" cy="435.41" rx="1.44" ry="0.84" transform="rotate(372 417.80 435.41)" fill="#4e3494" opacity="0.90"/>
<ellipse cx="419.33" cy="436.22" rx="1.39" ry="0.90" transform="rotate(383 419.33 436.22)" fill="#4e3494" opacity="0.91"/>
<ellipse cx="421.36" cy="436.77" rx="0.97" ry="0.66" transform="rotate(396 421.36 436.77)" fill="#4e3494" opacity="0.71"/>
<ellipse cx="422.19" cy="437.64" rx="1.27" ry="0.64" transform="rotate(404 422.19 437.64)" fill="#4e3494" opacity="0.76"/>
<ellipse cx="423.07" cy="438.80" rx="1.13" ry="0.96" transform="rotate(414 423.07 438.80)" fill="#4e3494" opacity="0.73"/>
<ellipse cx="424.10" cy="440.00" rx="1.30" ry="0.90" transform="rotate(425 424.10 440.00)" fill="#4e3494" opacity="0.72"/>
<ellipse cx="424.68" cy="441.49" rx="1.16" ry="0.62" transform="rotate(437 424.68 441.49)" fill="#4e3494" opacity="0.68"/>
<ellipse cx="440.40" cy="439.70" rx="7.70" ry="8.10" fill="url(#heD)"/>
<circle cx="435.95" cy="440.72" r="1.04" fill="#c070c0" opacity="0.5"/>
<circle cx="435.80" cy="438.69" r="1.95" fill="#6a44a0" opacity="0.5"/>
<circle cx="441.52" cy="444.79" r="1.37" fill="#7a4cac" opacity="0.5"/>
<circle cx="438.22" cy="436.07" r="1.92" fill="#5a3c98" opacity="0.5"/>
<circle cx="440.95" cy="441.87" r="1.31" fill="#7a4cac" opacity="0.5"/>
<circle cx="441.97" cy="438.66" r="1.37" fill="#6a44a0" opacity="0.5"/>
<circle cx="442.95" cy="442.46" r="1.14" fill="#7a4cac" opacity="0.5"/>
<circle cx="442.98" cy="435.80" r="1.32" fill="#d890d4" opacity="0.5"/>
<circle cx="436.34" cy="440.89" r="1.75" fill="#d890d4" opacity="0.5"/>
<circle cx="434.40" cy="439.47" r="1.97" fill="#d890d4" opacity="0.5"/>
<circle cx="439.62" cy="437.29" r="1.26" fill="#c070c0" opacity="0.5"/>
<circle cx="439.70" cy="440.60" r="1.87" fill="#6a44a0" opacity="0.5"/>
<circle cx="438.97" cy="437.02" r="0.84" fill="#d890d4" opacity="0.5"/>
<circle cx="438.88" cy="443.29" r="1.74" fill="#d890d4" opacity="0.5"/>
<circle cx="445.16" cy="441.64" r="1.26" fill="#c070c0" opacity="0.5"/>
<ellipse cx="446.67" cy="439.36" rx="0.91" ry="0.91" transform="rotate(87 446.67 439.36)" fill="#4e3494" opacity="0.73"/>
<ellipse cx="447.14" cy="441.72" rx="0.95" ry="0.68" transform="rotate(106 447.14 441.72)" fill="#4e3494" opacity="0.75"/>
<ellipse cx="446.41" cy="443.38" rx="1.08" ry="0.78" transform="rotate(120 446.41 443.38)" fill="#4e3494" opacity="0.77"/>
<ellipse cx="445.67" cy="444.57" rx="1.06" ry="0.92" transform="rotate(131 445.67 444.57)" fill="#4e3494" opacity="0.93"/>
<ellipse cx="444.39" cy="446.00" rx="1.46" ry="0.67" transform="rotate(146 444.39 446.00)" fill="#4e3494" opacity="0.95"/>
<ellipse cx="443.20" cy="446.48" rx="0.97" ry="0.72" transform="rotate(156 443.20 446.48)" fill="#4e3494" opacity="0.79"/>
<ellipse cx="440.86" cy="446.94" rx="1.02" ry="0.96" transform="rotate(176 440.86 446.94)" fill="#4e3494" opacity="0.91"/>
<ellipse cx="439.64" cy="446.19" rx="1.07" ry="0.72" transform="rotate(187 439.64 446.19)" fill="#4e3494" opacity="0.78"/>
<ellipse cx="437.54" cy="446.19" rx="1.39" ry="0.63" transform="rotate(205 437.54 446.19)" fill="#4e3494" opacity="0.73"/>
<ellipse cx="436.50" cy="445.20" rx="1.04" ry="0.63" transform="rotate(217 436.50 445.20)" fill="#4e3494" opacity="0.68"/>
<ellipse cx="435.41" cy="444.48" rx="1.14" ry="0.83" transform="rotate(228 435.41 444.48)" fill="#4e3494" opacity="0.75"/>
<ellipse cx="434.57" cy="443.55" rx="1.10" ry="0.80" transform="rotate(238 434.57 443.55)" fill="#4e3494" opacity="0.77"/>
<ellipse cx="434.42" cy="441.50" rx="1.08" ry="0.72" transform="rotate(254 434.42 441.50)" fill="#4e3494" opacity="0.70"/>
<ellipse cx="433.74" cy="440.23" rx="0.91" ry="0.95" transform="rotate(266 433.74 440.23)" fill="#4e3494" opacity="0.77"/>
<ellipse cx="433.85" cy="438.07" rx="0.91" ry="0.64" transform="rotate(283 433.85 438.07)" fill="#4e3494" opacity="0.89"/>
<ellipse cx="434.50" cy="436.37" rx="1.11" ry="0.90" transform="rotate(298 434.50 436.37)" fill="#4e3494" opacity="0.81"/>
<ellipse cx="435.34" cy="434.52" rx="1.44" ry="0.89" transform="rotate(314 435.34 434.52)" fill="#4e3494" opacity="0.86"/>
<ellipse cx="436.54" cy="433.89" rx="1.25" ry="0.81" transform="rotate(325 436.54 433.89)" fill="#4e3494" opacity="0.90"/>
<ellipse cx="438.53" cy="433.46" rx="1.35" ry="0.85" transform="rotate(343 438.53 433.46)" fill="#4e3494" opacity="0.84"/>
<ellipse cx="440.05" cy="433.17" rx="1.19" ry="0.75" transform="rotate(357 440.05 433.17)" fill="#4e3494" opacity="0.94"/>
<ellipse cx="440.85" cy="432.60" rx="0.99" ry="0.90" transform="rotate(364 440.85 432.60)" fill="#4e3494" opacity="0.80"/>
<ellipse cx="442.93" cy="433.41" rx="1.43" ry="0.60" transform="rotate(383 442.93 433.41)" fill="#4e3494" opacity="0.73"/>
<ellipse cx="444.65" cy="433.71" rx="1.37" ry="0.71" transform="rotate(397 444.65 433.71)" fill="#4e3494" opacity="0.69"/>
<ellipse cx="445.75" cy="435.04" rx="0.94" ry="0.97" transform="rotate(410 445.75 435.04)" fill="#4e3494" opacity="0.82"/>
<ellipse cx="446.06" cy="435.98" rx="1.10" ry="0.64" transform="rotate(418 446.06 435.98)" fill="#4e3494" opacity="0.92"/>
<ellipse cx="446.60" cy="438.56" rx="1.17" ry="0.71" transform="rotate(440 446.60 438.56)" fill="#4e3494" opacity="0.86"/>
<ellipse cx="452.50" cy="442.00" rx="4.40" ry="3.20" fill="url(#heD)"/>
<circle cx="454.07" cy="442.94" r="1.42" fill="#5a3c98" opacity="0.5"/>
<circle cx="451.23" cy="441.86" r="1.93" fill="#d890d4" opacity="0.5"/>
<circle cx="455.55" cy="440.98" r="1.07" fill="#c070c0" opacity="0.5"/>
<ellipse cx="456.30" cy="441.89" rx="1.29" ry="0.84" transform="rotate(88 456.30 441.89)" fill="#4e3494" opacity="0.76"/>
<ellipse cx="455.56" cy="443.53" rx="0.91" ry="0.64" transform="rotate(125 455.56 443.53)" fill="#4e3494" opacity="0.72"/>
<ellipse cx="454.39" cy="444.60" rx="0.93" ry="0.69" transform="rotate(152 454.39 444.60)" fill="#4e3494" opacity="0.73"/>
<ellipse cx="452.31" cy="444.96" rx="1.06" ry="0.64" transform="rotate(183 452.31 444.96)" fill="#4e3494" opacity="0.94"/>
<ellipse cx="450.27" cy="444.38" rx="1.18" ry="0.90" transform="rotate(214 450.27 444.38)" fill="#4e3494" opacity="0.88"/>
<ellipse cx="449.30" cy="443.34" rx="1.22" ry="0.86" transform="rotate(240 449.30 443.34)" fill="#4e3494" opacity="0.76"/>
<ellipse cx="448.89" cy="441.94" rx="1.48" ry="0.68" transform="rotate(271 448.89 441.94)" fill="#4e3494" opacity="0.73"/>
<ellipse cx="449.11" cy="440.32" rx="1.46" ry="0.94" transform="rotate(304 449.11 440.32)" fill="#4e3494" opacity="0.91"/>
<ellipse cx="450.74" cy="439.49" rx="0.94" ry="0.89" transform="rotate(333 450.74 439.49)" fill="#4e3494" opacity="0.90"/>
<ellipse cx="452.69" cy="439.42" rx="0.94" ry="0.89" transform="rotate(363 452.69 439.42)" fill="#4e3494" opacity="0.80"/>
<ellipse cx="454.79" cy="439.50" rx="1.17" ry="0.87" transform="rotate(394 454.79 439.50)" fill="#4e3494" opacity="0.85"/>
<ellipse cx="455.80" cy="440.71" rx="1.28" ry="0.63" transform="rotate(422 455.80 440.71)" fill="#4e3494" opacity="0.92"/>
<ellipse cx="378.90" cy="455.30" rx="11.80" ry="10.60" fill="url(#heD)"/>
<circle cx="377.50" cy="447.81" r="1.93" fill="#5a3c98" opacity="0.5"/>
<circle cx="382.59" cy="459.86" r="1.66" fill="#c070c0" opacity="0.5"/>
<circle cx="384.11" cy="462.31" r="1.80" fill="#7a4cac" opacity="0.5"/>
<circle cx="384.95" cy="461.63" r="1.90" fill="#c070c0" opacity="0.5"/>
<circle cx="378.30" cy="454.21" r="1.01" fill="#c070c0" opacity="0.5"/>
<circle cx="377.52" cy="458.63" r="1.21" fill="#6a44a0" opacity="0.5"/>
<circle cx="385.83" cy="458.30" r="1.82" fill="#6a44a0" opacity="0.5"/>
<circle cx="376.84" cy="454.70" r="1.53" fill="#5a3c98" opacity="0.5"/>
<circle cx="382.20" cy="447.54" r="1.35" fill="#5a3c98" opacity="0.5"/>
<circle cx="386.27" cy="455.91" r="1.84" fill="#7a4cac" opacity="0.5"/>
<circle cx="374.56" cy="451.99" r="1.57" fill="#6a44a0" opacity="0.5"/>
<circle cx="375.94" cy="460.62" r="1.51" fill="#5a3c98" opacity="0.5"/>
<circle cx="383.89" cy="449.35" r="1.35" fill="#7a4cac" opacity="0.5"/>
<circle cx="383.65" cy="452.08" r="1.46" fill="#6a44a0" opacity="0.5"/>
<circle cx="380.92" cy="454.27" r="1.27" fill="#c070c0" opacity="0.5"/>
<circle cx="377.69" cy="462.26" r="1.49" fill="#6a44a0" opacity="0.5"/>
<circle cx="378.60" cy="447.99" r="1.52" fill="#6a44a0" opacity="0.5"/>
<circle cx="371.42" cy="458.83" r="1.55" fill="#d890d4" opacity="0.5"/>
<circle cx="376.00" cy="449.41" r="1.07" fill="#d890d4" opacity="0.5"/>
<circle cx="384.06" cy="455.72" r="1.21" fill="#d890d4" opacity="0.5"/>
<circle cx="383.41" cy="450.05" r="1.23" fill="#c070c0" opacity="0.5"/>
<circle cx="371.42" cy="459.68" r="0.96" fill="#c070c0" opacity="0.5"/>
<circle cx="376.74" cy="460.14" r="0.96" fill="#d890d4" opacity="0.5"/>
<circle cx="378.78" cy="447.53" r="1.73" fill="#c070c0" opacity="0.5"/>
<circle cx="382.79" cy="460.64" r="1.33" fill="#c070c0" opacity="0.5"/>
<circle cx="373.21" cy="456.49" r="1.41" fill="#d890d4" opacity="0.5"/>
<circle cx="377.80" cy="463.64" r="1.79" fill="#5a3c98" opacity="0.5"/>
<circle cx="378.76" cy="454.03" r="1.06" fill="#6a44a0" opacity="0.5"/>
<circle cx="376.52" cy="461.55" r="1.82" fill="#d890d4" opacity="0.5"/>
<circle cx="385.90" cy="454.35" r="1.87" fill="#7a4cac" opacity="0.5"/>
<circle cx="383.08" cy="453.28" r="0.91" fill="#d890d4" opacity="0.5"/>
<ellipse cx="388.46" cy="455.41" rx="0.96" ry="0.98" transform="rotate(91 388.46 455.41)" fill="#4e3494" opacity="0.70"/>
<ellipse cx="389.00" cy="457.18" rx="0.90" ry="0.92" transform="rotate(102 389.00 457.18)" fill="#4e3494" opacity="0.68"/>
<ellipse cx="388.83" cy="459.09" rx="1.20" ry="0.78" transform="rotate(113 388.83 459.09)" fill="#4e3494" opacity="0.67"/>
<ellipse cx="387.05" cy="459.70" rx="1.22" ry="0.97" transform="rotate(121 387.05 459.70)" fill="#4e3494" opacity="0.86"/>
<ellipse cx="387.57" cy="460.83" rx="1.32" ry="0.73" transform="rotate(125 387.57 460.83)" fill="#4e3494" opacity="0.88"/>
<ellipse cx="385.49" cy="462.20" rx="1.22" ry="0.71" transform="rotate(139 385.49 462.20)" fill="#4e3494" opacity="0.75"/>
<ellipse cx="383.61" cy="463.24" rx="1.36" ry="0.75" transform="rotate(152 383.61 463.24)" fill="#4e3494" opacity="0.72"/>
<ellipse cx="383.82" cy="464.17" rx="1.35" ry="0.99" transform="rotate(154 383.82 464.17)" fill="#4e3494" opacity="0.83"/>
<ellipse cx="381.61" cy="463.68" rx="0.93" ry="0.84" transform="rotate(164 381.61 463.68)" fill="#4e3494" opacity="0.84"/>
<ellipse cx="378.60" cy="464.22" rx="1.04" ry="0.69" transform="rotate(182 378.60 464.22)" fill="#4e3494" opacity="0.71"/>
<ellipse cx="378.37" cy="464.50" rx="1.15" ry="0.75" transform="rotate(183 378.37 464.50)" fill="#4e3494" opacity="0.94"/>
<ellipse cx="376.05" cy="464.66" rx="1.22" ry="0.64" transform="rotate(195 376.05 464.66)" fill="#4e3494" opacity="0.67"/>
<ellipse cx="373.83" cy="463.95" rx="0.93" ry="0.88" transform="rotate(208 373.83 463.95)" fill="#4e3494" opacity="0.73"/>
<ellipse cx="372.21" cy="462.94" rx="1.34" ry="0.70" transform="rotate(218 372.21 462.94)" fill="#4e3494" opacity="0.71"/>
<ellipse cx="370.45" cy="461.56" rx="1.45" ry="0.82" transform="rotate(230 370.45 461.56)" fill="#4e3494" opacity="0.68"/>
<ellipse cx="369.96" cy="460.98" rx="0.94" ry="0.72" transform="rotate(235 369.96 460.98)" fill="#4e3494" opacity="0.68"/>
<ellipse cx="369.53" cy="458.50" rx="0.95" ry="0.74" transform="rotate(249 369.53 458.50)" fill="#4e3494" opacity="0.72"/>
<ellipse cx="368.81" cy="457.76" rx="1.29" ry="0.64" transform="rotate(255 368.81 457.76)" fill="#4e3494" opacity="0.82"/>
<ellipse cx="368.85" cy="456.72" rx="1.38" ry="0.70" transform="rotate(261 368.85 456.72)" fill="#4e3494" opacity="0.90"/>
<ellipse cx="368.82" cy="454.90" rx="1.38" ry="0.60" transform="rotate(273 368.82 454.90)" fill="#4e3494" opacity="0.82"/>
<ellipse cx="368.64" cy="452.84" rx="1.47" ry="0.88" transform="rotate(285 368.64 452.84)" fill="#4e3494" opacity="0.73"/>
<ellipse cx="369.38" cy="451.92" rx="1.07" ry="0.82" transform="rotate(292 369.38 451.92)" fill="#4e3494" opacity="0.69"/>
<ellipse cx="370.69" cy="449.97" rx="0.93" ry="0.65" transform="rotate(306 370.69 449.97)" fill="#4e3494" opacity="0.93"/>
<ellipse cx="371.47" cy="448.14" rx="1.13" ry="0.99" transform="rotate(317 371.47 448.14)" fill="#4e3494" opacity="0.71"/>
<ellipse cx="372.68" cy="447.15" rx="1.03" ry="0.60" transform="rotate(326 372.68 447.15)" fill="#4e3494" opacity="0.70"/>
<ellipse cx="373.42" cy="446.97" rx="1.26" ry="0.79" transform="rotate(329 373.42 446.97)" fill="#4e3494" opacity="0.70"/>
<ellipse cx="376.28" cy="446.94" rx="0.98" ry="0.84" transform="rotate(344 376.28 446.94)" fill="#4e3494" opacity="0.85"/>
<ellipse cx="378.04" cy="445.62" rx="0.98" ry="0.72" transform="rotate(355 378.04 445.62)" fill="#4e3494" opacity="0.71"/>
<ellipse cx="379.29" cy="446.79" rx="1.42" ry="0.87" transform="rotate(362 379.29 446.79)" fill="#4e3494" opacity="0.90"/>
<ellipse cx="381.18" cy="445.68" rx="1.40" ry="0.93" transform="rotate(372 381.18 445.68)" fill="#4e3494" opacity="0.89"/>
<ellipse cx="382.21" cy="446.81" rx="0.93" ry="0.91" transform="rotate(379 382.21 446.81)" fill="#4e3494" opacity="0.80"/>
<ellipse cx="384.74" cy="448.10" rx="1.16" ry="0.95" transform="rotate(396 384.74 448.10)" fill="#4e3494" opacity="0.94"/>
<ellipse cx="386.43" cy="448.22" rx="1.45" ry="0.71" transform="rotate(404 386.43 448.22)" fill="#4e3494" opacity="0.84"/>
<ellipse cx="386.63" cy="448.84" rx="1.47" ry="0.80" transform="rotate(407 386.63 448.84)" fill="#4e3494" opacity="0.71"/>
<ellipse cx="387.29" cy="451.20" rx="1.18" ry="0.63" transform="rotate(421 387.29 451.20)" fill="#4e3494" opacity="0.78"/>
<ellipse cx="389.12" cy="452.57" rx="1.41" ry="0.78" transform="rotate(433 389.12 452.57)" fill="#4e3494" opacity="0.79"/>
<ellipse cx="389.33" cy="452.99" rx="1.24" ry="0.76" transform="rotate(436 389.33 452.99)" fill="#4e3494" opacity="0.71"/>
<ellipse cx="333.90" cy="452.80" rx="6.00" ry="5.90" fill="url(#heD)"/>
<circle cx="332.74" cy="453.10" r="1.41" fill="#6a44a0" opacity="0.5"/>
<circle cx="333.00" cy="451.52" r="1.79" fill="#6a44a0" opacity="0.5"/>
<circle cx="330.46" cy="450.00" r="1.62" fill="#c070c0" opacity="0.5"/>
<circle cx="335.90" cy="448.73" r="1.50" fill="#c070c0" opacity="0.5"/>
<circle cx="331.58" cy="449.82" r="0.83" fill="#6a44a0" opacity="0.5"/>
<circle cx="333.05" cy="454.00" r="1.51" fill="#7a4cac" opacity="0.5"/>
<circle cx="333.84" cy="453.82" r="1.21" fill="#c070c0" opacity="0.5"/>
<circle cx="335.83" cy="450.00" r="1.05" fill="#5a3c98" opacity="0.5"/>
<ellipse cx="338.71" cy="452.43" rx="1.38" ry="0.95" transform="rotate(86 338.71 452.43)" fill="#4e3494" opacity="0.71"/>
<ellipse cx="339.02" cy="454.10" rx="1.05" ry="0.85" transform="rotate(105 339.02 454.10)" fill="#4e3494" opacity="0.92"/>
<ellipse cx="337.75" cy="455.99" rx="1.26" ry="0.72" transform="rotate(130 337.75 455.99)" fill="#4e3494" opacity="0.88"/>
<ellipse cx="337.10" cy="457.23" rx="1.31" ry="0.96" transform="rotate(145 337.10 457.23)" fill="#4e3494" opacity="0.76"/>
<ellipse cx="334.82" cy="457.92" rx="1.05" ry="0.86" transform="rotate(170 334.82 457.92)" fill="#4e3494" opacity="0.75"/>
<ellipse cx="333.80" cy="457.55" rx="1.27" ry="0.70" transform="rotate(181 333.80 457.55)" fill="#4e3494" opacity="0.69"/>
<ellipse cx="331.73" cy="457.14" rx="1.35" ry="0.71" transform="rotate(206 331.73 457.14)" fill="#4e3494" opacity="0.77"/>
<ellipse cx="329.91" cy="456.51" rx="1.40" ry="0.99" transform="rotate(227 329.91 456.51)" fill="#4e3494" opacity="0.84"/>
<ellipse cx="329.05" cy="454.97" rx="1.25" ry="0.73" transform="rotate(246 329.05 454.97)" fill="#4e3494" opacity="0.77"/>
<ellipse cx="328.95" cy="453.56" rx="1.29" ry="0.95" transform="rotate(261 328.95 453.56)" fill="#4e3494" opacity="0.87"/>
<ellipse cx="329.11" cy="452.23" rx="1.12" ry="0.77" transform="rotate(277 329.11 452.23)" fill="#4e3494" opacity="0.91"/>
<ellipse cx="329.31" cy="450.32" rx="1.26" ry="0.82" transform="rotate(299 329.31 450.32)" fill="#4e3494" opacity="0.86"/>
<ellipse cx="330.37" cy="448.96" rx="1.04" ry="0.65" transform="rotate(318 330.37 448.96)" fill="#4e3494" opacity="0.79"/>
<ellipse cx="331.97" cy="447.63" rx="1.08" ry="0.83" transform="rotate(340 331.97 447.63)" fill="#4e3494" opacity="0.81"/>
<ellipse cx="333.45" cy="447.95" rx="1.37" ry="0.63" transform="rotate(355 333.45 447.95)" fill="#4e3494" opacity="0.73"/>
<ellipse cx="334.95" cy="448.02" rx="1.02" ry="0.63" transform="rotate(372 334.95 448.02)" fill="#4e3494" opacity="0.81"/>
<ellipse cx="336.58" cy="448.26" rx="1.26" ry="0.85" transform="rotate(390 336.58 448.26)" fill="#4e3494" opacity="0.80"/>
<ellipse cx="337.94" cy="449.82" rx="1.18" ry="0.88" transform="rotate(413 337.94 449.82)" fill="#4e3494" opacity="0.73"/>
<ellipse cx="338.97" cy="451.29" rx="1.48" ry="0.85" transform="rotate(433 338.97 451.29)" fill="#4e3494" opacity="0.82"/>
<ellipse cx="322.50" cy="352.50" rx="4.00" ry="4.00" fill="url(#heD)"/>
<circle cx="322.70" cy="350.79" r="1.72" fill="#d890d4" opacity="0.5"/>
<circle cx="319.48" cy="352.64" r="1.02" fill="#c070c0" opacity="0.5"/>
<circle cx="325.54" cy="351.60" r="1.42" fill="#5a3c98" opacity="0.5"/>
<circle cx="321.83" cy="353.58" r="0.90" fill="#5a3c98" opacity="0.5"/>
<ellipse cx="326.02" cy="352.23" rx="1.33" ry="0.85" transform="rotate(86 326.02 352.23)" fill="#4e3494" opacity="0.89"/>
<ellipse cx="325.72" cy="354.15" rx="1.26" ry="0.85" transform="rotate(117 325.72 354.15)" fill="#4e3494" opacity="0.82"/>
<ellipse cx="324.42" cy="355.44" rx="0.95" ry="0.87" transform="rotate(147 324.42 355.44)" fill="#4e3494" opacity="0.87"/>
<ellipse cx="322.99" cy="356.21" rx="1.19" ry="0.67" transform="rotate(172 322.99 356.21)" fill="#4e3494" opacity="0.81"/>
<ellipse cx="321.40" cy="355.60" rx="1.43" ry="0.67" transform="rotate(199 321.40 355.60)" fill="#4e3494" opacity="0.87"/>
<ellipse cx="320.01" cy="354.95" rx="1.50" ry="0.64" transform="rotate(225 320.01 354.95)" fill="#4e3494" opacity="0.91"/>
<ellipse cx="318.94" cy="353.68" rx="1.45" ry="0.78" transform="rotate(252 318.94 353.68)" fill="#4e3494" opacity="0.85"/>
<ellipse cx="319.30" cy="351.73" rx="1.11" ry="0.78" transform="rotate(283 319.30 351.73)" fill="#4e3494" opacity="0.91"/>
<ellipse cx="319.74" cy="350.34" rx="1.18" ry="0.82" transform="rotate(308 319.74 350.34)" fill="#4e3494" opacity="0.89"/>
<ellipse cx="321.35" cy="349.32" rx="1.47" ry="0.84" transform="rotate(340 321.35 349.32)" fill="#4e3494" opacity="0.74"/>
<ellipse cx="322.97" cy="348.84" rx="0.93" ry="0.86" transform="rotate(367 322.97 348.84)" fill="#4e3494" opacity="0.80"/>
<ellipse cx="324.28" cy="349.73" rx="1.04" ry="0.78" transform="rotate(393 324.28 349.73)" fill="#4e3494" opacity="0.79"/>
<ellipse cx="325.49" cy="350.99" rx="1.27" ry="0.79" transform="rotate(423 325.49 350.99)" fill="#4e3494" opacity="0.89"/>
<ellipse cx="353.00" cy="350.50" rx="5.50" ry="2.80" fill="url(#heD)"/>
<circle cx="353.72" cy="349.47" r="1.65" fill="#c070c0" opacity="0.5"/>
<circle cx="351.14" cy="351.63" r="1.40" fill="#5a3c98" opacity="0.5"/>
<circle cx="356.43" cy="350.42" r="1.12" fill="#c070c0" opacity="0.5"/>
<ellipse cx="357.73" cy="350.64" rx="1.14" ry="0.83" transform="rotate(93 357.73 350.64)" fill="#4e3494" opacity="0.81"/>
<ellipse cx="357.26" cy="351.66" rx="1.47" ry="0.90" transform="rotate(118 357.26 351.66)" fill="#4e3494" opacity="0.69"/>
<ellipse cx="355.22" cy="352.44" rx="0.93" ry="0.93" transform="rotate(150 355.22 352.44)" fill="#4e3494" opacity="0.74"/>
<ellipse cx="353.88" cy="352.76" rx="1.20" ry="0.94" transform="rotate(169 353.88 352.76)" fill="#4e3494" opacity="0.67"/>
<ellipse cx="351.66" cy="352.64" rx="0.93" ry="0.73" transform="rotate(198 351.66 352.64)" fill="#4e3494" opacity="0.80"/>
<ellipse cx="349.10" cy="352.01" rx="1.41" ry="0.84" transform="rotate(233 349.10 352.01)" fill="#4e3494" opacity="0.92"/>
<ellipse cx="348.52" cy="351.00" rx="1.12" ry="0.79" transform="rotate(258 348.52 351.00)" fill="#4e3494" opacity="0.70"/>
<ellipse cx="348.45" cy="349.76" rx="1.02" ry="0.80" transform="rotate(288 348.45 349.76)" fill="#4e3494" opacity="0.89"/>
<ellipse cx="349.25" cy="348.93" rx="0.95" ry="0.70" transform="rotate(309 349.25 348.93)" fill="#4e3494" opacity="0.72"/>
<ellipse cx="351.26" cy="348.15" rx="1.04" ry="0.88" transform="rotate(339 351.26 348.15)" fill="#4e3494" opacity="0.83"/>
<ellipse cx="353.83" cy="347.90" rx="1.10" ry="1.00" transform="rotate(369 353.83 347.90)" fill="#4e3494" opacity="0.79"/>
<ellipse cx="355.58" cy="348.60" rx="0.95" ry="0.86" transform="rotate(395 355.58 348.60)" fill="#4e3494" opacity="0.69"/>
<ellipse cx="356.79" cy="349.30" rx="1.23" ry="0.68" transform="rotate(418 356.79 349.30)" fill="#4e3494" opacity="0.74"/>
<path d="M399 366 C400 363 403 363 404 364 C406 361 410 361 411 364 C413 365 413.5 368 412 370 C413 373 411 376 408 376 C407 379 403 380 401 378 C398 377 397 374 398 371 C396.5 369 397 367 399 366Z" fill="#b878c6"/>
<circle cx="402" cy="367.5" r="1.2" fill="#5e3c9c" opacity="0.85"/>
<circle cx="411" cy="367" r="1.3" fill="#5e3c9c" opacity="0.85"/>
<circle cx="409" cy="373" r="1.1" fill="#5e3c9c" opacity="0.85"/>
<circle cx="404" cy="378" r="1.0" fill="#5e3c9c" opacity="0.85"/>
<circle cx="399.5" cy="371" r="1.0" fill="#5e3c9c" opacity="0.85"/>
<circle cx="406" cy="364" r="0.9" fill="#5e3c9c" opacity="0.85"/>
<ellipse cx="405.3" cy="369.2" rx="1.8" ry="1.4" fill="#e8c8ec"/>
<circle cx="400.5" cy="365" r="1.6" fill="#d8a8dc" opacity="0.8"/>
</g>
<rect x="441" y="469" width="34.00" height="9.70" fill="#050505"/>
<rect x="442.50" y="471.80" width="31.00" height="1.0" fill="#a01818"/>
<text x="458.00" y="476.90" font-size="3.4" font-weight="bold" fill="#eee" text-anchor="middle">100 µm</text>
</g>
<defs><radialGradient id="f1a" cx="50%" cy="50%" r="50%"><stop offset="0" stop-color="#0c0404" stop-opacity="1"/><stop offset="0.3" stop-color="#140806" stop-opacity="1"/><stop offset="0.55" stop-color="#2a1408" stop-opacity="1"/><stop offset="0.85" stop-color="#3a3014" stop-opacity="1"/><stop offset="0.95" stop-color="#6a7a1c" stop-opacity="1"/><stop offset="1" stop-color="#98b424" stop-opacity="1"/></radialGradient></defs>
<defs><radialGradient id="f1b" cx="50%" cy="50%" r="50%"><stop offset="0" stop-color="#4a2a0e" stop-opacity="1"/><stop offset="0.6" stop-color="#48280e" stop-opacity="1"/><stop offset="0.86" stop-color="#4a4414" stop-opacity="1"/><stop offset="0.95" stop-color="#6a8420" stop-opacity="1"/><stop offset="1" stop-color="#94b024" stop-opacity="1"/></radialGradient></defs>
<defs><radialGradient id="f1c" cx="50%" cy="50%" r="50%"><stop offset="0" stop-color="#4a4414" stop-opacity="1"/><stop offset="0.7" stop-color="#4a4a16" stop-opacity="1"/><stop offset="0.9" stop-color="#6a7a1c" stop-opacity="1"/><stop offset="1" stop-color="#98b424" stop-opacity="1"/></radialGradient></defs>
<defs><radialGradient id="f2ring" cx="50%" cy="50%" r="50%"><stop offset="0" stop-color="#4a0a08" stop-opacity="1"/><stop offset="0.4" stop-color="#6e140a" stop-opacity="1"/><stop offset="0.62" stop-color="#8a240e" stop-opacity="1"/><stop offset="0.68" stop-color="#78a028" stop-opacity="1"/><stop offset="0.74" stop-color="#84d02c" stop-opacity="1"/><stop offset="0.93" stop-color="#8cd430" stop-opacity="1"/><stop offset="0.97" stop-color="#a0b828" stop-opacity="1"/><stop offset="1" stop-color="#b05818" stop-opacity="1"/></radialGradient></defs>
<defs><radialGradient id="f2big" cx="50%" cy="50%" r="50%"><stop offset="0" stop-color="#0a0106" stop-opacity="1"/><stop offset="0.25" stop-color="#2a0406" stop-opacity="1"/><stop offset="0.5" stop-color="#7a180c" stop-opacity="1"/><stop offset="0.62" stop-color="#90300e" stop-opacity="1"/><stop offset="0.68" stop-color="#88b82c" stop-opacity="1"/><stop offset="0.75" stop-color="#98dc30" stop-opacity="1"/><stop offset="0.93" stop-color="#a0dc30" stop-opacity="1"/><stop offset="0.97" stop-color="#b0c028" stop-opacity="1"/><stop offset="1" stop-color="#b85818" stop-opacity="1"/></radialGradient></defs>
<defs><radialGradient id="f2solid" cx="50%" cy="50%" r="50%"><stop offset="0" stop-color="#b0dc30" stop-opacity="1"/><stop offset="0.75" stop-color="#98d830" stop-opacity="1"/><stop offset="0.93" stop-color="#90d028" stop-opacity="1"/><stop offset="1" stop-color="#b06018" stop-opacity="1"/></radialGradient></defs>
<defs><radialGradient id="f2solid2" cx="50%" cy="50%" r="50%"><stop offset="0" stop-color="#c0d82a" stop-opacity="1"/><stop offset="0.55" stop-color="#a0d82c" stop-opacity="1"/><stop offset="0.92" stop-color="#88d024" stop-opacity="1"/><stop offset="1" stop-color="#b06018" stop-opacity="1"/></radialGradient></defs>
<defs><radialGradient id="f2mix" cx="50%" cy="50%" r="50%"><stop offset="0" stop-color="#8a5018" stop-opacity="1"/><stop offset="0.5" stop-color="#a0701e" stop-opacity="1"/><stop offset="0.68" stop-color="#90c428" stop-opacity="1"/><stop offset="0.93" stop-color="#88d028" stop-opacity="1"/><stop offset="1" stop-color="#b06018" stop-opacity="1"/></radialGradient></defs>
<defs><radialGradient id="f2bot" cx="50%" cy="50%" r="50%"><stop offset="0" stop-color="#5a3812" stop-opacity="1"/><stop offset="0.6" stop-color="#7a5018" stop-opacity="1"/><stop offset="0.85" stop-color="#a86818" stop-opacity="1"/><stop offset="0.95" stop-color="#c04a14" stop-opacity="1"/><stop offset="1" stop-color="#a02010" stop-opacity="1"/></radialGradient></defs>
<defs><radialGradient id="f3big" cx="50%" cy="50%" r="50%"><stop offset="0" stop-color="#98240e" stop-opacity="1"/><stop offset="0.55" stop-color="#c84414" stop-opacity="1"/><stop offset="0.85" stop-color="#d86a1e" stop-opacity="1"/><stop offset="0.95" stop-color="#e08a28" stop-opacity="1"/><stop offset="1" stop-color="#c83418" stop-opacity="1"/></radialGradient></defs>
<defs><radialGradient id="f3mid" cx="50%" cy="50%" r="50%"><stop offset="0" stop-color="#b81414" stop-opacity="1"/><stop offset="0.65" stop-color="#dc2418" stop-opacity="1"/><stop offset="0.95" stop-color="#e83a1c" stop-opacity="1"/><stop offset="1" stop-color="#c82010" stop-opacity="1"/></radialGradient></defs>
<defs><radialGradient id="f3yel" cx="50%" cy="50%" r="50%"><stop offset="0" stop-color="#e8e430" stop-opacity="1"/><stop offset="0.6" stop-color="#d8e42c" stop-opacity="1"/><stop offset="0.9" stop-color="#c0dc28" stop-opacity="1"/><stop offset="1" stop-color="#c89a20" stop-opacity="1"/></radialGradient></defs>
<defs><radialGradient id="f3yel2" cx="50%" cy="50%" r="50%"><stop offset="0" stop-color="#ece030" stop-opacity="1"/><stop offset="0.6" stop-color="#e2e02c" stop-opacity="1"/><stop offset="0.9" stop-color="#c8d828" stop-opacity="1"/><stop offset="1" stop-color="#c89a20" stop-opacity="1"/></radialGradient></defs>
<g clip-path="url(#cF1)">
<rect x="7.1" y="516.2" width="173.3" height="127.8" fill="#040110"/>
<g filter="url(#blur2)">
<path d="M105.60 570.00C105.78 572.64 105.52 576.29 104.00 578.41C102.48 580.53 99.05 582.41 96.47 582.73C93.89 583.04 90.78 581.73 88.54 580.32C86.30 578.90 83.94 576.66 83.03 574.24C82.13 571.82 82.26 568.33 83.11 565.79C83.97 563.25 85.93 560.43 88.15 559.00C90.38 557.57 94.02 556.63 96.48 557.22C98.94 557.81 101.37 560.42 102.89 562.55C104.41 564.68 105.41 567.36 105.60 570.00Z" fill="url(#f1c)" />
<path d="M140.09 556.20C140.16 560.93 136.36 567.92 132.14 570.62C127.92 573.31 119.83 573.55 114.79 572.35C109.74 571.15 104.30 567.42 101.88 563.42C99.46 559.41 98.16 552.43 100.25 548.30C102.34 544.18 109.18 539.67 114.42 538.66C119.67 537.65 127.44 539.31 131.72 542.24C136.00 545.16 140.02 551.47 140.09 556.20Z" fill="url(#f1a)" />
<path d="M174.18 583.50C174.03 587.09 173.59 591.11 171.75 593.99C169.90 596.87 166.36 599.31 163.10 600.78C159.83 602.26 155.69 603.25 152.15 602.84C148.60 602.43 144.37 600.67 141.84 598.31C139.31 595.94 137.78 591.98 136.99 588.66C136.21 585.33 136.36 581.77 137.11 578.38C137.86 574.99 138.98 570.56 141.51 568.32C144.03 566.09 148.69 565.25 152.26 564.95C155.84 564.64 159.56 565.25 162.96 566.50C166.36 567.75 170.78 569.61 172.65 572.44C174.52 575.28 174.33 579.91 174.18 583.50Z" fill="url(#f1b)" />
<circle cx="146.42" cy="575.35" r="2.94" fill="#7a4a14" opacity="0.45"/>
<circle cx="158.77" cy="570.90" r="2.49" fill="#7a4a14" opacity="0.45"/>
<circle cx="154.15" cy="570.54" r="3.09" fill="#7a4a14" opacity="0.45"/>
<circle cx="164.41" cy="585.19" r="3.15" fill="#7a4a14" opacity="0.45"/>
<circle cx="165.52" cy="579.69" r="2.03" fill="#7a4a14" opacity="0.45"/>
<circle cx="159.08" cy="580.64" r="2.43" fill="#7a4a14" opacity="0.45"/>
<ellipse cx="92.50" cy="579.94" rx="1.70" ry="1.25" transform="rotate(184 92.50 579.94)" fill="#2446ea" opacity="0.95"/>
<ellipse cx="94.76" cy="565.24" rx="1.94" ry="1.43" transform="rotate(370 94.76 565.24)" fill="#2446ea" opacity="0.95"/>
<ellipse cx="91.14" cy="567.03" rx="2.17" ry="1.60" transform="rotate(335 91.14 567.03)" fill="#2446ea" opacity="0.95"/>
<ellipse cx="103.86" cy="570.11" rx="1.82" ry="1.34" transform="rotate(96 103.86 570.11)" fill="#2446ea" opacity="0.95"/>
<ellipse cx="95.61" cy="575.19" rx="1.62" ry="1.19" transform="rotate(185 95.61 575.19)" fill="#2446ea" opacity="0.95"/>
<ellipse cx="86.05" cy="567.86" rx="1.94" ry="1.43" transform="rotate(265 86.05 567.86)" fill="#2446ea" opacity="0.95"/>
<ellipse cx="97.08" cy="579.83" rx="1.70" ry="1.25" transform="rotate(169 97.08 579.83)" fill="#2446ea" opacity="0.95"/>
<ellipse cx="90.64" cy="560.34" rx="2.12" ry="1.56" transform="rotate(345 90.64 560.34)" fill="#2446ea" opacity="0.95"/>
<ellipse cx="98.95" cy="566.21" rx="1.86" ry="1.37" transform="rotate(406 98.95 566.21)" fill="#2446ea" opacity="0.95"/>
<ellipse cx="91.28" cy="573.72" rx="1.78" ry="1.31" transform="rotate(206 91.28 573.72)" fill="#2446ea" opacity="0.95"/>
<ellipse cx="97.10" cy="569.54" rx="1.83" ry="1.35" transform="rotate(465 97.10 569.54)" fill="#2446ea" opacity="0.95"/>
<ellipse cx="94.29" cy="560.26" rx="2.14" ry="1.57" transform="rotate(383 94.29 560.26)" fill="#2446ea" opacity="0.95"/>
<ellipse cx="103.26" cy="565.62" rx="1.76" ry="1.30" transform="rotate(429 103.26 565.62)" fill="#2446ea" opacity="0.95"/>
<ellipse cx="101.23" cy="575.78" rx="1.90" ry="1.40" transform="rotate(153 101.23 575.78)" fill="#2446ea" opacity="0.95"/>
<ellipse cx="86.78" cy="563.51" rx="1.80" ry="1.32" transform="rotate(306 86.78 563.51)" fill="#2446ea" opacity="0.95"/>
<ellipse cx="89.04" cy="578.58" rx="1.90" ry="1.40" transform="rotate(237 89.04 578.58)" fill="#2446ea" opacity="0.95"/>
<ellipse cx="87.69" cy="571.95" rx="1.89" ry="1.39" transform="rotate(243 87.69 571.95)" fill="#2446ea" opacity="0.95"/>
<ellipse cx="97.50" cy="562.09" rx="1.97" ry="1.45" transform="rotate(364 97.50 562.09)" fill="#2446ea" opacity="0.95"/>
<ellipse cx="105.85" cy="560.47" rx="2.52" ry="1.70" transform="rotate(258 105.85 560.47)" fill="#2446ea" opacity="0.95"/>
<ellipse cx="122.38" cy="541.52" rx="2.57" ry="1.73" transform="rotate(364 122.38 541.52)" fill="#2446ea" opacity="0.95"/>
<ellipse cx="134.43" cy="557.32" rx="2.00" ry="1.35" transform="rotate(117 134.43 557.32)" fill="#2446ea" opacity="0.95"/>
<ellipse cx="116.37" cy="571.49" rx="2.22" ry="1.49" transform="rotate(195 116.37 571.49)" fill="#2446ea" opacity="0.95"/>
<ellipse cx="117.55" cy="567.60" rx="2.33" ry="1.57" transform="rotate(185 117.55 567.60)" fill="#2446ea" opacity="0.95"/>
<ellipse cx="107.21" cy="547.88" rx="2.39" ry="1.61" transform="rotate(327 107.21 547.88)" fill="#2446ea" opacity="0.95"/>
<ellipse cx="118.47" cy="544.96" rx="2.13" ry="1.43" transform="rotate(377 118.47 544.96)" fill="#2446ea" opacity="0.95"/>
<ellipse cx="105.01" cy="553.59" rx="2.23" ry="1.50" transform="rotate(297 105.01 553.59)" fill="#2446ea" opacity="0.95"/>
<ellipse cx="130.86" cy="547.38" rx="2.51" ry="1.69" transform="rotate(394 130.86 547.38)" fill="#2446ea" opacity="0.95"/>
<ellipse cx="114.83" cy="542.63" rx="2.11" ry="1.42" transform="rotate(349 114.83 542.63)" fill="#2446ea" opacity="0.95"/>
<ellipse cx="101.56" cy="557.95" rx="2.29" ry="1.55" transform="rotate(283 101.56 557.95)" fill="#2446ea" opacity="0.95"/>
<ellipse cx="107.99" cy="564.65" rx="2.63" ry="1.78" transform="rotate(237 107.99 564.65)" fill="#2446ea" opacity="0.95"/>
<ellipse cx="127.00" cy="546.80" rx="2.33" ry="1.57" transform="rotate(388 127.00 546.80)" fill="#2446ea" opacity="0.95"/>
<ellipse cx="134.70" cy="562.25" rx="2.15" ry="1.45" transform="rotate(116 134.70 562.25)" fill="#2446ea" opacity="0.95"/>
<ellipse cx="128.00" cy="567.56" rx="2.62" ry="1.77" transform="rotate(147 128.00 567.56)" fill="#2446ea" opacity="0.95"/>
<ellipse cx="121.14" cy="571.02" rx="2.14" ry="1.44" transform="rotate(183 121.14 571.02)" fill="#2446ea" opacity="0.95"/>
<ellipse cx="136.83" cy="554.10" rx="2.38" ry="1.60" transform="rotate(451 136.83 554.10)" fill="#2446ea" opacity="0.95"/>
<ellipse cx="108.18" cy="543.88" rx="2.42" ry="1.63" transform="rotate(316 108.18 543.88)" fill="#2446ea" opacity="0.95"/>
<ellipse cx="130.33" cy="564.21" rx="2.49" ry="1.68" transform="rotate(123 130.33 564.21)" fill="#2446ea" opacity="0.95"/>
<ellipse cx="132.47" cy="551.41" rx="2.52" ry="1.70" transform="rotate(422 132.47 551.41)" fill="#2446ea" opacity="0.95"/>
<ellipse cx="111.47" cy="569.49" rx="2.07" ry="1.40" transform="rotate(196 111.47 569.49)" fill="#2446ea" opacity="0.95"/>
<ellipse cx="131.35" cy="559.99" rx="2.04" ry="1.38" transform="rotate(101 131.35 559.99)" fill="#2446ea" opacity="0.95"/>
<ellipse cx="122.62" cy="566.48" rx="2.64" ry="1.78" transform="rotate(182 122.62 566.48)" fill="#2446ea" opacity="0.95"/>
<ellipse cx="113.15" cy="565.46" rx="2.12" ry="1.43" transform="rotate(205 113.15 565.46)" fill="#2446ea" opacity="0.95"/>
<ellipse cx="127.40" cy="542.88" rx="2.54" ry="1.71" transform="rotate(408 127.40 542.88)" fill="#2446ea" opacity="0.95"/>
<ellipse cx="103.24" cy="563.55" rx="2.17" ry="1.46" transform="rotate(229 103.24 563.55)" fill="#2446ea" opacity="0.95"/>
<ellipse cx="112.54" cy="546.44" rx="2.05" ry="1.38" transform="rotate(330 112.54 546.44)" fill="#2446ea" opacity="0.95"/>
<ellipse cx="103.27" cy="549.38" rx="2.23" ry="1.50" transform="rotate(282 103.27 549.38)" fill="#2446ea" opacity="0.95"/>
<ellipse cx="125.41" cy="570.85" rx="2.05" ry="1.38" transform="rotate(140 125.41 570.85)" fill="#2446ea" opacity="0.95"/>
<ellipse cx="123.13" cy="545.44" rx="2.16" ry="1.46" transform="rotate(384 123.13 545.44)" fill="#2446ea" opacity="0.95"/>
<ellipse cx="129.19" cy="550.95" rx="1.68" ry="1.22" transform="rotate(396 129.19 550.95)" fill="#2a40e0" opacity="0.75"/>
<ellipse cx="115.10" cy="549.98" rx="1.77" ry="1.28" transform="rotate(322 115.10 549.98)" fill="#2a40e0" opacity="0.75"/>
<ellipse cx="119.52" cy="548.76" rx="1.62" ry="1.17" transform="rotate(382 119.52 548.76)" fill="#2a40e0" opacity="0.75"/>
<ellipse cx="125.19" cy="550.43" rx="1.54" ry="1.11" transform="rotate(383 125.19 550.43)" fill="#2a40e0" opacity="0.75"/>
<ellipse cx="115.03" cy="561.50" rx="1.92" ry="1.39" transform="rotate(205 115.03 561.50)" fill="#2a40e0" opacity="0.75"/>
<ellipse cx="111.00" cy="563.80" rx="1.88" ry="1.36" transform="rotate(220 111.00 563.80)" fill="#2a40e0" opacity="0.75"/>
<ellipse cx="140.95" cy="582.40" rx="2.46" ry="1.68" transform="rotate(299 140.95 582.40)" fill="#2446ea" opacity="0.95"/>
<ellipse cx="145.13" cy="589.82" rx="2.15" ry="1.46" transform="rotate(214 145.13 589.82)" fill="#2446ea" opacity="0.95"/>
<ellipse cx="170.63" cy="578.76" rx="2.37" ry="1.61" transform="rotate(415 170.63 578.76)" fill="#2446ea" opacity="0.95"/>
<ellipse cx="165.65" cy="590.80" rx="2.42" ry="1.65" transform="rotate(104 165.65 590.80)" fill="#2446ea" opacity="0.95"/>
<ellipse cx="158.11" cy="569.16" rx="2.29" ry="1.56" transform="rotate(378 158.11 569.16)" fill="#2446ea" opacity="0.95"/>
<ellipse cx="165.30" cy="596.52" rx="2.44" ry="1.67" transform="rotate(165 165.30 596.52)" fill="#2446ea" opacity="0.95"/>
<ellipse cx="158.79" cy="595.16" rx="2.28" ry="1.56" transform="rotate(174 158.79 595.16)" fill="#2446ea" opacity="0.95"/>
<ellipse cx="154.71" cy="567.10" rx="2.21" ry="1.51" transform="rotate(361 154.71 567.10)" fill="#2446ea" opacity="0.95"/>
<ellipse cx="150.36" cy="596.65" rx="2.00" ry="1.36" transform="rotate(175 150.36 596.65)" fill="#2446ea" opacity="0.95"/>
<ellipse cx="138.28" cy="589.39" rx="2.14" ry="1.46" transform="rotate(260 138.28 589.39)" fill="#2446ea" opacity="0.95"/>
<ellipse cx="168.52" cy="572.21" rx="2.43" ry="1.66" transform="rotate(407 168.52 572.21)" fill="#2446ea" opacity="0.95"/>
<ellipse cx="163.15" cy="571.30" rx="2.35" ry="1.60" transform="rotate(387 163.15 571.30)" fill="#2446ea" opacity="0.95"/>
<ellipse cx="170.52" cy="586.59" rx="2.42" ry="1.65" transform="rotate(117 170.52 586.59)" fill="#2446ea" opacity="0.95"/>
<ellipse cx="144.31" cy="572.31" rx="2.27" ry="1.55" transform="rotate(304 144.31 572.31)" fill="#2446ea" opacity="0.95"/>
<ellipse cx="137.74" cy="584.74" rx="2.26" ry="1.54" transform="rotate(264 137.74 584.74)" fill="#2446ea" opacity="0.95"/>
<ellipse cx="151.45" cy="570.24" rx="2.00" ry="1.36" transform="rotate(325 151.45 570.24)" fill="#2446ea" opacity="0.95"/>
<ellipse cx="144.67" cy="576.24" rx="2.39" ry="1.63" transform="rotate(293 144.67 576.24)" fill="#2446ea" opacity="0.95"/>
<ellipse cx="140.10" cy="577.50" rx="2.12" ry="1.45" transform="rotate(307 140.10 577.50)" fill="#2446ea" opacity="0.95"/>
<ellipse cx="146.14" cy="568.80" rx="2.16" ry="1.47" transform="rotate(335 146.14 568.80)" fill="#2446ea" opacity="0.95"/>
<ellipse cx="143.71" cy="596.68" rx="2.05" ry="1.40" transform="rotate(222 143.71 596.68)" fill="#2446ea" opacity="0.95"/>
<ellipse cx="143.50" cy="585.59" rx="2.50" ry="1.71" transform="rotate(252 143.50 585.59)" fill="#2446ea" opacity="0.95"/>
<ellipse cx="166.47" cy="585.98" rx="1.95" ry="1.33" transform="rotate(122 166.47 585.98)" fill="#2446ea" opacity="0.95"/>
<ellipse cx="155.95" cy="599.66" rx="2.44" ry="1.66" transform="rotate(158 155.95 599.66)" fill="#2446ea" opacity="0.95"/>
<ellipse cx="168.87" cy="582.42" rx="2.29" ry="1.56" transform="rotate(443 168.87 582.42)" fill="#2446ea" opacity="0.95"/>
<ellipse cx="162.13" cy="593.35" rx="2.27" ry="1.55" transform="rotate(150 162.13 593.35)" fill="#2446ea" opacity="0.95"/>
<ellipse cx="153.98" cy="594.88" rx="1.97" ry="1.34" transform="rotate(205 153.98 594.88)" fill="#2446ea" opacity="0.95"/>
<ellipse cx="170.13" cy="591.78" rx="2.04" ry="1.39" transform="rotate(137 170.13 591.78)" fill="#2446ea" opacity="0.95"/>
<ellipse cx="164.90" cy="576.04" rx="2.07" ry="1.41" transform="rotate(391 164.90 576.04)" fill="#2446ea" opacity="0.95"/>
<ellipse cx="141.33" cy="593.30" rx="2.40" ry="1.64" transform="rotate(234 141.33 593.30)" fill="#2446ea" opacity="0.95"/>
<ellipse cx="161.70" cy="598.18" rx="2.51" ry="1.71" transform="rotate(160 161.70 598.18)" fill="#2446ea" opacity="0.95"/>
<ellipse cx="148.09" cy="592.70" rx="2.12" ry="1.45" transform="rotate(201 148.09 592.70)" fill="#2446ea" opacity="0.95"/>
<ellipse cx="140.72" cy="573.64" rx="2.26" ry="1.54" transform="rotate(309 140.72 573.64)" fill="#2446ea" opacity="0.95"/>
<ellipse cx="152.13" cy="575.56" rx="1.72" ry="1.25" transform="rotate(364 152.13 575.56)" fill="#2a40e0" opacity="0.8"/>
<ellipse cx="163.32" cy="589.45" rx="1.76" ry="1.27" transform="rotate(139 163.32 589.45)" fill="#2a40e0" opacity="0.8"/>
<ellipse cx="156.35" cy="578.91" rx="1.67" ry="1.20" transform="rotate(377 156.35 578.91)" fill="#2a40e0" opacity="0.8"/>
<ellipse cx="153.51" cy="588.26" rx="1.64" ry="1.19" transform="rotate(219 153.51 588.26)" fill="#2a40e0" opacity="0.8"/>
<ellipse cx="154.55" cy="592.65" rx="1.95" ry="1.41" transform="rotate(206 154.55 592.65)" fill="#2a40e0" opacity="0.8"/>
<ellipse cx="144.74" cy="581.35" rx="1.58" ry="1.14" transform="rotate(300 144.74 581.35)" fill="#2a40e0" opacity="0.8"/>
<ellipse cx="159.42" cy="591.55" rx="1.88" ry="1.36" transform="rotate(176 159.42 591.55)" fill="#2a40e0" opacity="0.8"/>
<ellipse cx="157.42" cy="587.18" rx="1.84" ry="1.33" transform="rotate(151 157.42 587.18)" fill="#2a40e0" opacity="0.8"/>
<circle cx="97.5" cy="567" r="1.2" fill="#ff2020"/>
<circle cx="146" cy="582" r="1.2" fill="#ff2020"/>
<circle cx="165" cy="589" r="1.2" fill="#ff2020"/>
<circle cx="156" cy="596" r="1.2" fill="#ff2020"/>
<circle cx="114" cy="561" r="1.2" fill="#ff2020"/>
</g>
<rect x="84" y="637" width="55" height="3.8" fill="#fff"/>
</g>
<g clip-path="url(#cF2)">
<rect x="185" y="516.2" width="175.1" height="127.8" fill="#040110"/>
<g filter="url(#blur2)">
<ellipse cx="266.6" cy="638" rx="14" ry="15" fill="url(#f2bot)" />
<ellipse cx="261.9" cy="543.3" rx="24.3" ry="25.6" fill="url(#f2ring)" />
<ellipse cx="307" cy="572.3" rx="31.3" ry="28.5" fill="url(#f2big)" />
<ellipse cx="243.9" cy="574.8" rx="13" ry="11.8" fill="url(#f2solid)" />
<ellipse cx="250" cy="607.4" rx="16" ry="18.4" fill="url(#f2solid2)" />
<ellipse cx="285.3" cy="615" rx="18.7" ry="17" fill="url(#f2mix)" />
<circle cx="245.8" cy="634.1" r="2.4" fill="#c0a020"/>
<circle cx="247.58" cy="548.34" r="3.67" fill="#b83010" opacity="0.35"/>
<circle cx="275.14" cy="541.51" r="3.17" fill="#b83010" opacity="0.35"/>
<circle cx="267.77" cy="552.09" r="2.72" fill="#b83010" opacity="0.35"/>
<circle cx="258.97" cy="536.66" r="2.48" fill="#b83010" opacity="0.35"/>
<circle cx="270.83" cy="534.82" r="2.21" fill="#b83010" opacity="0.35"/>
<circle cx="266.95" cy="549.24" r="2.07" fill="#b83010" opacity="0.35"/>
<circle cx="255.21" cy="530.20" r="2.86" fill="#b83010" opacity="0.35"/>
<circle cx="268.94" cy="543.20" r="2.24" fill="#b83010" opacity="0.35"/>
<ellipse cx="267.41" cy="562.77" rx="2.20" ry="1.57" transform="rotate(152 267.41 562.77)" fill="#3a3898" opacity="0.95"/>
<ellipse cx="274.15" cy="558.10" rx="2.33" ry="1.66" transform="rotate(119 274.15 558.10)" fill="#3a3898" opacity="0.95"/>
<ellipse cx="261.02" cy="566.97" rx="2.13" ry="1.52" transform="rotate(195 261.02 566.97)" fill="#3a3898" opacity="0.95"/>
<ellipse cx="243.43" cy="553.37" rx="1.87" ry="1.34" transform="rotate(257 243.43 553.37)" fill="#3a3898" opacity="0.95"/>
<ellipse cx="240.22" cy="537.31" rx="2.12" ry="1.52" transform="rotate(302 240.22 537.31)" fill="#3a3898" opacity="0.95"/>
<ellipse cx="272.13" cy="522.47" rx="2.30" ry="1.64" transform="rotate(382 272.13 522.47)" fill="#3a3898" opacity="0.95"/>
<ellipse cx="276.70" cy="527.04" rx="1.81" ry="1.29" transform="rotate(402 276.70 527.04)" fill="#3a3898" opacity="0.95"/>
<ellipse cx="246.83" cy="530.53" rx="1.81" ry="1.29" transform="rotate(319 246.83 530.53)" fill="#3a3898" opacity="0.95"/>
<ellipse cx="278.85" cy="534.27" rx="1.92" ry="1.37" transform="rotate(426 278.85 534.27)" fill="#3a3898" opacity="0.95"/>
<ellipse cx="280.73" cy="543.26" rx="2.05" ry="1.46" transform="rotate(445 280.73 543.26)" fill="#3a3898" opacity="0.95"/>
<ellipse cx="250.45" cy="562.35" rx="2.19" ry="1.56" transform="rotate(222 250.45 562.35)" fill="#3a3898" opacity="0.95"/>
<ellipse cx="245.07" cy="534.70" rx="1.93" ry="1.38" transform="rotate(288 245.07 534.70)" fill="#3a3898" opacity="0.95"/>
<ellipse cx="243.66" cy="546.11" rx="1.83" ry="1.30" transform="rotate(276 243.66 546.11)" fill="#3a3898" opacity="0.95"/>
<ellipse cx="252.20" cy="525.28" rx="2.24" ry="1.60" transform="rotate(335 252.20 525.28)" fill="#3a3898" opacity="0.95"/>
<ellipse cx="257.23" cy="523.26" rx="1.80" ry="1.29" transform="rotate(353 257.23 523.26)" fill="#3a3898" opacity="0.95"/>
<ellipse cx="263.52" cy="520.21" rx="2.19" ry="1.56" transform="rotate(343 263.52 520.21)" fill="#3a3898" opacity="0.95"/>
<ellipse cx="240.98" cy="541.35" rx="2.18" ry="1.56" transform="rotate(289 240.98 541.35)" fill="#3a3898" opacity="0.95"/>
<ellipse cx="283.58" cy="547.84" rx="2.23" ry="1.59" transform="rotate(125 283.58 547.84)" fill="#3a3898" opacity="0.95"/>
<ellipse cx="275.42" cy="562.28" rx="2.39" ry="1.71" transform="rotate(139 275.42 562.28)" fill="#3a3898" opacity="0.95"/>
<ellipse cx="260.77" cy="562.50" rx="1.86" ry="1.33" transform="rotate(170 260.77 562.50)" fill="#3a3898" opacity="0.95"/>
<ellipse cx="267.58" cy="520.80" rx="1.80" ry="1.29" transform="rotate(369 267.58 520.80)" fill="#3a3898" opacity="0.95"/>
<ellipse cx="248.86" cy="555.76" rx="2.12" ry="1.52" transform="rotate(231 248.86 555.76)" fill="#3a3898" opacity="0.95"/>
<ellipse cx="239.56" cy="545.74" rx="2.17" ry="1.55" transform="rotate(249 239.56 545.74)" fill="#3a3898" opacity="0.95"/>
<ellipse cx="255.35" cy="565.79" rx="2.23" ry="1.59" transform="rotate(196 255.35 565.79)" fill="#3a3898" opacity="0.95"/>
<ellipse cx="282.48" cy="536.89" rx="2.29" ry="1.63" transform="rotate(448 282.48 536.89)" fill="#3a3898" opacity="0.95"/>
<ellipse cx="277.51" cy="555.86" rx="1.85" ry="1.32" transform="rotate(137 277.51 555.86)" fill="#3a3898" opacity="0.95"/>
<ellipse cx="247.96" cy="526.34" rx="2.21" ry="1.58" transform="rotate(323 247.96 526.34)" fill="#3a3898" opacity="0.95"/>
<ellipse cx="281.05" cy="551.46" rx="2.02" ry="1.44" transform="rotate(97 281.05 551.46)" fill="#3a3898" opacity="0.95"/>
<ellipse cx="271.74" cy="564.18" rx="1.96" ry="1.40" transform="rotate(155 271.74 564.18)" fill="#3a3898" opacity="0.95"/>
<ellipse cx="272.12" cy="527.42" rx="1.97" ry="1.40" transform="rotate(373 272.12 527.42)" fill="#3a3898" opacity="0.95"/>
<ellipse cx="250.50" cy="550.51" rx="1.69" ry="1.32" transform="rotate(220 250.50 550.51)" fill="#3a2a8a" opacity="0.85"/>
<ellipse cx="275.73" cy="541.99" rx="1.65" ry="1.28" transform="rotate(468 275.73 541.99)" fill="#3a2a8a" opacity="0.85"/>
<ellipse cx="273.57" cy="533.47" rx="2.00" ry="1.55" transform="rotate(410 273.57 533.47)" fill="#3a2a8a" opacity="0.85"/>
<ellipse cx="249.99" cy="542.35" rx="1.54" ry="1.20" transform="rotate(255 249.99 542.35)" fill="#3a2a8a" opacity="0.85"/>
<ellipse cx="266.57" cy="535.11" rx="1.87" ry="1.45" transform="rotate(396 266.57 535.11)" fill="#3a2a8a" opacity="0.85"/>
<ellipse cx="257.88" cy="539.81" rx="1.98" ry="1.54" transform="rotate(286 257.88 539.81)" fill="#3a2a8a" opacity="0.85"/>
<ellipse cx="271.17" cy="539.25" rx="1.85" ry="1.44" transform="rotate(441 271.17 539.25)" fill="#3a2a8a" opacity="0.85"/>
<ellipse cx="254.74" cy="545.31" rx="2.03" ry="1.58" transform="rotate(242 254.74 545.31)" fill="#3a2a8a" opacity="0.85"/>
<ellipse cx="258.99" cy="556.32" rx="2.07" ry="1.61" transform="rotate(179 258.99 556.32)" fill="#3a2a8a" opacity="0.85"/>
<ellipse cx="251.74" cy="533.32" rx="2.02" ry="1.57" transform="rotate(316 251.74 533.32)" fill="#3a2a8a" opacity="0.85"/>
<ellipse cx="265.20" cy="542.62" rx="1.86" ry="1.44" transform="rotate(441 265.20 542.62)" fill="#3a2a8a" opacity="0.85"/>
<ellipse cx="255.23" cy="536.26" rx="1.77" ry="1.37" transform="rotate(337 255.23 536.26)" fill="#3a2a8a" opacity="0.85"/>
<ellipse cx="295.70" cy="596.85" rx="2.00" ry="1.41" transform="rotate(202 295.70 596.85)" fill="#3a3898" opacity="0.95"/>
<ellipse cx="331.04" cy="571.51" rx="2.00" ry="1.41" transform="rotate(465 331.04 571.51)" fill="#3a3898" opacity="0.95"/>
<ellipse cx="324.72" cy="552.49" rx="2.19" ry="1.54" transform="rotate(374 324.72 552.49)" fill="#3a3898" opacity="0.95"/>
<ellipse cx="313.14" cy="594.15" rx="2.53" ry="1.78" transform="rotate(187 313.14 594.15)" fill="#3a3898" opacity="0.95"/>
<ellipse cx="333.62" cy="581.55" rx="1.90" ry="1.34" transform="rotate(112 333.62 581.55)" fill="#3a3898" opacity="0.95"/>
<ellipse cx="315.27" cy="546.66" rx="2.16" ry="1.52" transform="rotate(375 315.27 546.66)" fill="#3a3898" opacity="0.95"/>
<ellipse cx="328.57" cy="589.04" rx="2.12" ry="1.49" transform="rotate(138 328.57 589.04)" fill="#3a3898" opacity="0.95"/>
<ellipse cx="327.75" cy="583.17" rx="2.43" ry="1.72" transform="rotate(115 327.75 583.17)" fill="#3a3898" opacity="0.95"/>
<ellipse cx="320.70" cy="554.20" rx="2.04" ry="1.43" transform="rotate(409 320.70 554.20)" fill="#3a3898" opacity="0.95"/>
<ellipse cx="304.54" cy="545.67" rx="1.90" ry="1.34" transform="rotate(357 304.54 545.67)" fill="#3a3898" opacity="0.95"/>
<ellipse cx="281.16" cy="574.87" rx="1.88" ry="1.32" transform="rotate(264 281.16 574.87)" fill="#3a3898" opacity="0.95"/>
<ellipse cx="328.60" cy="557.07" rx="2.13" ry="1.50" transform="rotate(419 328.60 557.07)" fill="#3a3898" opacity="0.95"/>
<ellipse cx="284.85" cy="579.39" rx="2.20" ry="1.55" transform="rotate(272 284.85 579.39)" fill="#3a3898" opacity="0.95"/>
<ellipse cx="324.78" cy="591.57" rx="2.37" ry="1.67" transform="rotate(123 324.78 591.57)" fill="#3a3898" opacity="0.95"/>
<ellipse cx="303.74" cy="595.88" rx="2.24" ry="1.58" transform="rotate(182 303.74 595.88)" fill="#3a3898" opacity="0.95"/>
<ellipse cx="319.92" cy="590.44" rx="2.13" ry="1.50" transform="rotate(158 319.92 590.44)" fill="#3a3898" opacity="0.95"/>
<ellipse cx="300.05" cy="547.06" rx="1.90" ry="1.34" transform="rotate(347 300.05 547.06)" fill="#3a3898" opacity="0.95"/>
<ellipse cx="304.61" cy="550.58" rx="1.92" ry="1.35" transform="rotate(345 304.61 550.58)" fill="#3a3898" opacity="0.95"/>
<ellipse cx="335.80" cy="574.73" rx="2.19" ry="1.54" transform="rotate(95 335.80 574.73)" fill="#3a3898" opacity="0.95"/>
<ellipse cx="320.49" cy="595.35" rx="2.11" ry="1.49" transform="rotate(138 320.49 595.35)" fill="#3a3898" opacity="0.95"/>
<ellipse cx="331.54" cy="564.55" rx="2.50" ry="1.76" transform="rotate(406 331.54 564.55)" fill="#3a3898" opacity="0.95"/>
<ellipse cx="283.69" cy="568.51" rx="2.08" ry="1.46" transform="rotate(298 283.69 568.51)" fill="#3a3898" opacity="0.95"/>
<ellipse cx="289.17" cy="556.42" rx="2.35" ry="1.66" transform="rotate(339 289.17 556.42)" fill="#3a3898" opacity="0.95"/>
<ellipse cx="309.44" cy="549.63" rx="2.07" ry="1.46" transform="rotate(366 309.44 549.63)" fill="#3a3898" opacity="0.95"/>
<ellipse cx="297.46" cy="592.68" rx="2.42" ry="1.70" transform="rotate(213 297.46 592.68)" fill="#3a3898" opacity="0.95"/>
<ellipse cx="283.51" cy="562.95" rx="2.17" ry="1.53" transform="rotate(308 283.51 562.95)" fill="#3a3898" opacity="0.95"/>
<ellipse cx="277.83" cy="572.04" rx="2.01" ry="1.42" transform="rotate(289 277.83 572.04)" fill="#3a3898" opacity="0.95"/>
<ellipse cx="292.04" cy="593.05" rx="2.52" ry="1.77" transform="rotate(228 292.04 593.05)" fill="#3a3898" opacity="0.95"/>
<ellipse cx="279.30" cy="581.02" rx="1.98" ry="1.39" transform="rotate(228 279.30 581.02)" fill="#3a3898" opacity="0.95"/>
<ellipse cx="289.13" cy="590.13" rx="2.32" ry="1.63" transform="rotate(231 289.13 590.13)" fill="#3a3898" opacity="0.95"/>
<ellipse cx="295.19" cy="549.73" rx="1.88" ry="1.33" transform="rotate(317 295.19 549.73)" fill="#3a3898" opacity="0.95"/>
<ellipse cx="308.79" cy="598.60" rx="2.52" ry="1.78" transform="rotate(198 308.79 598.60)" fill="#3a3898" opacity="0.95"/>
<ellipse cx="327.66" cy="561.43" rx="1.91" ry="1.35" transform="rotate(441 327.66 561.43)" fill="#3a3898" opacity="0.95"/>
<ellipse cx="317.11" cy="552.25" rx="2.16" ry="1.52" transform="rotate(397 317.11 552.25)" fill="#3a3898" opacity="0.95"/>
<ellipse cx="315.91" cy="597.35" rx="2.07" ry="1.46" transform="rotate(155 315.91 597.35)" fill="#3a3898" opacity="0.95"/>
<ellipse cx="331.35" cy="586.09" rx="2.13" ry="1.50" transform="rotate(132 331.35 586.09)" fill="#3a3898" opacity="0.95"/>
<ellipse cx="279.71" cy="565.73" rx="1.89" ry="1.33" transform="rotate(268 279.71 565.73)" fill="#3a3898" opacity="0.95"/>
<ellipse cx="282.59" cy="557.81" rx="2.15" ry="1.51" transform="rotate(281 282.59 557.81)" fill="#3a3898" opacity="0.95"/>
<ellipse cx="282.13" cy="583.95" rx="2.25" ry="1.58" transform="rotate(254 282.13 583.95)" fill="#3a3898" opacity="0.95"/>
<ellipse cx="308.62" cy="594.14" rx="2.45" ry="1.73" transform="rotate(199 308.62 594.14)" fill="#3a3898" opacity="0.95"/>
<ellipse cx="290.07" cy="550.41" rx="2.23" ry="1.57" transform="rotate(345 290.07 550.41)" fill="#3a3898" opacity="0.95"/>
<ellipse cx="319.32" cy="548.20" rx="2.33" ry="1.64" transform="rotate(386 319.32 548.20)" fill="#3a3898" opacity="0.95"/>
<ellipse cx="330.36" cy="575.90" rx="1.98" ry="1.40" transform="rotate(106 330.36 575.90)" fill="#3a3898" opacity="0.95"/>
<ellipse cx="335.15" cy="570.77" rx="2.17" ry="1.53" transform="rotate(449 335.15 570.77)" fill="#3a3898" opacity="0.95"/>
<ellipse cx="287.02" cy="572.92" rx="1.96" ry="1.39" transform="rotate(248 287.02 572.92)" fill="#4a2a80" opacity="0.7"/>
<ellipse cx="300.04" cy="587.55" rx="1.67" ry="1.18" transform="rotate(216 300.04 587.55)" fill="#4a2a80" opacity="0.7"/>
<ellipse cx="328.33" cy="571.87" rx="2.08" ry="1.48" transform="rotate(433 328.33 571.87)" fill="#4a2a80" opacity="0.7"/>
<ellipse cx="302.87" cy="591.71" rx="1.95" ry="1.39" transform="rotate(178 302.87 591.71)" fill="#4a2a80" opacity="0.7"/>
<ellipse cx="311.12" cy="555.28" rx="2.08" ry="1.48" transform="rotate(357 311.12 555.28)" fill="#4a2a80" opacity="0.7"/>
<ellipse cx="325.97" cy="561.46" rx="1.67" ry="1.18" transform="rotate(422 325.97 561.46)" fill="#4a2a80" opacity="0.7"/>
<ellipse cx="291.80" cy="557.30" rx="2.00" ry="1.42" transform="rotate(309 291.80 557.30)" fill="#4a2a80" opacity="0.7"/>
<ellipse cx="326.23" cy="578.23" rx="1.69" ry="1.20" transform="rotate(96 326.23 578.23)" fill="#4a2a80" opacity="0.7"/>
<ellipse cx="288.14" cy="562.17" rx="1.63" ry="1.16" transform="rotate(295 288.14 562.17)" fill="#4a2a80" opacity="0.7"/>
<ellipse cx="317.02" cy="586.07" rx="1.68" ry="1.19" transform="rotate(124 317.02 586.07)" fill="#4a2a80" opacity="0.7"/>
<ellipse cx="240.73" cy="583.74" rx="2.12" ry="1.56" transform="rotate(143 240.73 583.74)" fill="#3a3898" opacity="0.95"/>
<ellipse cx="249.61" cy="570.73" rx="1.69" ry="1.25" transform="rotate(97 249.61 570.73)" fill="#3a3898" opacity="0.95"/>
<ellipse cx="243.24" cy="565.38" rx="1.84" ry="1.35" transform="rotate(60 243.24 565.38)" fill="#3a3898" opacity="0.95"/>
<ellipse cx="243.84" cy="572.37" rx="1.95" ry="1.44" transform="rotate(3 243.84 572.37)" fill="#3a3898" opacity="0.95"/>
<ellipse cx="248.96" cy="566.92" rx="2.14" ry="1.58" transform="rotate(132 248.96 566.92)" fill="#3a3898" opacity="0.95"/>
<ellipse cx="235.51" cy="572.14" rx="2.09" ry="1.54" transform="rotate(134 235.51 572.14)" fill="#3a3898" opacity="0.95"/>
<ellipse cx="252.32" cy="580.45" rx="1.89" ry="1.39" transform="rotate(77 252.32 580.45)" fill="#3a3898" opacity="0.95"/>
<ellipse cx="240.18" cy="576.98" rx="2.02" ry="1.49" transform="rotate(60 240.18 576.98)" fill="#3a3898" opacity="0.95"/>
<ellipse cx="245.09" cy="579.56" rx="2.16" ry="1.59" transform="rotate(19 245.09 579.56)" fill="#3a3898" opacity="0.95"/>
<ellipse cx="239.15" cy="567.39" rx="1.86" ry="1.37" transform="rotate(28 239.15 567.39)" fill="#3a3898" opacity="0.95"/>
<ellipse cx="254.84" cy="576.06" rx="1.87" ry="1.38" transform="rotate(162 254.84 576.06)" fill="#3a3898" opacity="0.95"/>
<ellipse cx="247.08" cy="584.47" rx="1.75" ry="1.29" transform="rotate(108 247.08 584.47)" fill="#3a3898" opacity="0.95"/>
<ellipse cx="233.53" cy="578.70" rx="1.63" ry="1.20" transform="rotate(110 233.53 578.70)" fill="#3a3898" opacity="0.95"/>
<ellipse cx="250.65" cy="574.56" rx="2.03" ry="1.50" transform="rotate(72 250.65 574.56)" fill="#3a3898" opacity="0.95"/>
<ellipse cx="236.49" cy="575.99" rx="1.96" ry="1.44" transform="rotate(25 236.49 575.99)" fill="#3a3898" opacity="0.95"/>
<ellipse cx="237.39" cy="581.56" rx="2.17" ry="1.60" transform="rotate(47 237.39 581.56)" fill="#3a3898" opacity="0.95"/>
<ellipse cx="245.95" cy="575.31" rx="1.85" ry="1.36" transform="rotate(133 245.95 575.31)" fill="#3a3898" opacity="0.95"/>
<ellipse cx="240.06" cy="571.38" rx="2.11" ry="1.56" transform="rotate(54 240.06 571.38)" fill="#3a3898" opacity="0.95"/>
<ellipse cx="249.47" cy="600.92" rx="2.21" ry="1.68" transform="rotate(-8 249.47 600.92)" fill="#3430aa" opacity="0.95"/>
<ellipse cx="263.40" cy="607.17" rx="2.00" ry="1.52" transform="rotate(114 263.40 607.17)" fill="#3430aa" opacity="0.95"/>
<ellipse cx="252.37" cy="612.52" rx="2.01" ry="1.53" transform="rotate(199 252.37 612.52)" fill="#3430aa" opacity="0.95"/>
<ellipse cx="252.17" cy="595.59" rx="2.20" ry="1.68" transform="rotate(150 252.17 595.59)" fill="#3430aa" opacity="0.95"/>
<ellipse cx="256.04" cy="606.90" rx="2.15" ry="1.64" transform="rotate(97 256.04 606.90)" fill="#3430aa" opacity="0.95"/>
<ellipse cx="245.15" cy="614.09" rx="1.82" ry="1.39" transform="rotate(142 245.15 614.09)" fill="#3430aa" opacity="0.95"/>
<ellipse cx="257.30" cy="595.95" rx="1.96" ry="1.49" transform="rotate(-2 257.30 595.95)" fill="#3430aa" opacity="0.95"/>
<ellipse cx="248.92" cy="617.64" rx="2.01" ry="1.53" transform="rotate(186 248.92 617.64)" fill="#3430aa" opacity="0.95"/>
<ellipse cx="258.98" cy="616.41" rx="2.09" ry="1.59" transform="rotate(105 258.98 616.41)" fill="#3430aa" opacity="0.95"/>
<ellipse cx="241.77" cy="600.08" rx="2.26" ry="1.72" transform="rotate(84 241.77 600.08)" fill="#3430aa" opacity="0.95"/>
<ellipse cx="236.87" cy="606.22" rx="2.38" ry="1.81" transform="rotate(16 236.87 606.22)" fill="#3430aa" opacity="0.95"/>
<ellipse cx="239.88" cy="615.84" rx="1.82" ry="1.38" transform="rotate(51 239.88 615.84)" fill="#3430aa" opacity="0.95"/>
<ellipse cx="253.34" cy="619.72" rx="2.13" ry="1.62" transform="rotate(90 253.34 619.72)" fill="#3430aa" opacity="0.95"/>
<ellipse cx="246.50" cy="595.38" rx="2.17" ry="1.65" transform="rotate(120 246.50 595.38)" fill="#3430aa" opacity="0.95"/>
<ellipse cx="262.58" cy="601.94" rx="2.11" ry="1.61" transform="rotate(111 262.58 601.94)" fill="#3430aa" opacity="0.95"/>
<ellipse cx="288.81" cy="627.63" rx="1.82" ry="1.36" transform="rotate(162 288.81 627.63)" fill="#3a3898" opacity="0.95"/>
<ellipse cx="277.57" cy="601.26" rx="1.99" ry="1.49" transform="rotate(330 277.57 601.26)" fill="#3a3898" opacity="0.95"/>
<ellipse cx="295.81" cy="622.46" rx="2.11" ry="1.58" transform="rotate(130 295.81 622.46)" fill="#3a3898" opacity="0.95"/>
<ellipse cx="269.11" cy="619.67" rx="1.73" ry="1.30" transform="rotate(274 269.11 619.67)" fill="#3a3898" opacity="0.95"/>
<ellipse cx="295.61" cy="606.25" rx="1.85" ry="1.38" transform="rotate(389 295.61 606.25)" fill="#3a3898" opacity="0.95"/>
<ellipse cx="275.12" cy="607.03" rx="1.91" ry="1.43" transform="rotate(304 275.12 607.03)" fill="#3a3898" opacity="0.95"/>
<ellipse cx="289.89" cy="603.54" rx="1.81" ry="1.36" transform="rotate(356 289.89 603.54)" fill="#3a3898" opacity="0.95"/>
<ellipse cx="299.06" cy="610.34" rx="2.03" ry="1.52" transform="rotate(415 299.06 610.34)" fill="#3a3898" opacity="0.95"/>
<ellipse cx="279.93" cy="627.37" rx="2.21" ry="1.65" transform="rotate(192 279.93 627.37)" fill="#3a3898" opacity="0.95"/>
<ellipse cx="286.07" cy="600.96" rx="2.12" ry="1.59" transform="rotate(338 286.07 600.96)" fill="#3a3898" opacity="0.95"/>
<ellipse cx="284.85" cy="628.75" rx="2.18" ry="1.63" transform="rotate(175 284.85 628.75)" fill="#3a3898" opacity="0.95"/>
<ellipse cx="270.47" cy="612.15" rx="2.26" ry="1.69" transform="rotate(268 270.47 612.15)" fill="#3a3898" opacity="0.95"/>
<ellipse cx="298.91" cy="618.36" rx="1.79" ry="1.34" transform="rotate(90 298.91 618.36)" fill="#3a3898" opacity="0.95"/>
<ellipse cx="298.82" cy="614.34" rx="2.11" ry="1.58" transform="rotate(467 298.82 614.34)" fill="#3a3898" opacity="0.95"/>
<ellipse cx="271.74" cy="616.27" rx="1.96" ry="1.47" transform="rotate(278 271.74 616.27)" fill="#3a3898" opacity="0.95"/>
<ellipse cx="281.54" cy="601.01" rx="2.24" ry="1.68" transform="rotate(367 281.54 601.01)" fill="#3a3898" opacity="0.95"/>
<ellipse cx="274.45" cy="621.98" rx="2.18" ry="1.64" transform="rotate(251 274.45 621.98)" fill="#3a3898" opacity="0.95"/>
<ellipse cx="273.35" cy="626.13" rx="1.79" ry="1.34" transform="rotate(246 273.35 626.13)" fill="#3a3898" opacity="0.95"/>
<ellipse cx="292.22" cy="625.18" rx="1.79" ry="1.35" transform="rotate(165 292.22 625.18)" fill="#3a3898" opacity="0.95"/>
<ellipse cx="295.88" cy="626.45" rx="1.86" ry="1.40" transform="rotate(148 295.88 626.45)" fill="#3a3898" opacity="0.95"/>
<ellipse cx="277.19" cy="624.64" rx="1.86" ry="1.40" transform="rotate(212 277.19 624.64)" fill="#3a3898" opacity="0.95"/>
<ellipse cx="271.23" cy="606.16" rx="2.02" ry="1.51" transform="rotate(286 271.23 606.16)" fill="#3a3898" opacity="0.95"/>
<ellipse cx="274.31" cy="603.28" rx="1.91" ry="1.44" transform="rotate(338 274.31 603.28)" fill="#3a3898" opacity="0.95"/>
<ellipse cx="294.01" cy="602.03" rx="2.18" ry="1.64" transform="rotate(375 294.01 602.03)" fill="#3a3898" opacity="0.95"/>
<ellipse cx="285.04" cy="618.64" rx="1.90" ry="1.37" transform="rotate(209 285.04 618.64)" fill="#5a3a80" opacity="0.6"/>
<ellipse cx="294.29" cy="617.61" rx="2.01" ry="1.46" transform="rotate(103 294.29 617.61)" fill="#5a3a80" opacity="0.6"/>
<ellipse cx="294.37" cy="612.88" rx="1.74" ry="1.26" transform="rotate(455 294.37 612.88)" fill="#5a3a80" opacity="0.6"/>
<ellipse cx="276.83" cy="611.09" rx="1.61" ry="1.17" transform="rotate(293 276.83 611.09)" fill="#5a3a80" opacity="0.6"/>
<ellipse cx="285.45" cy="604.84" rx="1.91" ry="1.38" transform="rotate(383 285.45 604.84)" fill="#5a3a80" opacity="0.6"/>
<ellipse cx="282.21" cy="611.78" rx="1.65" ry="1.19" transform="rotate(327 282.21 611.78)" fill="#5a3a80" opacity="0.6"/>
<ellipse cx="266.35" cy="625.43" rx="1.99" ry="1.64" transform="rotate(48 266.35 625.43)" fill="#2c2890" opacity="0.95"/>
<ellipse cx="271.09" cy="629.39" rx="2.59" ry="2.14" transform="rotate(136 271.09 629.39)" fill="#2c2890" opacity="0.95"/>
<ellipse cx="273.32" cy="637.71" rx="1.99" ry="1.65" transform="rotate(154 273.32 637.71)" fill="#2c2890" opacity="0.95"/>
<ellipse cx="258.54" cy="638.24" rx="2.47" ry="2.04" transform="rotate(128 258.54 638.24)" fill="#2c2890" opacity="0.95"/>
<ellipse cx="266.52" cy="630.29" rx="2.51" ry="2.07" transform="rotate(53 266.52 630.29)" fill="#2c2890" opacity="0.95"/>
<ellipse cx="259.04" cy="632.02" rx="2.03" ry="1.68" transform="rotate(97 259.04 632.02)" fill="#2c2890" opacity="0.95"/>
<ellipse cx="262" cy="639" rx="5" ry="4" fill="#2a2488" />
</g>
<rect x="303.6" y="632" width="54.6" height="5.8" fill="#fff"/>
</g>
<g clip-path="url(#cF3)">
<rect x="365" y="516.2" width="175" height="127.8" fill="#040110"/>
<g filter="url(#blur2)">
<ellipse cx="482.7" cy="551.3" rx="21.7" ry="31.3" fill="url(#f3big)" transform="rotate(-8 482.7 551.3)" />
<ellipse cx="451" cy="582.7" rx="17.3" ry="22.5" fill="url(#f3mid)" transform="rotate(-10 451 582.7)" />
<ellipse cx="420.9" cy="589.5" rx="13.6" ry="12.4" fill="url(#f3yel)" />
<ellipse cx="420.5" cy="627" rx="16" ry="16.6" fill="url(#f3yel2)" />
<circle cx="475.96" cy="530.07" r="2.43" fill="#e8c030" opacity="0.55"/>
<circle cx="498.87" cy="537.52" r="2.85" fill="#e8c030" opacity="0.55"/>
<circle cx="469.87" cy="560.77" r="2.96" fill="#e8c030" opacity="0.55"/>
<circle cx="500.38" cy="552.72" r="1.52" fill="#e8c030" opacity="0.55"/>
<circle cx="477.31" cy="532.22" r="2.56" fill="#e8c030" opacity="0.55"/>
<circle cx="469.81" cy="563.85" r="2.30" fill="#e8c030" opacity="0.55"/>
<circle cx="465.81" cy="558.08" r="2.46" fill="#e8c030" opacity="0.55"/>
<circle cx="466.14" cy="561.52" r="1.85" fill="#e8c030" opacity="0.55"/>
<circle cx="489.26" cy="577.59" r="2.16" fill="#e8c030" opacity="0.55"/>
<circle cx="465.53" cy="556.71" r="2.13" fill="#e8c030" opacity="0.55"/>
<ellipse cx="468.71" cy="568.52" rx="2.19" ry="1.69" transform="rotate(164 468.71 568.52)" fill="#4632b8" opacity="0.95"/>
<ellipse cx="480.92" cy="570.47" rx="2.08" ry="1.61" transform="rotate(120 480.92 570.47)" fill="#4632b8" opacity="0.95"/>
<ellipse cx="494.70" cy="554.48" rx="2.16" ry="1.67" transform="rotate(140 494.70 554.48)" fill="#4632b8" opacity="0.95"/>
<ellipse cx="485.32" cy="569.68" rx="1.92" ry="1.48" transform="rotate(40 485.32 569.68)" fill="#4632b8" opacity="0.95"/>
<ellipse cx="490.66" cy="563.92" rx="2.40" ry="1.86" transform="rotate(130 490.66 563.92)" fill="#4632b8" opacity="0.95"/>
<ellipse cx="467.59" cy="558.14" rx="2.26" ry="1.74" transform="rotate(152 467.59 558.14)" fill="#4632b8" opacity="0.95"/>
<ellipse cx="471.71" cy="536.91" rx="2.15" ry="1.66" transform="rotate(25 471.71 536.91)" fill="#4632b8" opacity="0.95"/>
<ellipse cx="471.30" cy="563.02" rx="2.14" ry="1.65" transform="rotate(-5 471.30 563.02)" fill="#4632b8" opacity="0.95"/>
<ellipse cx="500.33" cy="546.53" rx="2.11" ry="1.63" transform="rotate(150 500.33 546.53)" fill="#4632b8" opacity="0.95"/>
<ellipse cx="485.89" cy="540.96" rx="2.11" ry="1.63" transform="rotate(187 485.89 540.96)" fill="#4632b8" opacity="0.95"/>
<ellipse cx="488.89" cy="573.30" rx="1.92" ry="1.48" transform="rotate(95 488.89 573.30)" fill="#4632b8" opacity="0.95"/>
<ellipse cx="489.90" cy="535.55" rx="2.43" ry="1.88" transform="rotate(154 489.90 535.55)" fill="#4632b8" opacity="0.95"/>
<ellipse cx="485.82" cy="529.66" rx="2.43" ry="1.88" transform="rotate(109 485.82 529.66)" fill="#4632b8" opacity="0.95"/>
<ellipse cx="492.05" cy="540.27" rx="2.24" ry="1.73" transform="rotate(122 492.05 540.27)" fill="#4632b8" opacity="0.95"/>
<ellipse cx="490.24" cy="559.70" rx="2.13" ry="1.64" transform="rotate(98 490.24 559.70)" fill="#4632b8" opacity="0.95"/>
<ellipse cx="465.71" cy="543.06" rx="2.24" ry="1.73" transform="rotate(70 465.71 543.06)" fill="#4632b8" opacity="0.95"/>
<ellipse cx="499.56" cy="552.42" rx="1.89" ry="1.46" transform="rotate(154 499.56 552.42)" fill="#4632b8" opacity="0.95"/>
<ellipse cx="465.47" cy="553.56" rx="2.23" ry="1.73" transform="rotate(13 465.47 553.56)" fill="#4632b8" opacity="0.95"/>
<ellipse cx="479.63" cy="578.59" rx="1.92" ry="1.48" transform="rotate(1 479.63 578.59)" fill="#4632b8" opacity="0.95"/>
<ellipse cx="478.84" cy="561.97" rx="2.33" ry="1.80" transform="rotate(39 478.84 561.97)" fill="#4632b8" opacity="0.95"/>
<ellipse cx="476.35" cy="536.12" rx="2.08" ry="1.60" transform="rotate(90 476.35 536.12)" fill="#4632b8" opacity="0.95"/>
<ellipse cx="497.85" cy="564.47" rx="2.15" ry="1.66" transform="rotate(96 497.85 564.47)" fill="#4632b8" opacity="0.95"/>
<ellipse cx="479.53" cy="540.26" rx="1.92" ry="1.48" transform="rotate(43 479.53 540.26)" fill="#4632b8" opacity="0.95"/>
<ellipse cx="473.44" cy="572.51" rx="2.36" ry="1.82" transform="rotate(144 473.44 572.51)" fill="#4632b8" opacity="0.95"/>
<ellipse cx="465.40" cy="534.53" rx="1.96" ry="1.52" transform="rotate(109 465.40 534.53)" fill="#4632b8" opacity="0.95"/>
<ellipse cx="474.81" cy="544.10" rx="2.27" ry="1.75" transform="rotate(121 474.81 544.10)" fill="#4632b8" opacity="0.95"/>
<ellipse cx="494.14" cy="549.60" rx="2.34" ry="1.81" transform="rotate(83 494.14 549.60)" fill="#4632b8" opacity="0.95"/>
<ellipse cx="496.76" cy="570.69" rx="2.26" ry="1.75" transform="rotate(142 496.76 570.69)" fill="#4632b8" opacity="0.95"/>
<ellipse cx="474.54" cy="568.23" rx="1.88" ry="1.45" transform="rotate(-10 474.54 568.23)" fill="#4632b8" opacity="0.95"/>
<ellipse cx="498.40" cy="542.28" rx="2.00" ry="1.54" transform="rotate(62 498.40 542.28)" fill="#4632b8" opacity="0.95"/>
<ellipse cx="473.18" cy="525.63" rx="1.94" ry="1.50" transform="rotate(24 473.18 525.63)" fill="#4632b8" opacity="0.95"/>
<ellipse cx="492.00" cy="527.34" rx="2.31" ry="1.79" transform="rotate(112 492.00 527.34)" fill="#4632b8" opacity="0.95"/>
<ellipse cx="483.51" cy="535.27" rx="2.21" ry="1.71" transform="rotate(110 483.51 535.27)" fill="#4632b8" opacity="0.95"/>
<ellipse cx="470.78" cy="548.88" rx="1.90" ry="1.47" transform="rotate(192 470.78 548.88)" fill="#4632b8" opacity="0.95"/>
<ellipse cx="472.90" cy="557.82" rx="1.99" ry="1.54" transform="rotate(43 472.90 557.82)" fill="#4632b8" opacity="0.95"/>
<ellipse cx="493.41" cy="576.63" rx="1.95" ry="1.51" transform="rotate(16 493.41 576.63)" fill="#4632b8" opacity="0.95"/>
<ellipse cx="489.36" cy="546.00" rx="2.45" ry="1.89" transform="rotate(84 489.36 546.00)" fill="#4632b8" opacity="0.95"/>
<ellipse cx="491.47" cy="570.29" rx="2.03" ry="1.57" transform="rotate(159 491.47 570.29)" fill="#4632b8" opacity="0.95"/>
<ellipse cx="487.70" cy="578.77" rx="2.08" ry="1.61" transform="rotate(89 487.70 578.77)" fill="#4632b8" opacity="0.95"/>
<ellipse cx="473.20" cy="531.49" rx="2.12" ry="1.64" transform="rotate(18 473.20 531.49)" fill="#4632b8" opacity="0.95"/>
<ellipse cx="481.68" cy="527.62" rx="2.11" ry="1.63" transform="rotate(38 481.68 527.62)" fill="#4632b8" opacity="0.95"/>
<ellipse cx="487.13" cy="565.78" rx="2.29" ry="1.77" transform="rotate(61 487.13 565.78)" fill="#4632b8" opacity="0.95"/>
<ellipse cx="478.06" cy="549.13" rx="2.42" ry="1.87" transform="rotate(12 478.06 549.13)" fill="#4632b8" opacity="0.95"/>
<ellipse cx="489.80" cy="555.66" rx="2.23" ry="1.72" transform="rotate(162 489.80 555.66)" fill="#4632b8" opacity="0.95"/>
<ellipse cx="480.81" cy="556.92" rx="2.29" ry="1.77" transform="rotate(43 480.81 556.92)" fill="#4632b8" opacity="0.95"/>
<ellipse cx="483.35" cy="560.64" rx="2.28" ry="1.76" transform="rotate(60 483.35 560.64)" fill="#4632b8" opacity="0.95"/>
<ellipse cx="480.30" cy="544.89" rx="1.92" ry="1.48" transform="rotate(100 480.30 544.89)" fill="#4632b8" opacity="0.95"/>
<ellipse cx="485.63" cy="547.89" rx="1.97" ry="1.52" transform="rotate(149 485.63 547.89)" fill="#4632b8" opacity="0.95"/>
<ellipse cx="469.44" cy="544.31" rx="2.23" ry="1.72" transform="rotate(95 469.44 544.31)" fill="#4632b8" opacity="0.95"/>
<ellipse cx="495.27" cy="537.24" rx="2.03" ry="1.57" transform="rotate(39 495.27 537.24)" fill="#4632b8" opacity="0.95"/>
<ellipse cx="502.98" cy="554.67" rx="2.50" ry="1.93" transform="rotate(138 502.98 554.67)" fill="#4632b8" opacity="0.95"/>
<ellipse cx="467.01" cy="562.93" rx="2.05" ry="1.59" transform="rotate(188 467.01 562.93)" fill="#4632b8" opacity="0.95"/>
<ellipse cx="483.04" cy="564.76" rx="1.88" ry="1.45" transform="rotate(20 483.04 564.76)" fill="#4632b8" opacity="0.95"/>
<ellipse cx="467.10" cy="530.86" rx="2.05" ry="1.58" transform="rotate(108 467.10 530.86)" fill="#4632b8" opacity="0.95"/>
<ellipse cx="502.19" cy="561.36" rx="2.24" ry="1.73" transform="rotate(27 502.19 561.36)" fill="#4632b8" opacity="0.95"/>
<ellipse cx="486.95" cy="525.08" rx="2.40" ry="1.86" transform="rotate(99 486.95 525.08)" fill="#4632b8" opacity="0.95"/>
<ellipse cx="486.25" cy="552.39" rx="1.88" ry="1.46" transform="rotate(87 486.25 552.39)" fill="#4632b8" opacity="0.95"/>
<ellipse cx="497.48" cy="558.93" rx="1.98" ry="1.53" transform="rotate(74 497.48 558.93)" fill="#4632b8" opacity="0.95"/>
<ellipse cx="482.24" cy="575.70" rx="2.03" ry="1.57" transform="rotate(173 482.24 575.70)" fill="#4632b8" opacity="0.95"/>
<ellipse cx="495.10" cy="532.56" rx="2.20" ry="1.70" transform="rotate(49 495.10 532.56)" fill="#4632b8" opacity="0.95"/>
<ellipse cx="473.43" cy="553.47" rx="2.30" ry="1.78" transform="rotate(186 473.43 553.47)" fill="#4632b8" opacity="0.95"/>
<ellipse cx="490.27" cy="530.95" rx="2.26" ry="1.75" transform="rotate(61 490.27 530.95)" fill="#4632b8" opacity="0.95"/>
<ellipse cx="475.55" cy="576.58" rx="2.15" ry="1.66" transform="rotate(142 475.55 576.58)" fill="#4632b8" opacity="0.95"/>
<ellipse cx="485.21" cy="556.81" rx="2.07" ry="1.60" transform="rotate(79 485.21 556.81)" fill="#4632b8" opacity="0.95"/>
<ellipse cx="466.97" cy="539.15" rx="2.44" ry="1.88" transform="rotate(46 466.97 539.15)" fill="#4632b8" opacity="0.95"/>
<ellipse cx="476.79" cy="528.87" rx="1.91" ry="1.47" transform="rotate(52 476.79 528.87)" fill="#4632b8" opacity="0.95"/>
<ellipse cx="464.68" cy="548.97" rx="2.12" ry="1.64" transform="rotate(-6 464.68 548.97)" fill="#4632b8" opacity="0.95"/>
<ellipse cx="477.64" cy="553.45" rx="1.96" ry="1.51" transform="rotate(186 477.64 553.45)" fill="#4632b8" opacity="0.95"/>
<ellipse cx="479.87" cy="533.73" rx="2.26" ry="1.75" transform="rotate(65 479.87 533.73)" fill="#4632b8" opacity="0.95"/>
<ellipse cx="477.19" cy="522.95" rx="2.19" ry="1.69" transform="rotate(26 477.19 522.95)" fill="#4632b8" opacity="0.95"/>
<ellipse cx="478.7" cy="558.6" rx="6" ry="7" fill="#1a0408" />
<ellipse cx="476" cy="562" rx="4" ry="4" fill="#1a0408" />
<ellipse cx="454.33" cy="563.22" rx="2.18" ry="1.66" transform="rotate(101 454.33 563.22)" fill="#4632b8" opacity="0.95"/>
<ellipse cx="438.83" cy="571.99" rx="1.80" ry="1.37" transform="rotate(71 438.83 571.99)" fill="#4632b8" opacity="0.95"/>
<ellipse cx="455.43" cy="596.44" rx="1.81" ry="1.38" transform="rotate(177 455.43 596.44)" fill="#4632b8" opacity="0.95"/>
<ellipse cx="442.26" cy="584.85" rx="2.21" ry="1.69" transform="rotate(111 442.26 584.85)" fill="#4632b8" opacity="0.95"/>
<ellipse cx="455.06" cy="587.93" rx="1.97" ry="1.50" transform="rotate(148 455.06 587.93)" fill="#4632b8" opacity="0.95"/>
<ellipse cx="440.73" cy="592.73" rx="1.90" ry="1.45" transform="rotate(122 440.73 592.73)" fill="#4632b8" opacity="0.95"/>
<ellipse cx="449.34" cy="570.69" rx="1.99" ry="1.52" transform="rotate(28 449.34 570.69)" fill="#4632b8" opacity="0.95"/>
<ellipse cx="455.74" cy="601.20" rx="1.92" ry="1.46" transform="rotate(143 455.74 601.20)" fill="#4632b8" opacity="0.95"/>
<ellipse cx="458.10" cy="591.15" rx="1.94" ry="1.48" transform="rotate(65 458.10 591.15)" fill="#4632b8" opacity="0.95"/>
<ellipse cx="452.37" cy="599.14" rx="1.92" ry="1.46" transform="rotate(104 452.37 599.14)" fill="#4632b8" opacity="0.95"/>
<ellipse cx="445.77" cy="595.60" rx="2.38" ry="1.82" transform="rotate(165 445.77 595.60)" fill="#4632b8" opacity="0.95"/>
<ellipse cx="453.14" cy="573.30" rx="1.89" ry="1.44" transform="rotate(15 453.14 573.30)" fill="#4632b8" opacity="0.95"/>
<ellipse cx="446.80" cy="576.14" rx="2.04" ry="1.56" transform="rotate(51 446.80 576.14)" fill="#4632b8" opacity="0.95"/>
<ellipse cx="466.39" cy="586.96" rx="2.05" ry="1.56" transform="rotate(74 466.39 586.96)" fill="#4632b8" opacity="0.95"/>
<ellipse cx="463.13" cy="577.02" rx="2.02" ry="1.54" transform="rotate(157 463.13 577.02)" fill="#4632b8" opacity="0.95"/>
<ellipse cx="446.11" cy="564.04" rx="2.33" ry="1.77" transform="rotate(108 446.11 564.04)" fill="#4632b8" opacity="0.95"/>
<ellipse cx="447.77" cy="599.75" rx="2.01" ry="1.53" transform="rotate(123 447.77 599.75)" fill="#4632b8" opacity="0.95"/>
<ellipse cx="460.99" cy="588.60" rx="2.02" ry="1.54" transform="rotate(158 460.99 588.60)" fill="#4632b8" opacity="0.95"/>
<ellipse cx="461.64" cy="571.34" rx="2.38" ry="1.81" transform="rotate(115 461.64 571.34)" fill="#4632b8" opacity="0.95"/>
<ellipse cx="457.45" cy="578.98" rx="2.12" ry="1.62" transform="rotate(88 457.45 578.98)" fill="#4632b8" opacity="0.95"/>
<ellipse cx="461.03" cy="596.13" rx="2.41" ry="1.84" transform="rotate(144 461.03 596.13)" fill="#4632b8" opacity="0.95"/>
<ellipse cx="464.61" cy="582.59" rx="2.03" ry="1.55" transform="rotate(65 464.61 582.59)" fill="#4632b8" opacity="0.95"/>
<ellipse cx="435.10" cy="583.20" rx="2.31" ry="1.76" transform="rotate(95 435.10 583.20)" fill="#4632b8" opacity="0.95"/>
<ellipse cx="439.99" cy="580.48" rx="1.81" ry="1.38" transform="rotate(63 439.99 580.48)" fill="#4632b8" opacity="0.95"/>
<ellipse cx="445.26" cy="581.10" rx="1.99" ry="1.52" transform="rotate(66 445.26 581.10)" fill="#4632b8" opacity="0.95"/>
<ellipse cx="459.11" cy="567.13" rx="1.98" ry="1.51" transform="rotate(56 459.11 567.13)" fill="#4632b8" opacity="0.95"/>
<ellipse cx="436.95" cy="588.50" rx="1.89" ry="1.44" transform="rotate(149 436.95 588.50)" fill="#4632b8" opacity="0.95"/>
<ellipse cx="451.46" cy="603.41" rx="2.36" ry="1.80" transform="rotate(72 451.46 603.41)" fill="#4632b8" opacity="0.95"/>
<ellipse cx="443.88" cy="568.47" rx="1.95" ry="1.48" transform="rotate(-3 443.88 568.47)" fill="#4632b8" opacity="0.95"/>
<ellipse cx="464.12" cy="593.21" rx="2.30" ry="1.75" transform="rotate(176 464.12 593.21)" fill="#4632b8" opacity="0.95"/>
<ellipse cx="435.98" cy="578.59" rx="2.05" ry="1.56" transform="rotate(142 435.98 578.59)" fill="#4632b8" opacity="0.95"/>
<ellipse cx="442.10" cy="588.90" rx="2.08" ry="1.58" transform="rotate(34 442.10 588.90)" fill="#4632b8" opacity="0.95"/>
<ellipse cx="443.09" cy="572.78" rx="2.38" ry="1.81" transform="rotate(160 443.09 572.78)" fill="#4632b8" opacity="0.95"/>
<ellipse cx="457.04" cy="571.10" rx="1.92" ry="1.46" transform="rotate(113 457.04 571.10)" fill="#4632b8" opacity="0.95"/>
<ellipse cx="445.87" cy="586.92" rx="2.15" ry="1.64" transform="rotate(27 445.87 586.92)" fill="#4632b8" opacity="0.95"/>
<ellipse cx="451.94" cy="594.50" rx="1.94" ry="1.48" transform="rotate(114 451.94 594.50)" fill="#4632b8" opacity="0.95"/>
<ellipse cx="457.41" cy="583.45" rx="2.24" ry="1.70" transform="rotate(141 457.41 583.45)" fill="#4632b8" opacity="0.95"/>
<ellipse cx="452.10" cy="590.41" rx="1.84" ry="1.40" transform="rotate(176 452.10 590.41)" fill="#4632b8" opacity="0.95"/>
<ellipse cx="442.04" cy="596.66" rx="2.26" ry="1.72" transform="rotate(121 442.04 596.66)" fill="#4632b8" opacity="0.95"/>
<ellipse cx="450.42" cy="563.40" rx="2.13" ry="1.62" transform="rotate(137 450.42 563.40)" fill="#4632b8" opacity="0.95"/>
<ellipse cx="446" cy="580.2" rx="6" ry="8.5" fill="#1e0408" />
<ellipse cx="444.5" cy="571" rx="4" ry="2.5" fill="#e8c020"/>
<ellipse cx="448" cy="581" rx="2" ry="2" fill="#a03040"/>
<ellipse cx="416.79" cy="596.08" rx="1.93" ry="1.48" transform="rotate(86 416.79 596.08)" fill="#6a5ac8" opacity="0.85"/>
<ellipse cx="414.78" cy="587.13" rx="1.58" ry="1.21" transform="rotate(175 414.78 587.13)" fill="#6a5ac8" opacity="0.85"/>
<ellipse cx="419.94" cy="586.74" rx="1.84" ry="1.41" transform="rotate(169 419.94 586.74)" fill="#6a5ac8" opacity="0.85"/>
<ellipse cx="430.90" cy="589.81" rx="1.61" ry="1.23" transform="rotate(33 430.90 589.81)" fill="#6a5ac8" opacity="0.85"/>
<ellipse cx="414.47" cy="591.88" rx="1.55" ry="1.18" transform="rotate(48 414.47 591.88)" fill="#6a5ac8" opacity="0.85"/>
<ellipse cx="425.34" cy="582.64" rx="1.72" ry="1.32" transform="rotate(107 425.34 582.64)" fill="#6a5ac8" opacity="0.85"/>
<ellipse cx="429.85" cy="585.92" rx="1.46" ry="1.12" transform="rotate(14 429.85 585.92)" fill="#6a5ac8" opacity="0.85"/>
<ellipse cx="410.72" cy="586.22" rx="1.81" ry="1.38" transform="rotate(127 410.72 586.22)" fill="#6a5ac8" opacity="0.85"/>
<ellipse cx="427.97" cy="593.18" rx="1.64" ry="1.25" transform="rotate(169 427.97 593.18)" fill="#6a5ac8" opacity="0.85"/>
<ellipse cx="423.73" cy="599.41" rx="1.85" ry="1.41" transform="rotate(54 423.73 599.41)" fill="#6a5ac8" opacity="0.85"/>
<ellipse cx="421.40" cy="596.66" rx="1.58" ry="1.21" transform="rotate(175 421.40 596.66)" fill="#6a5ac8" opacity="0.85"/>
<ellipse cx="424.06" cy="590.76" rx="1.85" ry="1.41" transform="rotate(39 424.06 590.76)" fill="#6a5ac8" opacity="0.85"/>
<ellipse cx="415.80" cy="581.03" rx="1.54" ry="1.18" transform="rotate(81 415.80 581.03)" fill="#6a5ac8" opacity="0.85"/>
<ellipse cx="412.24" cy="628.94" rx="2.04" ry="1.55" transform="rotate(-2 412.24 628.94)" fill="#3a34b0" opacity="0.95"/>
<ellipse cx="421.65" cy="618.59" rx="1.82" ry="1.39" transform="rotate(15 421.65 618.59)" fill="#3a34b0" opacity="0.95"/>
<ellipse cx="424.54" cy="622.43" rx="2.33" ry="1.78" transform="rotate(68 424.54 622.43)" fill="#3a34b0" opacity="0.95"/>
<ellipse cx="406.83" cy="624.04" rx="2.00" ry="1.52" transform="rotate(91 406.83 624.04)" fill="#3a34b0" opacity="0.95"/>
<ellipse cx="424.75" cy="634.71" rx="2.33" ry="1.77" transform="rotate(51 424.75 634.71)" fill="#3a34b0" opacity="0.95"/>
<ellipse cx="426.21" cy="616.95" rx="2.36" ry="1.80" transform="rotate(139 426.21 616.95)" fill="#3a34b0" opacity="0.95"/>
<ellipse cx="414.09" cy="620.77" rx="1.98" ry="1.51" transform="rotate(57 414.09 620.77)" fill="#3a34b0" opacity="0.95"/>
<ellipse cx="417.30" cy="623.51" rx="1.97" ry="1.50" transform="rotate(8 417.30 623.51)" fill="#3a34b0" opacity="0.95"/>
<ellipse cx="419.55" cy="629.17" rx="2.04" ry="1.56" transform="rotate(161 419.55 629.17)" fill="#3a34b0" opacity="0.95"/>
<ellipse cx="431.64" cy="635.01" rx="2.05" ry="1.56" transform="rotate(87 431.64 635.01)" fill="#3a34b0" opacity="0.95"/>
<ellipse cx="430.76" cy="619.97" rx="1.87" ry="1.42" transform="rotate(191 430.76 619.97)" fill="#3a34b0" opacity="0.95"/>
<ellipse cx="416.49" cy="636.09" rx="1.87" ry="1.43" transform="rotate(11 416.49 636.09)" fill="#3a34b0" opacity="0.95"/>
<ellipse cx="410.04" cy="633.18" rx="2.26" ry="1.72" transform="rotate(138 410.04 633.18)" fill="#3a34b0" opacity="0.95"/>
<ellipse cx="414.97" cy="640.14" rx="2.00" ry="1.53" transform="rotate(165 414.97 640.14)" fill="#3a34b0" opacity="0.95"/>
<ellipse cx="428.64" cy="638.00" rx="2.00" ry="1.52" transform="rotate(131 428.64 638.00)" fill="#3a34b0" opacity="0.95"/>
<ellipse cx="427.00" cy="625.49" rx="2.35" ry="1.79" transform="rotate(82 427.00 625.49)" fill="#3a34b0" opacity="0.95"/>
<ellipse cx="428.96" cy="631.67" rx="1.87" ry="1.43" transform="rotate(125 428.96 631.67)" fill="#3a34b0" opacity="0.95"/>
<ellipse cx="425.12" cy="630.14" rx="2.22" ry="1.69" transform="rotate(140 425.12 630.14)" fill="#3a34b0" opacity="0.95"/>
<ellipse cx="434.10" cy="624.61" rx="1.89" ry="1.44" transform="rotate(56 434.10 624.61)" fill="#3a34b0" opacity="0.95"/>
<ellipse cx="421.92" cy="639.78" rx="1.97" ry="1.50" transform="rotate(175 421.92 639.78)" fill="#3a34b0" opacity="0.95"/>
<ellipse cx="421.93" cy="614.25" rx="2.19" ry="1.67" transform="rotate(-6 421.93 614.25)" fill="#3a34b0" opacity="0.95"/>
<ellipse cx="432.67" cy="629.23" rx="2.23" ry="1.70" transform="rotate(1 432.67 629.23)" fill="#3a34b0" opacity="0.95"/>
<ellipse cx="473" cy="634.5" rx="10.5" ry="5.5" fill="#b83a18"/>
<ellipse cx="478" cy="634.5" rx="6" ry="5" fill="#e8c030"/>
<ellipse cx="470" cy="634" rx="2" ry="1.5" fill="#5a44d8"/>
<ellipse cx="479" cy="633" rx="1.8" ry="1.4" fill="#5a44d8"/>
</g>
<rect x="484.5" y="632.2" width="54.4" height="5.6" fill="#fff"/>
</g>
<text x="13.50" y="526.50" font-size="9.1" font-weight="normal" text-anchor="start" fill="#10e010" >CK5</text>
<text x="13.50" y="538.00" font-size="9.1" font-weight="normal" text-anchor="start" fill="#ff1010" >CK8</text>
<text x="13.50" y="548.30" font-size="9.1" font-weight="normal" text-anchor="start" fill="#2828ff" >Nuclear</text>
<text x="192.00" y="526.50" font-size="9.1" font-weight="bold" text-anchor="start" fill="#10e010" >CK5</text>
<text x="192.00" y="538.00" font-size="9.1" font-weight="bold" text-anchor="start" fill="#ff1010" >CK8</text>
<text x="192.00" y="548.30" font-size="9.1" font-weight="bold" text-anchor="start" fill="#2828ff" >Nuclear</text>
<text x="372.80" y="526.50" font-size="9.1" font-weight="bold" text-anchor="start" fill="#10e010" >CK5</text>
<text x="372.80" y="538.00" font-size="9.1" font-weight="bold" text-anchor="start" fill="#ff1010" >CK8</text>
<text x="372.80" y="548.30" font-size="9.1" font-weight="bold" text-anchor="start" fill="#2828ff" >Nuclear</text>
</svg></body></html>
